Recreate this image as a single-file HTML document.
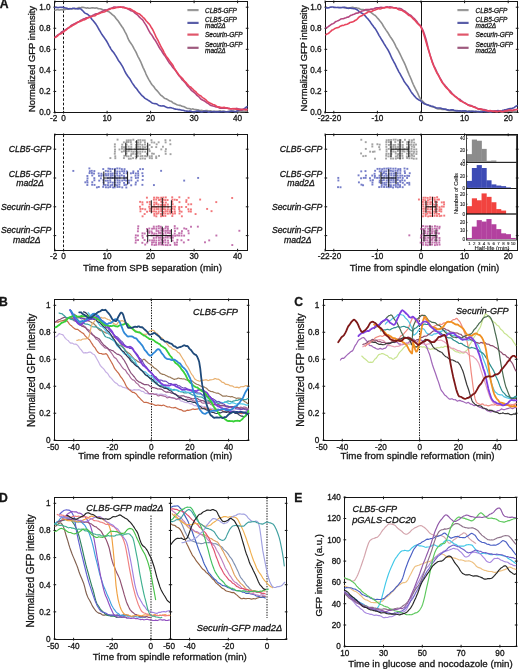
<!DOCTYPE html>
<html><head><meta charset="utf-8"><style>html,body{margin:0;padding:0;background:#fff;width:520px;height:669px;overflow:hidden}svg{display:block;filter:blur(0.3px)}text{font-family:"Liberation Sans",sans-serif}</style></head>
<body><svg width="520" height="669" viewBox="0 0 520 669" font-family="Liberation Sans, sans-serif"><text x="-0.3" y="8.4" font-size="12.2" text-anchor="start" font-weight="bold" fill="#151515" stroke="#151515" stroke-width="0.3">A</text>
<text x="-1" y="305.8" font-size="12.2" text-anchor="start" font-weight="bold" fill="#151515" stroke="#151515" stroke-width="0.3">B</text>
<text x="294.3" y="306.2" font-size="12.2" text-anchor="start" font-weight="bold" fill="#151515" stroke="#151515" stroke-width="0.3">C</text>
<text x="-1" y="501.9" font-size="12.2" text-anchor="start" font-weight="bold" fill="#151515" stroke="#151515" stroke-width="0.3">D</text>
<text x="294.3" y="502.1" font-size="12.2" text-anchor="start" font-weight="bold" fill="#151515" stroke="#151515" stroke-width="0.3">E</text>
<rect x="54.5" y="1.5" width="193" height="111" stroke="#151515" stroke-width="1" fill="none"/>
<line x1="54.9" y1="110.8" x2="54.9" y2="113.52" stroke="#151515" stroke-width="1"/>
<line x1="54.9" y1="0.48" x2="54.9" y2="3.2" stroke="#151515" stroke-width="1"/>
<line x1="63.6" y1="110.8" x2="63.6" y2="113.52" stroke="#151515" stroke-width="1"/>
<line x1="63.6" y1="0.48" x2="63.6" y2="3.2" stroke="#151515" stroke-width="1"/>
<line x1="107.1" y1="110.8" x2="107.1" y2="113.52" stroke="#151515" stroke-width="1"/>
<line x1="107.1" y1="0.48" x2="107.1" y2="3.2" stroke="#151515" stroke-width="1"/>
<line x1="150.6" y1="110.8" x2="150.6" y2="113.52" stroke="#151515" stroke-width="1"/>
<line x1="150.6" y1="0.48" x2="150.6" y2="3.2" stroke="#151515" stroke-width="1"/>
<line x1="194.1" y1="110.8" x2="194.1" y2="113.52" stroke="#151515" stroke-width="1"/>
<line x1="194.1" y1="0.48" x2="194.1" y2="3.2" stroke="#151515" stroke-width="1"/>
<line x1="237.6" y1="110.8" x2="237.6" y2="113.52" stroke="#151515" stroke-width="1"/>
<line x1="237.6" y1="0.48" x2="237.6" y2="3.2" stroke="#151515" stroke-width="1"/>
<line x1="53.48" y1="112.5" x2="56.2" y2="112.5" stroke="#151515" stroke-width="1"/>
<line x1="245.8" y1="112.5" x2="248.52" y2="112.5" stroke="#151515" stroke-width="1"/>
<line x1="53.48" y1="91.44" x2="56.2" y2="91.44" stroke="#151515" stroke-width="1"/>
<line x1="245.8" y1="91.44" x2="248.52" y2="91.44" stroke="#151515" stroke-width="1"/>
<line x1="53.48" y1="70.38" x2="56.2" y2="70.38" stroke="#151515" stroke-width="1"/>
<line x1="245.8" y1="70.38" x2="248.52" y2="70.38" stroke="#151515" stroke-width="1"/>
<line x1="53.48" y1="49.32" x2="56.2" y2="49.32" stroke="#151515" stroke-width="1"/>
<line x1="245.8" y1="49.32" x2="248.52" y2="49.32" stroke="#151515" stroke-width="1"/>
<line x1="53.48" y1="28.26" x2="56.2" y2="28.26" stroke="#151515" stroke-width="1"/>
<line x1="245.8" y1="28.26" x2="248.52" y2="28.26" stroke="#151515" stroke-width="1"/>
<line x1="53.48" y1="7.2" x2="56.2" y2="7.2" stroke="#151515" stroke-width="1"/>
<line x1="245.8" y1="7.2" x2="248.52" y2="7.2" stroke="#151515" stroke-width="1"/>
<line x1="63.5" y1="1.5" x2="63.5" y2="112.5" stroke="#151515" stroke-width="1" stroke-dasharray="2.6,1.8"/>
<text x="50.6" y="115.3" font-size="8.2" text-anchor="end" fill="#151515" stroke="#151515" stroke-width="0.3">0.0</text>
<text x="50.6" y="94.24" font-size="8.2" text-anchor="end" fill="#151515" stroke="#151515" stroke-width="0.3">0.2</text>
<text x="50.6" y="73.18" font-size="8.2" text-anchor="end" fill="#151515" stroke="#151515" stroke-width="0.3">0.4</text>
<text x="50.6" y="52.12" font-size="8.2" text-anchor="end" fill="#151515" stroke="#151515" stroke-width="0.3">0.6</text>
<text x="50.6" y="31.06" font-size="8.2" text-anchor="end" fill="#151515" stroke="#151515" stroke-width="0.3">0.8</text>
<text x="50.6" y="10" font-size="8.2" text-anchor="end" fill="#151515" stroke="#151515" stroke-width="0.3">1.0</text>
<text x="53.7" y="120.5" font-size="8.2" text-anchor="middle" fill="#151515" stroke="#151515" stroke-width="0.3">-2</text>
<text x="63.6" y="120.5" font-size="8.2" text-anchor="middle" fill="#151515" stroke="#151515" stroke-width="0.3">0</text>
<text x="107.1" y="120.5" font-size="8.2" text-anchor="middle" fill="#151515" stroke="#151515" stroke-width="0.3">10</text>
<text x="150.6" y="120.5" font-size="8.2" text-anchor="middle" fill="#151515" stroke="#151515" stroke-width="0.3">20</text>
<text x="194.1" y="120.5" font-size="8.2" text-anchor="middle" fill="#151515" stroke="#151515" stroke-width="0.3">30</text>
<text x="237.6" y="120.5" font-size="8.2" text-anchor="middle" fill="#151515" stroke="#151515" stroke-width="0.3">40</text>
<text x="35.4" y="59" font-size="9.4" text-anchor="middle" fill="#151515" transform="rotate(-90 35.4 59)" stroke="#151515" stroke-width="0.3">Normalized GFP intensity</text>
<polyline points="55,10.35 56,10.08 57,9.78 58,9.79 59,10.07 60,9.86 61,9.57 62,9.79 63,9.88 64,9.65 65,9.4 66,9.11 67,9.05 68,9.15 69,8.79 70,8.49 71,8.78 72,8.95 73,8.8 74,8.72 75,8.6 76,8.57 77,8.52 78,7.97 79,7.53 80,7.68 81,7.65 82,7.4 83,7.4 84,7.53 85,7.82 86,8.1 87,7.92 88,7.88 89,8.27 90,8.27 91,7.95 92,7.87 93,7.9 94,8.01 95,8.12 96,7.92 97,8.02 98,8.6 99,8.8 100,8.76 101,9.04 102,9.38 103,9.68 104,9.93 105,9.93 106,10.28 107,11.08 108,11.51 109,11.81 110,12.57 111,13.44 112,14.29 113,15.14 114,15.87 115,17.02 116,18.56 117,19.66 118,20.7 119,22.25 120,23.8 121,25.24 122,26.68 123,28.05 124,29.8 125,31.84 126,33.59 127,35.75 128,38.41 129,40.48 130,42.03 131,43.48 132,44.87 133,46.64 134,48.66 135,50.3 136,52.07 137,54.4 138,56.57 139,58.48 140,60.46 141,62.46 142,64.84 143,67.35 144,69.4 145,71.54 146,74.08 147,76.23 148,78.02 149,79.81 150,81.48 151,83.2 152,84.76 153,85.76 154,86.9 155,88.46 156,89.66 157,90.61 158,91.77 159,92.96 160,94.23 161,95.36 162,95.99 163,96.79 164,97.89 165,98.47 166,98.75 167,99.28 168,99.85 169,100.48 170,101.04 171,101.3 172,101.92 173,102.9 174,103.38 175,103.64 176,104.19 177,104.69 178,105.09 179,105.35 180,105.32 181,105.68 182,106.33 183,106.51 184,106.64 185,107.2 186,107.74 187,108.16 188,108.44 189,108.46 190,108.79 191,109.23 192,109.08 193,108.9 194,109.2 195,109.44 196,109.58 197,109.71 198,109.77 199,110.18 200,110.66 201,110.53 202,110.41 203,110.71 204,110.79 205,110.67 206,110.56 207,110.45 208,110.71 209,111.03 210,110.86 211,110.87 212,111.33 213,111.5 214,111.41 215,111.34 216,111.21 217,111.31 218,111.37 219,110.96 220,110.83 221,111.21 222,111.32 223,111.26 224,111.35 225,111.45 226,111.71 227,111.8 228,111.4 229,111.27 230,111.52 231,111.37 232,111.09 233,111.09 234,111.18 235,111.45 236,111.6 237,111.38 238,111.51 239,111.91 240,111.78 241,111.46 242,111.41 243,111.37 244,111.41 245,111.34 246,111.05 247,111.23" fill="none" stroke="#8e8e8e" stroke-width="1.6" stroke-linejoin="round" stroke-linecap="round"/>
<polyline points="55,7.44 56,7.39 57,7.42 58,7.6 59,7.52 60,7.27 61,7.28 62,7.35 63,7.33 64,7.54 65,7.88 66,8.03 67,8.25 68,8.68 69,8.88 70,8.8 71,8.77 72,8.61 73,8.29 74,8.29 75,8.59 76,8.71 77,8.77 78,8.85 79,8.71 80,8.62 81,9.13 82,10.04 83,11.04 84,12.18 85,13.13 86,13.56 87,13.92 88,14.64 89,15.51 90,16.58 91,18.03 92,19.44 93,20.53 94,21.7 95,23.04 96,24.33 97,25.83 98,27.72 99,29.49 100,31.11 101,32.89 102,34.58 103,35.94 104,37.33 105,38.81 106,40.2 107,41.76 108,43.68 109,45.54 110,47.26 111,49.06 112,50.61 113,51.75 114,53.03 115,54.58 116,56.14 117,57.85 118,59.73 119,61.3 120,62.57 121,64.05 122,65.69 123,67.4 124,69.49 125,71.71 126,73.5 127,74.97 128,76.43 129,77.74 130,79.07 131,80.8 132,82.6 133,84.1 134,85.56 135,86.98 136,88.11 137,89.31 138,90.78 139,92.12 140,93.26 141,94.5 142,95.62 143,96.45 144,97.37 145,98.32 146,98.92 147,99.43 148,100.13 149,100.74 150,101.34 151,102.19 152,102.94 153,103.23 154,103.43 155,103.66 156,103.78 157,104.11 158,104.84 159,105.44 160,105.7 161,105.9 162,105.93 163,105.78 164,105.98 165,106.56 166,107.03 167,107.41 168,107.78 169,107.8 170,107.62 171,107.75 172,108.07 173,108.3 174,108.67 175,109.09 176,109.17 177,109.19 178,109.44 179,109.61 180,109.67 181,109.94 182,110.22 183,110.29 184,110.54 185,110.95 186,111.08 187,111.09 188,111.18 189,111.09 190,110.95 191,111.18 192,111.55 193,111.69 194,111.77 195,111.74 196,111.35 197,111.02 198,111.13 199,111.37 200,111.59 201,111.92 202,112 203,111.63 204,111.34 205,111.33 206,111.36 207,111.55 208,111.97 209,112.1 210,111.88 211,111.77 212,111.69 213,111.52 214,111.6 215,111.87 216,111.89 217,111.82 218,111.92 219,111.89 220,111.72 221,111.75 222,111.77 223,111.55 224,111.5 225,111.69 226,111.75 227,111.77 228,111.88 229,111.7 230,111.28 231,111.12 232,111.18 233,111.22 234,111.45 235,111.71 236,111.49 237,111.01 238,110.68 239,110.37 240,110.12 241,110.19 242,110.16 243,109.64 244,108.93 245,108.2 246,107.29 247,106.59" fill="none" stroke="#4b50a8" stroke-width="1.6" stroke-linejoin="round" stroke-linecap="round"/>
<polyline points="55,36.9 56,36.34 57,35.64 58,34.83 59,34.32 60,33.74 61,32.63 62,31.65 63,31.15 64,30.64 65,30.07 66,29.46 67,28.67 68,28.07 69,27.66 70,26.76 71,25.62 72,24.94 73,24.45 74,23.92 75,23.45 76,22.87 77,22.35 78,22.19 79,21.79 80,20.85 81,20.12 82,19.72 83,19.25 84,18.84 85,18.42 86,17.92 87,17.81 88,17.79 89,17.19 90,16.44 91,16.03 92,15.62 93,15.15 94,14.72 95,14.16 96,13.84 97,13.91 98,13.6 99,12.86 100,12.36 101,11.99 102,11.49 103,11.04 104,10.47 105,9.95 106,9.94 107,9.94 108,9.4 109,8.9 110,8.65 111,8.31 112,7.94 113,7.55 114,7.03 115,6.96 116,7.3 117,7.27 118,7.04 119,7.14 120,7.26 121,7.27 122,7.28 123,7.09 124,7.09 125,7.69 126,8.24 127,8.44 128,8.9 129,9.57 130,10.13 131,10.69 132,11.06 133,11.32 134,12.11 135,13.17 136,13.84 137,14.51 138,15.54 139,16.57 140,17.58 141,18.53 142,19.25 143,20.34 144,22.05 145,23.66 146,25.13 147,26.99 148,29 149,30.91 150,32.7 151,34.06 152,35.3 153,37.01 154,38.74 155,40.06 156,41.56 157,43.37 158,45.19 159,47.04 160,48.67 161,49.94 162,51.49 163,53.3 164,54.69 165,55.93 166,57.49 167,59.14 168,60.83 169,62.45 170,63.64 171,64.82 172,66.39 173,67.74 174,68.69 175,69.87 176,71.29 177,72.76 178,74.36 179,75.66 180,76.69 181,78.09 182,79.55 183,80.49 184,81.38 185,82.54 186,83.78 187,85.18 188,86.51 189,87.43 190,88.53 191,89.94 192,90.91 193,91.52 194,92.32 195,93.2 196,94.21 197,95.35 198,96.16 199,96.91 200,98.11 201,99.17 202,99.68 203,100.17 204,100.76 205,101.39 206,102.21 207,102.89 208,103.28 209,104.05 210,105.05 211,105.54 212,105.74 213,106.02 214,106.26 215,106.62 216,106.99 217,106.99 218,107.13 219,107.78 220,108.19 221,108.17 222,108.17 223,108.14 224,108.13 225,108.27 226,108.13 227,107.87 228,108.17 229,108.66 230,108.74 231,108.73 232,108.75 233,108.72 234,108.83 235,108.81 236,108.43 237,108.4 238,108.86 239,109.09 240,109.1 241,109.21 242,109.26 243,109.38 244,109.53 245,109.25 246,108.95 247,109.24" fill="none" stroke="#b4467f" stroke-width="1.6" stroke-linejoin="round" stroke-linecap="round"/>
<polyline points="55,37.61 56,37.09 57,36.29 58,35.5 59,34.67 60,33.92 61,33.73 62,33.15 63,32.35 64,31.54 65,30.64 66,30.13 67,29.23 68,28.18 69,27.48 70,26.84 71,26.6 72,26.01 73,25.17 74,24.7 75,24.11 76,23.65 77,22.9 78,21.97 79,21.66 80,21.35 81,21.1 82,20.7 83,20.05 84,19.92 85,19.59 86,19.01 87,18.38 88,17.62 89,17.47 90,17.25 91,16.78 92,16.48 93,16.06 94,16.03 95,15.75 96,14.97 97,14.42 98,13.85 99,13.61 100,13.31 101,12.63 102,12.41 103,12.21 104,12.06 105,11.72 106,10.86 107,10.4 108,10.01 109,9.56 110,9.15 111,8.5 112,8.45 113,8.54 114,8.34 115,8.14 116,7.64 117,7.55 118,7.56 119,7.18 120,7.03 121,6.89 122,7.2 123,7.7 124,7.69 125,7.87 126,8.03 127,8.35 128,8.74 129,8.6 130,8.81 131,9.31 132,9.94 133,10.73 134,11.04 135,11.65 136,12.47 137,13.04 138,13.63 139,13.82 140,14.39 141,15.41 142,16.24 143,17.26 144,18.13 145,19.29 146,20.8 147,21.81 148,22.84 149,23.84 150,25.13 151,26.94 152,28.45 153,30.25 154,32.33 155,34.51 156,36.88 157,38.66 158,40.47 159,42.55 160,44.55 161,46.73 162,48.43 163,50.18 164,52.3 165,54.14 166,55.92 167,57.21 168,58.43 169,60.07 170,61.38 171,62.72 172,64 173,65.47 174,67.55 175,69.27 176,70.82 177,72.28 178,73.58 179,75.17 180,76.21 181,77.02 182,78.05 183,79.12 184,80.6 185,81.7 186,82.59 187,83.82 188,84.9 189,86.08 190,86.83 191,87.32 192,88.34 193,89.29 194,90.34 195,91.22 196,91.93 197,93.19 198,94.21 199,94.99 200,95.61 201,96.03 202,97.01 203,97.83 204,98.44 205,99.22 206,99.95 207,101.13 208,102.03 209,102.44 210,102.99 211,103.39 212,104.07 213,104.56 214,104.68 215,105.24 216,105.81 217,106.5 218,106.95 219,106.89 220,107.18 221,107.4 222,107.52 223,107.55 224,107.29 225,107.62 226,108.06 227,108.28 228,108.49 229,108.38 230,108.68 231,108.94 232,108.75 233,108.67 234,108.51 235,108.81 236,109.24 237,109.2 238,109.38 239,109.5 240,109.77 241,110 242,109.61 243,109.5 244,109.53 245,109.69 246,109.98 247,109.8" fill="none" stroke="#e8455e" stroke-width="1.6" stroke-linejoin="round" stroke-linecap="round"/>
<line x1="187.4" y1="10.1" x2="198.6" y2="10.1" stroke="#999999" stroke-width="2.2"/>
<text x="205" y="12.5" font-size="6.5" text-anchor="start" font-style="italic" fill="#222" stroke="#222" stroke-width="0.3">CLB5-GFP</text>
<line x1="187.4" y1="22.9" x2="198.6" y2="22.9" stroke="#5a5ea8" stroke-width="2.2"/>
<text x="205" y="22.1" font-size="6.5" text-anchor="start" font-style="italic" fill="#222" stroke="#222" stroke-width="0.3">CLB5-GFP</text>
<text x="205" y="28.1" font-size="6.5" text-anchor="start" font-style="italic" fill="#222" stroke="#222" stroke-width="0.3">mad2Δ</text>
<line x1="187.4" y1="34.6" x2="198.6" y2="34.6" stroke="#e0566a" stroke-width="2.2"/>
<text x="205" y="37" font-size="6.5" text-anchor="start" font-style="italic" fill="#222" stroke="#222" stroke-width="0.3">Securin-GFP</text>
<line x1="187.4" y1="47.8" x2="198.6" y2="47.8" stroke="#9e5a7e" stroke-width="2.2"/>
<text x="205" y="47" font-size="6.5" text-anchor="start" font-style="italic" fill="#222" stroke="#222" stroke-width="0.3">Securin-GFP</text>
<text x="205" y="53" font-size="6.5" text-anchor="start" font-style="italic" fill="#222" stroke="#222" stroke-width="0.3">mad2Δ</text>
<rect x="54.5" y="134.5" width="193" height="116" stroke="#151515" stroke-width="1" fill="none"/>
<line x1="54.9" y1="248.8" x2="54.9" y2="251.52" stroke="#151515" stroke-width="1"/>
<line x1="54.9" y1="133.48" x2="54.9" y2="136.2" stroke="#151515" stroke-width="1"/>
<line x1="63.6" y1="248.8" x2="63.6" y2="251.52" stroke="#151515" stroke-width="1"/>
<line x1="63.6" y1="133.48" x2="63.6" y2="136.2" stroke="#151515" stroke-width="1"/>
<line x1="107.1" y1="248.8" x2="107.1" y2="251.52" stroke="#151515" stroke-width="1"/>
<line x1="107.1" y1="133.48" x2="107.1" y2="136.2" stroke="#151515" stroke-width="1"/>
<line x1="150.6" y1="248.8" x2="150.6" y2="251.52" stroke="#151515" stroke-width="1"/>
<line x1="150.6" y1="133.48" x2="150.6" y2="136.2" stroke="#151515" stroke-width="1"/>
<line x1="194.1" y1="248.8" x2="194.1" y2="251.52" stroke="#151515" stroke-width="1"/>
<line x1="194.1" y1="133.48" x2="194.1" y2="136.2" stroke="#151515" stroke-width="1"/>
<line x1="237.6" y1="248.8" x2="237.6" y2="251.52" stroke="#151515" stroke-width="1"/>
<line x1="237.6" y1="133.48" x2="237.6" y2="136.2" stroke="#151515" stroke-width="1"/>
<line x1="53.48" y1="149.2" x2="56.2" y2="149.2" stroke="#151515" stroke-width="1"/>
<line x1="245.8" y1="149.2" x2="248.52" y2="149.2" stroke="#151515" stroke-width="1"/>
<line x1="53.48" y1="178" x2="56.2" y2="178" stroke="#151515" stroke-width="1"/>
<line x1="245.8" y1="178" x2="248.52" y2="178" stroke="#151515" stroke-width="1"/>
<line x1="53.48" y1="206.8" x2="56.2" y2="206.8" stroke="#151515" stroke-width="1"/>
<line x1="245.8" y1="206.8" x2="248.52" y2="206.8" stroke="#151515" stroke-width="1"/>
<line x1="53.48" y1="235.6" x2="56.2" y2="235.6" stroke="#151515" stroke-width="1"/>
<line x1="245.8" y1="235.6" x2="248.52" y2="235.6" stroke="#151515" stroke-width="1"/>
<line x1="63.5" y1="134.5" x2="63.5" y2="250.5" stroke="#151515" stroke-width="1" stroke-dasharray="2.6,1.8"/>
<text x="53.7" y="258.8" font-size="8.2" text-anchor="middle" fill="#151515" stroke="#151515" stroke-width="0.3">-2</text>
<text x="63.6" y="258.8" font-size="8.2" text-anchor="middle" fill="#151515" stroke="#151515" stroke-width="0.3">0</text>
<text x="107.1" y="258.8" font-size="8.2" text-anchor="middle" fill="#151515" stroke="#151515" stroke-width="0.3">10</text>
<text x="150.6" y="258.8" font-size="8.2" text-anchor="middle" fill="#151515" stroke="#151515" stroke-width="0.3">20</text>
<text x="194.1" y="258.8" font-size="8.2" text-anchor="middle" fill="#151515" stroke="#151515" stroke-width="0.3">30</text>
<text x="237.6" y="258.8" font-size="8.2" text-anchor="middle" fill="#151515" stroke="#151515" stroke-width="0.3">40</text>
<text x="152.5" y="270.8" font-size="9.75" text-anchor="middle" fill="#151515" stroke="#151515" stroke-width="0.3">Time from SPB separation (min)</text>
<text x="51.2" y="152.4" font-size="8.7" text-anchor="end" font-style="italic" fill="#151515" stroke="#151515" stroke-width="0.3">CLB5-GFP</text>
<text x="51.2" y="176.6" font-size="8.7" text-anchor="end" font-style="italic" fill="#151515" stroke="#151515" stroke-width="0.3">CLB5-GFP</text>
<text x="29.95" y="185.9" font-size="8.7" text-anchor="middle" font-style="italic" fill="#151515" stroke="#151515" stroke-width="0.3">mad2Δ</text>
<text x="51.2" y="210.2" font-size="8.7" text-anchor="end" font-style="italic" fill="#151515" stroke="#151515" stroke-width="0.3">Securin-GFP</text>
<text x="51.2" y="233.4" font-size="8.7" text-anchor="end" font-style="italic" fill="#151515" stroke="#151515" stroke-width="0.3">Securin-GFP</text>
<text x="26.75" y="242.7" font-size="8.7" text-anchor="middle" font-style="italic" fill="#151515" stroke="#151515" stroke-width="0.3">mad2Δ</text>
<rect x="113.92" y="143.36" width="1.9" height="1.9" fill="#7c7c7c" fill-opacity="0.7"/>
<rect x="114.05" y="148.52" width="1.9" height="1.9" fill="#7c7c7c" fill-opacity="0.7"/>
<rect x="114.29" y="155.32" width="1.9" height="1.9" fill="#7c7c7c" fill-opacity="0.7"/>
<rect x="114.37" y="157.27" width="1.9" height="1.9" fill="#7c7c7c" fill-opacity="0.7"/>
<rect x="113.82" y="152.81" width="1.9" height="1.9" fill="#7c7c7c" fill-opacity="0.7"/>
<rect x="113.89" y="145.72" width="1.9" height="1.9" fill="#7c7c7c" fill-opacity="0.7"/>
<rect x="113.99" y="150.65" width="1.9" height="1.9" fill="#7c7c7c" fill-opacity="0.7"/>
<rect x="118.52" y="148.52" width="1.9" height="1.9" fill="#7c7c7c" fill-opacity="0.7"/>
<rect x="109.42" y="157.11" width="1.9" height="1.9" fill="#7c7c7c" fill-opacity="0.7"/>
<rect x="116.61" y="138.68" width="1.9" height="1.9" fill="#7c7c7c" fill-opacity="0.7"/>
<rect x="125.78" y="150.34" width="1.9" height="1.9" fill="#7c7c7c" fill-opacity="0.7"/>
<rect x="125.3" y="147.89" width="1.9" height="1.9" fill="#7c7c7c" fill-opacity="0.7"/>
<rect x="125.64" y="143.61" width="1.9" height="1.9" fill="#7c7c7c" fill-opacity="0.7"/>
<rect x="125.64" y="155.27" width="1.9" height="1.9" fill="#7c7c7c" fill-opacity="0.7"/>
<rect x="125.77" y="139.42" width="1.9" height="1.9" fill="#7c7c7c" fill-opacity="0.7"/>
<rect x="125.68" y="141.11" width="1.9" height="1.9" fill="#7c7c7c" fill-opacity="0.7"/>
<rect x="125.53" y="152.59" width="1.9" height="1.9" fill="#7c7c7c" fill-opacity="0.7"/>
<rect x="125.21" y="145.93" width="1.9" height="1.9" fill="#7c7c7c" fill-opacity="0.7"/>
<rect x="134.68" y="153.08" width="1.9" height="1.9" fill="#7c7c7c" fill-opacity="0.7"/>
<rect x="135.03" y="141.02" width="1.9" height="1.9" fill="#7c7c7c" fill-opacity="0.7"/>
<rect x="135.05" y="146.13" width="1.9" height="1.9" fill="#7c7c7c" fill-opacity="0.7"/>
<rect x="134.49" y="148.21" width="1.9" height="1.9" fill="#7c7c7c" fill-opacity="0.7"/>
<rect x="134.84" y="155.48" width="1.9" height="1.9" fill="#7c7c7c" fill-opacity="0.7"/>
<rect x="134.66" y="150.61" width="1.9" height="1.9" fill="#7c7c7c" fill-opacity="0.7"/>
<rect x="135.02" y="143.89" width="1.9" height="1.9" fill="#7c7c7c" fill-opacity="0.7"/>
<rect x="135.06" y="157.42" width="1.9" height="1.9" fill="#7c7c7c" fill-opacity="0.7"/>
<rect x="130.48" y="150.58" width="1.9" height="1.9" fill="#7c7c7c" fill-opacity="0.7"/>
<rect x="130.35" y="143.51" width="1.9" height="1.9" fill="#7c7c7c" fill-opacity="0.7"/>
<rect x="130.44" y="153.13" width="1.9" height="1.9" fill="#7c7c7c" fill-opacity="0.7"/>
<rect x="130.04" y="154.82" width="1.9" height="1.9" fill="#7c7c7c" fill-opacity="0.7"/>
<rect x="130.11" y="148.29" width="1.9" height="1.9" fill="#7c7c7c" fill-opacity="0.7"/>
<rect x="130.34" y="145.94" width="1.9" height="1.9" fill="#7c7c7c" fill-opacity="0.7"/>
<rect x="129.82" y="139.3" width="1.9" height="1.9" fill="#7c7c7c" fill-opacity="0.7"/>
<rect x="129.84" y="157.69" width="1.9" height="1.9" fill="#7c7c7c" fill-opacity="0.7"/>
<rect x="129.92" y="141.22" width="1.9" height="1.9" fill="#7c7c7c" fill-opacity="0.7"/>
<rect x="152.9" y="152.86" width="1.9" height="1.9" fill="#7c7c7c" fill-opacity="0.7"/>
<rect x="153.31" y="141.62" width="1.9" height="1.9" fill="#7c7c7c" fill-opacity="0.7"/>
<rect x="141.5" y="150.73" width="1.9" height="1.9" fill="#7c7c7c" fill-opacity="0.7"/>
<rect x="141.75" y="157.47" width="1.9" height="1.9" fill="#7c7c7c" fill-opacity="0.7"/>
<rect x="141.89" y="146" width="1.9" height="1.9" fill="#7c7c7c" fill-opacity="0.7"/>
<rect x="141.52" y="155.05" width="1.9" height="1.9" fill="#7c7c7c" fill-opacity="0.7"/>
<rect x="141.89" y="139.37" width="1.9" height="1.9" fill="#7c7c7c" fill-opacity="0.7"/>
<rect x="141.45" y="143.93" width="1.9" height="1.9" fill="#7c7c7c" fill-opacity="0.7"/>
<rect x="141.98" y="148.27" width="1.9" height="1.9" fill="#7c7c7c" fill-opacity="0.7"/>
<rect x="121.02" y="147.87" width="1.9" height="1.9" fill="#7c7c7c" fill-opacity="0.7"/>
<rect x="121.28" y="143.66" width="1.9" height="1.9" fill="#7c7c7c" fill-opacity="0.7"/>
<rect x="120.88" y="150.79" width="1.9" height="1.9" fill="#7c7c7c" fill-opacity="0.7"/>
<rect x="120.99" y="145.94" width="1.9" height="1.9" fill="#7c7c7c" fill-opacity="0.7"/>
<rect x="127.83" y="150.25" width="1.9" height="1.9" fill="#7c7c7c" fill-opacity="0.7"/>
<rect x="127.8" y="139.3" width="1.9" height="1.9" fill="#7c7c7c" fill-opacity="0.7"/>
<rect x="128.13" y="148.23" width="1.9" height="1.9" fill="#7c7c7c" fill-opacity="0.7"/>
<rect x="127.72" y="145.7" width="1.9" height="1.9" fill="#7c7c7c" fill-opacity="0.7"/>
<rect x="127.93" y="157.79" width="1.9" height="1.9" fill="#7c7c7c" fill-opacity="0.7"/>
<rect x="127.59" y="155.37" width="1.9" height="1.9" fill="#7c7c7c" fill-opacity="0.7"/>
<rect x="127.52" y="141.11" width="1.9" height="1.9" fill="#7c7c7c" fill-opacity="0.7"/>
<rect x="139.18" y="143.41" width="1.9" height="1.9" fill="#7c7c7c" fill-opacity="0.7"/>
<rect x="139.37" y="152.8" width="1.9" height="1.9" fill="#7c7c7c" fill-opacity="0.7"/>
<rect x="139.26" y="145.88" width="1.9" height="1.9" fill="#7c7c7c" fill-opacity="0.7"/>
<rect x="139.37" y="147.98" width="1.9" height="1.9" fill="#7c7c7c" fill-opacity="0.7"/>
<rect x="139.14" y="150.66" width="1.9" height="1.9" fill="#7c7c7c" fill-opacity="0.7"/>
<rect x="139.45" y="139.07" width="1.9" height="1.9" fill="#7c7c7c" fill-opacity="0.7"/>
<rect x="139.6" y="155.24" width="1.9" height="1.9" fill="#7c7c7c" fill-opacity="0.7"/>
<rect x="139.6" y="141.14" width="1.9" height="1.9" fill="#7c7c7c" fill-opacity="0.7"/>
<rect x="139.52" y="157.7" width="1.9" height="1.9" fill="#7c7c7c" fill-opacity="0.7"/>
<rect x="155.25" y="155.55" width="1.9" height="1.9" fill="#7c7c7c" fill-opacity="0.7"/>
<rect x="155.72" y="143.36" width="1.9" height="1.9" fill="#7c7c7c" fill-opacity="0.7"/>
<rect x="155.27" y="146.13" width="1.9" height="1.9" fill="#7c7c7c" fill-opacity="0.7"/>
<rect x="155.28" y="157.13" width="1.9" height="1.9" fill="#7c7c7c" fill-opacity="0.7"/>
<rect x="145.99" y="152.77" width="1.9" height="1.9" fill="#7c7c7c" fill-opacity="0.7"/>
<rect x="146.38" y="145.56" width="1.9" height="1.9" fill="#7c7c7c" fill-opacity="0.7"/>
<rect x="146.04" y="155.3" width="1.9" height="1.9" fill="#7c7c7c" fill-opacity="0.7"/>
<rect x="123.38" y="154.9" width="1.9" height="1.9" fill="#7c7c7c" fill-opacity="0.7"/>
<rect x="122.95" y="157.13" width="1.9" height="1.9" fill="#7c7c7c" fill-opacity="0.7"/>
<rect x="122.93" y="141.39" width="1.9" height="1.9" fill="#7c7c7c" fill-opacity="0.7"/>
<rect x="123.26" y="148.3" width="1.9" height="1.9" fill="#7c7c7c" fill-opacity="0.7"/>
<rect x="123" y="150.3" width="1.9" height="1.9" fill="#7c7c7c" fill-opacity="0.7"/>
<rect x="123.04" y="146.22" width="1.9" height="1.9" fill="#7c7c7c" fill-opacity="0.7"/>
<rect x="151.04" y="157.31" width="1.9" height="1.9" fill="#7c7c7c" fill-opacity="0.7"/>
<rect x="150.83" y="155.16" width="1.9" height="1.9" fill="#7c7c7c" fill-opacity="0.7"/>
<rect x="150.8" y="141.43" width="1.9" height="1.9" fill="#7c7c7c" fill-opacity="0.7"/>
<rect x="150.51" y="139.21" width="1.9" height="1.9" fill="#7c7c7c" fill-opacity="0.7"/>
<rect x="151.09" y="152.6" width="1.9" height="1.9" fill="#7c7c7c" fill-opacity="0.7"/>
<rect x="150.82" y="146.14" width="1.9" height="1.9" fill="#7c7c7c" fill-opacity="0.7"/>
<rect x="144.09" y="146.24" width="1.9" height="1.9" fill="#7c7c7c" fill-opacity="0.7"/>
<rect x="144.04" y="143.57" width="1.9" height="1.9" fill="#7c7c7c" fill-opacity="0.7"/>
<rect x="144.02" y="141.35" width="1.9" height="1.9" fill="#7c7c7c" fill-opacity="0.7"/>
<rect x="144.29" y="150.79" width="1.9" height="1.9" fill="#7c7c7c" fill-opacity="0.7"/>
<rect x="143.78" y="139.38" width="1.9" height="1.9" fill="#7c7c7c" fill-opacity="0.7"/>
<rect x="144.12" y="157.67" width="1.9" height="1.9" fill="#7c7c7c" fill-opacity="0.7"/>
<rect x="144.17" y="155.07" width="1.9" height="1.9" fill="#7c7c7c" fill-opacity="0.7"/>
<rect x="136.94" y="155.13" width="1.9" height="1.9" fill="#7c7c7c" fill-opacity="0.7"/>
<rect x="136.71" y="152.73" width="1.9" height="1.9" fill="#7c7c7c" fill-opacity="0.7"/>
<rect x="137.15" y="148.35" width="1.9" height="1.9" fill="#7c7c7c" fill-opacity="0.7"/>
<rect x="136.86" y="150.91" width="1.9" height="1.9" fill="#7c7c7c" fill-opacity="0.7"/>
<rect x="137.17" y="145.82" width="1.9" height="1.9" fill="#7c7c7c" fill-opacity="0.7"/>
<rect x="137.16" y="141.41" width="1.9" height="1.9" fill="#7c7c7c" fill-opacity="0.7"/>
<rect x="137.07" y="143.56" width="1.9" height="1.9" fill="#7c7c7c" fill-opacity="0.7"/>
<rect x="137.4" y="139.16" width="1.9" height="1.9" fill="#7c7c7c" fill-opacity="0.7"/>
<rect x="132.53" y="150.74" width="1.9" height="1.9" fill="#7c7c7c" fill-opacity="0.7"/>
<rect x="132.28" y="152.77" width="1.9" height="1.9" fill="#7c7c7c" fill-opacity="0.7"/>
<rect x="132.14" y="157.21" width="1.9" height="1.9" fill="#7c7c7c" fill-opacity="0.7"/>
<rect x="132.36" y="138.73" width="1.9" height="1.9" fill="#7c7c7c" fill-opacity="0.7"/>
<rect x="148.6" y="144.05" width="1.9" height="1.9" fill="#7c7c7c" fill-opacity="0.7"/>
<rect x="148.65" y="155.4" width="1.9" height="1.9" fill="#7c7c7c" fill-opacity="0.7"/>
<rect x="148.25" y="148.33" width="1.9" height="1.9" fill="#7c7c7c" fill-opacity="0.7"/>
<rect x="148.73" y="150.19" width="1.9" height="1.9" fill="#7c7c7c" fill-opacity="0.7"/>
<rect x="148.85" y="157.18" width="1.9" height="1.9" fill="#7c7c7c" fill-opacity="0.7"/>
<rect x="164.96" y="148.19" width="1.9" height="1.9" fill="#7c7c7c" fill-opacity="0.7"/>
<rect x="164.67" y="141.43" width="1.9" height="1.9" fill="#7c7c7c" fill-opacity="0.7"/>
<rect x="164.56" y="150.38" width="1.9" height="1.9" fill="#7c7c7c" fill-opacity="0.7"/>
<rect x="164.76" y="152.9" width="1.9" height="1.9" fill="#7c7c7c" fill-opacity="0.7"/>
<rect x="164.5" y="139.22" width="1.9" height="1.9" fill="#7c7c7c" fill-opacity="0.7"/>
<rect x="162.01" y="145.75" width="1.9" height="1.9" fill="#7c7c7c" fill-opacity="0.7"/>
<rect x="169.17" y="139.37" width="1.9" height="1.9" fill="#7c7c7c" fill-opacity="0.7"/>
<rect x="169.42" y="143.29" width="1.9" height="1.9" fill="#7c7c7c" fill-opacity="0.7"/>
<rect x="169.59" y="153.21" width="1.9" height="1.9" fill="#7c7c7c" fill-opacity="0.7"/>
<rect x="157.7" y="141.33" width="1.9" height="1.9" fill="#7c7c7c" fill-opacity="0.7"/>
<rect x="158.08" y="154.94" width="1.9" height="1.9" fill="#7c7c7c" fill-opacity="0.7"/>
<rect x="160.36" y="148.43" width="1.9" height="1.9" fill="#7c7c7c" fill-opacity="0.7"/>
<line x1="125.8" y1="149.2" x2="147.7" y2="149.2" stroke="#151515" stroke-width="1.0"/>
<line x1="136.7" y1="140.2" x2="136.7" y2="158.2" stroke="#151515" stroke-width="1.0"/>
<line x1="125.8" y1="142.7" x2="125.8" y2="155.7" stroke="#151515" stroke-width="1.0"/>
<line x1="147.7" y1="142.7" x2="147.7" y2="155.7" stroke="#151515" stroke-width="1.0"/>
<rect x="91.28" y="174.52" width="1.9" height="1.9" fill="#3a46b0" fill-opacity="0.7"/>
<rect x="91.32" y="181.27" width="1.9" height="1.9" fill="#3a46b0" fill-opacity="0.7"/>
<rect x="90.92" y="172.06" width="1.9" height="1.9" fill="#3a46b0" fill-opacity="0.7"/>
<rect x="90.82" y="169.88" width="1.9" height="1.9" fill="#3a46b0" fill-opacity="0.7"/>
<rect x="91.2" y="183.79" width="1.9" height="1.9" fill="#3a46b0" fill-opacity="0.7"/>
<rect x="93.07" y="172.6" width="1.9" height="1.9" fill="#3a46b0" fill-opacity="0.7"/>
<rect x="93.38" y="170.11" width="1.9" height="1.9" fill="#3a46b0" fill-opacity="0.7"/>
<rect x="93.37" y="177.17" width="1.9" height="1.9" fill="#3a46b0" fill-opacity="0.7"/>
<rect x="93.56" y="183.95" width="1.9" height="1.9" fill="#3a46b0" fill-opacity="0.7"/>
<rect x="93.44" y="179.32" width="1.9" height="1.9" fill="#3a46b0" fill-opacity="0.7"/>
<rect x="86.29" y="179.69" width="1.9" height="1.9" fill="#3a46b0" fill-opacity="0.7"/>
<rect x="86.44" y="175.03" width="1.9" height="1.9" fill="#3a46b0" fill-opacity="0.7"/>
<rect x="86.58" y="177.42" width="1.9" height="1.9" fill="#3a46b0" fill-opacity="0.7"/>
<rect x="86.58" y="181.59" width="1.9" height="1.9" fill="#3a46b0" fill-opacity="0.7"/>
<rect x="86.38" y="184.04" width="1.9" height="1.9" fill="#3a46b0" fill-opacity="0.7"/>
<rect x="84.39" y="181.35" width="1.9" height="1.9" fill="#3a46b0" fill-opacity="0.7"/>
<rect x="88.44" y="167.46" width="1.9" height="1.9" fill="#3a46b0" fill-opacity="0.7"/>
<rect x="88.57" y="172.14" width="1.9" height="1.9" fill="#3a46b0" fill-opacity="0.7"/>
<rect x="88.88" y="170.24" width="1.9" height="1.9" fill="#3a46b0" fill-opacity="0.7"/>
<rect x="95.97" y="186.45" width="1.9" height="1.9" fill="#3a46b0" fill-opacity="0.7"/>
<rect x="109.32" y="186.04" width="1.9" height="1.9" fill="#3a46b0" fill-opacity="0.7"/>
<rect x="109.16" y="167.94" width="1.9" height="1.9" fill="#3a46b0" fill-opacity="0.7"/>
<rect x="109.77" y="172.84" width="1.9" height="1.9" fill="#3a46b0" fill-opacity="0.7"/>
<rect x="109.64" y="184.3" width="1.9" height="1.9" fill="#3a46b0" fill-opacity="0.7"/>
<rect x="109.35" y="176.89" width="1.9" height="1.9" fill="#3a46b0" fill-opacity="0.7"/>
<rect x="109.75" y="174.83" width="1.9" height="1.9" fill="#3a46b0" fill-opacity="0.7"/>
<rect x="109.57" y="181.26" width="1.9" height="1.9" fill="#3a46b0" fill-opacity="0.7"/>
<rect x="109.26" y="179.34" width="1.9" height="1.9" fill="#3a46b0" fill-opacity="0.7"/>
<rect x="109.61" y="170.41" width="1.9" height="1.9" fill="#3a46b0" fill-opacity="0.7"/>
<rect x="111.84" y="181.68" width="1.9" height="1.9" fill="#3a46b0" fill-opacity="0.7"/>
<rect x="111.65" y="174.53" width="1.9" height="1.9" fill="#3a46b0" fill-opacity="0.7"/>
<rect x="111.67" y="172.54" width="1.9" height="1.9" fill="#3a46b0" fill-opacity="0.7"/>
<rect x="111.49" y="183.98" width="1.9" height="1.9" fill="#3a46b0" fill-opacity="0.7"/>
<rect x="112.07" y="186.45" width="1.9" height="1.9" fill="#3a46b0" fill-opacity="0.7"/>
<rect x="111.58" y="176.98" width="1.9" height="1.9" fill="#3a46b0" fill-opacity="0.7"/>
<rect x="111.47" y="168.04" width="1.9" height="1.9" fill="#3a46b0" fill-opacity="0.7"/>
<rect x="113.93" y="179.35" width="1.9" height="1.9" fill="#3a46b0" fill-opacity="0.7"/>
<rect x="114.02" y="169.89" width="1.9" height="1.9" fill="#3a46b0" fill-opacity="0.7"/>
<rect x="113.98" y="176.81" width="1.9" height="1.9" fill="#3a46b0" fill-opacity="0.7"/>
<rect x="113.93" y="181.54" width="1.9" height="1.9" fill="#3a46b0" fill-opacity="0.7"/>
<rect x="113.94" y="175.1" width="1.9" height="1.9" fill="#3a46b0" fill-opacity="0.7"/>
<rect x="113.91" y="172.32" width="1.9" height="1.9" fill="#3a46b0" fill-opacity="0.7"/>
<rect x="114.16" y="183.87" width="1.9" height="1.9" fill="#3a46b0" fill-opacity="0.7"/>
<rect x="114.06" y="167.97" width="1.9" height="1.9" fill="#3a46b0" fill-opacity="0.7"/>
<rect x="113.75" y="186.39" width="1.9" height="1.9" fill="#3a46b0" fill-opacity="0.7"/>
<rect x="104.81" y="169.98" width="1.9" height="1.9" fill="#3a46b0" fill-opacity="0.7"/>
<rect x="105.09" y="174.54" width="1.9" height="1.9" fill="#3a46b0" fill-opacity="0.7"/>
<rect x="104.64" y="184.06" width="1.9" height="1.9" fill="#3a46b0" fill-opacity="0.7"/>
<rect x="104.95" y="186.32" width="1.9" height="1.9" fill="#3a46b0" fill-opacity="0.7"/>
<rect x="104.84" y="179.72" width="1.9" height="1.9" fill="#3a46b0" fill-opacity="0.7"/>
<rect x="104.82" y="172.8" width="1.9" height="1.9" fill="#3a46b0" fill-opacity="0.7"/>
<rect x="134.57" y="174.77" width="1.9" height="1.9" fill="#3a46b0" fill-opacity="0.7"/>
<rect x="134.91" y="177.05" width="1.9" height="1.9" fill="#3a46b0" fill-opacity="0.7"/>
<rect x="134.86" y="172.54" width="1.9" height="1.9" fill="#3a46b0" fill-opacity="0.7"/>
<rect x="134.9" y="181.53" width="1.9" height="1.9" fill="#3a46b0" fill-opacity="0.7"/>
<rect x="134.61" y="183.57" width="1.9" height="1.9" fill="#3a46b0" fill-opacity="0.7"/>
<rect x="102.79" y="183.89" width="1.9" height="1.9" fill="#3a46b0" fill-opacity="0.7"/>
<rect x="102.42" y="181.46" width="1.9" height="1.9" fill="#3a46b0" fill-opacity="0.7"/>
<rect x="102.49" y="174.39" width="1.9" height="1.9" fill="#3a46b0" fill-opacity="0.7"/>
<rect x="102.24" y="185.94" width="1.9" height="1.9" fill="#3a46b0" fill-opacity="0.7"/>
<rect x="102.42" y="179.08" width="1.9" height="1.9" fill="#3a46b0" fill-opacity="0.7"/>
<rect x="102.29" y="168.12" width="1.9" height="1.9" fill="#3a46b0" fill-opacity="0.7"/>
<rect x="116.37" y="174.64" width="1.9" height="1.9" fill="#3a46b0" fill-opacity="0.7"/>
<rect x="116.13" y="177.38" width="1.9" height="1.9" fill="#3a46b0" fill-opacity="0.7"/>
<rect x="116.54" y="181.69" width="1.9" height="1.9" fill="#3a46b0" fill-opacity="0.7"/>
<rect x="116.55" y="186.06" width="1.9" height="1.9" fill="#3a46b0" fill-opacity="0.7"/>
<rect x="116.37" y="170.48" width="1.9" height="1.9" fill="#3a46b0" fill-opacity="0.7"/>
<rect x="116.08" y="172.54" width="1.9" height="1.9" fill="#3a46b0" fill-opacity="0.7"/>
<rect x="116.13" y="184.22" width="1.9" height="1.9" fill="#3a46b0" fill-opacity="0.7"/>
<rect x="116.59" y="179.47" width="1.9" height="1.9" fill="#3a46b0" fill-opacity="0.7"/>
<rect x="116.31" y="167.47" width="1.9" height="1.9" fill="#3a46b0" fill-opacity="0.7"/>
<rect x="99.95" y="177.39" width="1.9" height="1.9" fill="#3a46b0" fill-opacity="0.7"/>
<rect x="100.27" y="174.8" width="1.9" height="1.9" fill="#3a46b0" fill-opacity="0.7"/>
<rect x="100.49" y="172.77" width="1.9" height="1.9" fill="#3a46b0" fill-opacity="0.7"/>
<rect x="130.43" y="176.67" width="1.9" height="1.9" fill="#3a46b0" fill-opacity="0.7"/>
<rect x="130.36" y="179.37" width="1.9" height="1.9" fill="#3a46b0" fill-opacity="0.7"/>
<rect x="130.24" y="184.34" width="1.9" height="1.9" fill="#3a46b0" fill-opacity="0.7"/>
<rect x="129.95" y="172.38" width="1.9" height="1.9" fill="#3a46b0" fill-opacity="0.7"/>
<rect x="127.87" y="181.87" width="1.9" height="1.9" fill="#3a46b0" fill-opacity="0.7"/>
<rect x="127.97" y="179.65" width="1.9" height="1.9" fill="#3a46b0" fill-opacity="0.7"/>
<rect x="106.89" y="179.72" width="1.9" height="1.9" fill="#3a46b0" fill-opacity="0.7"/>
<rect x="107.17" y="174.49" width="1.9" height="1.9" fill="#3a46b0" fill-opacity="0.7"/>
<rect x="107.38" y="172.74" width="1.9" height="1.9" fill="#3a46b0" fill-opacity="0.7"/>
<rect x="107.48" y="167.63" width="1.9" height="1.9" fill="#3a46b0" fill-opacity="0.7"/>
<rect x="107.08" y="170.28" width="1.9" height="1.9" fill="#3a46b0" fill-opacity="0.7"/>
<rect x="107" y="177.11" width="1.9" height="1.9" fill="#3a46b0" fill-opacity="0.7"/>
<rect x="107.29" y="186.45" width="1.9" height="1.9" fill="#3a46b0" fill-opacity="0.7"/>
<rect x="107.38" y="181.85" width="1.9" height="1.9" fill="#3a46b0" fill-opacity="0.7"/>
<rect x="107" y="184.15" width="1.9" height="1.9" fill="#3a46b0" fill-opacity="0.7"/>
<rect x="123.13" y="177.1" width="1.9" height="1.9" fill="#3a46b0" fill-opacity="0.7"/>
<rect x="123.28" y="170.17" width="1.9" height="1.9" fill="#3a46b0" fill-opacity="0.7"/>
<rect x="123.59" y="168.17" width="1.9" height="1.9" fill="#3a46b0" fill-opacity="0.7"/>
<rect x="123.11" y="181.95" width="1.9" height="1.9" fill="#3a46b0" fill-opacity="0.7"/>
<rect x="123.12" y="175.1" width="1.9" height="1.9" fill="#3a46b0" fill-opacity="0.7"/>
<rect x="122.94" y="172.3" width="1.9" height="1.9" fill="#3a46b0" fill-opacity="0.7"/>
<rect x="123.55" y="184.08" width="1.9" height="1.9" fill="#3a46b0" fill-opacity="0.7"/>
<rect x="123.39" y="179.11" width="1.9" height="1.9" fill="#3a46b0" fill-opacity="0.7"/>
<rect x="121.17" y="170.29" width="1.9" height="1.9" fill="#3a46b0" fill-opacity="0.7"/>
<rect x="121.3" y="186.47" width="1.9" height="1.9" fill="#3a46b0" fill-opacity="0.7"/>
<rect x="120.91" y="168.18" width="1.9" height="1.9" fill="#3a46b0" fill-opacity="0.7"/>
<rect x="120.82" y="174.39" width="1.9" height="1.9" fill="#3a46b0" fill-opacity="0.7"/>
<rect x="121.27" y="179.65" width="1.9" height="1.9" fill="#3a46b0" fill-opacity="0.7"/>
<rect x="118.66" y="179.49" width="1.9" height="1.9" fill="#3a46b0" fill-opacity="0.7"/>
<rect x="118.63" y="174.97" width="1.9" height="1.9" fill="#3a46b0" fill-opacity="0.7"/>
<rect x="118.79" y="170.54" width="1.9" height="1.9" fill="#3a46b0" fill-opacity="0.7"/>
<rect x="118.89" y="172.59" width="1.9" height="1.9" fill="#3a46b0" fill-opacity="0.7"/>
<rect x="118.71" y="167.58" width="1.9" height="1.9" fill="#3a46b0" fill-opacity="0.7"/>
<rect x="118.63" y="177.01" width="1.9" height="1.9" fill="#3a46b0" fill-opacity="0.7"/>
<rect x="118.41" y="183.71" width="1.9" height="1.9" fill="#3a46b0" fill-opacity="0.7"/>
<rect x="118.59" y="185.99" width="1.9" height="1.9" fill="#3a46b0" fill-opacity="0.7"/>
<rect x="118.74" y="181.51" width="1.9" height="1.9" fill="#3a46b0" fill-opacity="0.7"/>
<rect x="97.87" y="186.01" width="1.9" height="1.9" fill="#3a46b0" fill-opacity="0.7"/>
<rect x="98.27" y="179.68" width="1.9" height="1.9" fill="#3a46b0" fill-opacity="0.7"/>
<rect x="98.06" y="174.87" width="1.9" height="1.9" fill="#3a46b0" fill-opacity="0.7"/>
<rect x="97.7" y="172.48" width="1.9" height="1.9" fill="#3a46b0" fill-opacity="0.7"/>
<rect x="137.21" y="172.44" width="1.9" height="1.9" fill="#3a46b0" fill-opacity="0.7"/>
<rect x="137.32" y="174.48" width="1.9" height="1.9" fill="#3a46b0" fill-opacity="0.7"/>
<rect x="136.76" y="179.7" width="1.9" height="1.9" fill="#3a46b0" fill-opacity="0.7"/>
<rect x="137.13" y="170.3" width="1.9" height="1.9" fill="#3a46b0" fill-opacity="0.7"/>
<rect x="137.09" y="176.77" width="1.9" height="1.9" fill="#3a46b0" fill-opacity="0.7"/>
<rect x="125.37" y="186.54" width="1.9" height="1.9" fill="#3a46b0" fill-opacity="0.7"/>
<rect x="125.38" y="176.71" width="1.9" height="1.9" fill="#3a46b0" fill-opacity="0.7"/>
<rect x="125.31" y="183.77" width="1.9" height="1.9" fill="#3a46b0" fill-opacity="0.7"/>
<rect x="125.86" y="170.45" width="1.9" height="1.9" fill="#3a46b0" fill-opacity="0.7"/>
<rect x="125.67" y="172.39" width="1.9" height="1.9" fill="#3a46b0" fill-opacity="0.7"/>
<rect x="125.23" y="179.62" width="1.9" height="1.9" fill="#3a46b0" fill-opacity="0.7"/>
<rect x="132.4" y="170.44" width="1.9" height="1.9" fill="#3a46b0" fill-opacity="0.7"/>
<rect x="132.23" y="172.1" width="1.9" height="1.9" fill="#3a46b0" fill-opacity="0.7"/>
<rect x="141.45" y="183.9" width="1.9" height="1.9" fill="#3a46b0" fill-opacity="0.7"/>
<rect x="141.95" y="168.12" width="1.9" height="1.9" fill="#3a46b0" fill-opacity="0.7"/>
<rect x="141.68" y="179.02" width="1.9" height="1.9" fill="#3a46b0" fill-opacity="0.7"/>
<rect x="141.42" y="172.29" width="1.9" height="1.9" fill="#3a46b0" fill-opacity="0.7"/>
<rect x="141.86" y="175.08" width="1.9" height="1.9" fill="#3a46b0" fill-opacity="0.7"/>
<rect x="139.23" y="168.22" width="1.9" height="1.9" fill="#3a46b0" fill-opacity="0.7"/>
<rect x="72.36" y="169.96" width="1.9" height="1.9" fill="#3a46b0" fill-opacity="0.7"/>
<rect x="152.98" y="184.13" width="1.9" height="1.9" fill="#3a46b0" fill-opacity="0.7"/>
<rect x="160.16" y="169.89" width="1.9" height="1.9" fill="#3a46b0" fill-opacity="0.7"/>
<rect x="183.22" y="179.65" width="1.9" height="1.9" fill="#3a46b0" fill-opacity="0.7"/>
<rect x="197.19" y="176.98" width="1.9" height="1.9" fill="#3a46b0" fill-opacity="0.7"/>
<line x1="103.8" y1="178" x2="127.6" y2="178" stroke="#151515" stroke-width="1.0"/>
<line x1="114.8" y1="169" x2="114.8" y2="187" stroke="#151515" stroke-width="1.0"/>
<line x1="103.8" y1="171.5" x2="103.8" y2="184.5" stroke="#151515" stroke-width="1.0"/>
<line x1="127.6" y1="171.5" x2="127.6" y2="184.5" stroke="#151515" stroke-width="1.0"/>
<rect x="141.62" y="215.37" width="1.9" height="1.9" fill="#ec3c40" fill-opacity="0.7"/>
<rect x="141.68" y="207.91" width="1.9" height="1.9" fill="#ec3c40" fill-opacity="0.7"/>
<rect x="141.56" y="203.53" width="1.9" height="1.9" fill="#ec3c40" fill-opacity="0.7"/>
<rect x="141.43" y="201.31" width="1.9" height="1.9" fill="#ec3c40" fill-opacity="0.7"/>
<rect x="145.97" y="196.72" width="1.9" height="1.9" fill="#ec3c40" fill-opacity="0.7"/>
<rect x="146.12" y="210.76" width="1.9" height="1.9" fill="#ec3c40" fill-opacity="0.7"/>
<rect x="146.25" y="201.27" width="1.9" height="1.9" fill="#ec3c40" fill-opacity="0.7"/>
<rect x="148.87" y="210.07" width="1.9" height="1.9" fill="#ec3c40" fill-opacity="0.7"/>
<rect x="148.8" y="200.96" width="1.9" height="1.9" fill="#ec3c40" fill-opacity="0.7"/>
<rect x="148.79" y="207.87" width="1.9" height="1.9" fill="#ec3c40" fill-opacity="0.7"/>
<rect x="148.24" y="205.85" width="1.9" height="1.9" fill="#ec3c40" fill-opacity="0.7"/>
<rect x="148.85" y="203.36" width="1.9" height="1.9" fill="#ec3c40" fill-opacity="0.7"/>
<rect x="139.01" y="205.81" width="1.9" height="1.9" fill="#ec3c40" fill-opacity="0.7"/>
<rect x="139.53" y="208.02" width="1.9" height="1.9" fill="#ec3c40" fill-opacity="0.7"/>
<rect x="139.15" y="200.89" width="1.9" height="1.9" fill="#ec3c40" fill-opacity="0.7"/>
<rect x="139.49" y="210.39" width="1.9" height="1.9" fill="#ec3c40" fill-opacity="0.7"/>
<rect x="143.67" y="213.08" width="1.9" height="1.9" fill="#ec3c40" fill-opacity="0.7"/>
<rect x="144.25" y="208.4" width="1.9" height="1.9" fill="#ec3c40" fill-opacity="0.7"/>
<rect x="150.97" y="210.52" width="1.9" height="1.9" fill="#ec3c40" fill-opacity="0.7"/>
<rect x="150.68" y="207.86" width="1.9" height="1.9" fill="#ec3c40" fill-opacity="0.7"/>
<rect x="151.01" y="205.93" width="1.9" height="1.9" fill="#ec3c40" fill-opacity="0.7"/>
<rect x="162.4" y="196.58" width="1.9" height="1.9" fill="#ec3c40" fill-opacity="0.7"/>
<rect x="162.65" y="208.11" width="1.9" height="1.9" fill="#ec3c40" fill-opacity="0.7"/>
<rect x="162.67" y="205.72" width="1.9" height="1.9" fill="#ec3c40" fill-opacity="0.7"/>
<rect x="162.47" y="203.88" width="1.9" height="1.9" fill="#ec3c40" fill-opacity="0.7"/>
<rect x="162.48" y="212.65" width="1.9" height="1.9" fill="#ec3c40" fill-opacity="0.7"/>
<rect x="162.05" y="215.03" width="1.9" height="1.9" fill="#ec3c40" fill-opacity="0.7"/>
<rect x="162.29" y="201.5" width="1.9" height="1.9" fill="#ec3c40" fill-opacity="0.7"/>
<rect x="162.55" y="210.84" width="1.9" height="1.9" fill="#ec3c40" fill-opacity="0.7"/>
<rect x="162.31" y="198.88" width="1.9" height="1.9" fill="#ec3c40" fill-opacity="0.7"/>
<rect x="171.85" y="205.69" width="1.9" height="1.9" fill="#ec3c40" fill-opacity="0.7"/>
<rect x="171.34" y="210.83" width="1.9" height="1.9" fill="#ec3c40" fill-opacity="0.7"/>
<rect x="171.26" y="196.34" width="1.9" height="1.9" fill="#ec3c40" fill-opacity="0.7"/>
<rect x="171.29" y="200.9" width="1.9" height="1.9" fill="#ec3c40" fill-opacity="0.7"/>
<rect x="171.47" y="198.72" width="1.9" height="1.9" fill="#ec3c40" fill-opacity="0.7"/>
<rect x="171.31" y="207.76" width="1.9" height="1.9" fill="#ec3c40" fill-opacity="0.7"/>
<rect x="171.69" y="203.19" width="1.9" height="1.9" fill="#ec3c40" fill-opacity="0.7"/>
<rect x="171.36" y="215.1" width="1.9" height="1.9" fill="#ec3c40" fill-opacity="0.7"/>
<rect x="171.82" y="212.88" width="1.9" height="1.9" fill="#ec3c40" fill-opacity="0.7"/>
<rect x="173.54" y="208.25" width="1.9" height="1.9" fill="#ec3c40" fill-opacity="0.7"/>
<rect x="173.86" y="210.47" width="1.9" height="1.9" fill="#ec3c40" fill-opacity="0.7"/>
<rect x="174.05" y="212.49" width="1.9" height="1.9" fill="#ec3c40" fill-opacity="0.7"/>
<rect x="173.99" y="205.79" width="1.9" height="1.9" fill="#ec3c40" fill-opacity="0.7"/>
<rect x="173.8" y="198.75" width="1.9" height="1.9" fill="#ec3c40" fill-opacity="0.7"/>
<rect x="164.9" y="201.62" width="1.9" height="1.9" fill="#ec3c40" fill-opacity="0.7"/>
<rect x="164.48" y="208.4" width="1.9" height="1.9" fill="#ec3c40" fill-opacity="0.7"/>
<rect x="164.45" y="205.69" width="1.9" height="1.9" fill="#ec3c40" fill-opacity="0.7"/>
<rect x="164.37" y="215" width="1.9" height="1.9" fill="#ec3c40" fill-opacity="0.7"/>
<rect x="164.37" y="199.11" width="1.9" height="1.9" fill="#ec3c40" fill-opacity="0.7"/>
<rect x="164.7" y="210.39" width="1.9" height="1.9" fill="#ec3c40" fill-opacity="0.7"/>
<rect x="164.8" y="196.44" width="1.9" height="1.9" fill="#ec3c40" fill-opacity="0.7"/>
<rect x="164.53" y="212.64" width="1.9" height="1.9" fill="#ec3c40" fill-opacity="0.7"/>
<rect x="164.3" y="203.86" width="1.9" height="1.9" fill="#ec3c40" fill-opacity="0.7"/>
<rect x="159.87" y="198.67" width="1.9" height="1.9" fill="#ec3c40" fill-opacity="0.7"/>
<rect x="160.33" y="200.87" width="1.9" height="1.9" fill="#ec3c40" fill-opacity="0.7"/>
<rect x="159.95" y="212.95" width="1.9" height="1.9" fill="#ec3c40" fill-opacity="0.7"/>
<rect x="160.22" y="210.14" width="1.9" height="1.9" fill="#ec3c40" fill-opacity="0.7"/>
<rect x="160.22" y="205.9" width="1.9" height="1.9" fill="#ec3c40" fill-opacity="0.7"/>
<rect x="160.14" y="203.9" width="1.9" height="1.9" fill="#ec3c40" fill-opacity="0.7"/>
<rect x="160.26" y="196.73" width="1.9" height="1.9" fill="#ec3c40" fill-opacity="0.7"/>
<rect x="160.24" y="208.14" width="1.9" height="1.9" fill="#ec3c40" fill-opacity="0.7"/>
<rect x="160.09" y="215.3" width="1.9" height="1.9" fill="#ec3c40" fill-opacity="0.7"/>
<rect x="153.38" y="208.23" width="1.9" height="1.9" fill="#ec3c40" fill-opacity="0.7"/>
<rect x="153.19" y="203.78" width="1.9" height="1.9" fill="#ec3c40" fill-opacity="0.7"/>
<rect x="153.11" y="196.68" width="1.9" height="1.9" fill="#ec3c40" fill-opacity="0.7"/>
<rect x="153.33" y="212.93" width="1.9" height="1.9" fill="#ec3c40" fill-opacity="0.7"/>
<rect x="153.32" y="201.56" width="1.9" height="1.9" fill="#ec3c40" fill-opacity="0.7"/>
<rect x="153.19" y="205.89" width="1.9" height="1.9" fill="#ec3c40" fill-opacity="0.7"/>
<rect x="152.93" y="198.74" width="1.9" height="1.9" fill="#ec3c40" fill-opacity="0.7"/>
<rect x="153.1" y="210.45" width="1.9" height="1.9" fill="#ec3c40" fill-opacity="0.7"/>
<rect x="153.43" y="214.68" width="1.9" height="1.9" fill="#ec3c40" fill-opacity="0.7"/>
<rect x="166.9" y="203.6" width="1.9" height="1.9" fill="#ec3c40" fill-opacity="0.7"/>
<rect x="166.64" y="210.37" width="1.9" height="1.9" fill="#ec3c40" fill-opacity="0.7"/>
<rect x="167.16" y="206.04" width="1.9" height="1.9" fill="#ec3c40" fill-opacity="0.7"/>
<rect x="166.99" y="212.69" width="1.9" height="1.9" fill="#ec3c40" fill-opacity="0.7"/>
<rect x="166.63" y="199.11" width="1.9" height="1.9" fill="#ec3c40" fill-opacity="0.7"/>
<rect x="166.91" y="208.33" width="1.9" height="1.9" fill="#ec3c40" fill-opacity="0.7"/>
<rect x="155.76" y="208.16" width="1.9" height="1.9" fill="#ec3c40" fill-opacity="0.7"/>
<rect x="155.46" y="203.2" width="1.9" height="1.9" fill="#ec3c40" fill-opacity="0.7"/>
<rect x="155.66" y="212.86" width="1.9" height="1.9" fill="#ec3c40" fill-opacity="0.7"/>
<rect x="155.27" y="198.64" width="1.9" height="1.9" fill="#ec3c40" fill-opacity="0.7"/>
<rect x="155.39" y="215.4" width="1.9" height="1.9" fill="#ec3c40" fill-opacity="0.7"/>
<rect x="155.71" y="196.62" width="1.9" height="1.9" fill="#ec3c40" fill-opacity="0.7"/>
<rect x="155.13" y="210.71" width="1.9" height="1.9" fill="#ec3c40" fill-opacity="0.7"/>
<rect x="155.24" y="206.03" width="1.9" height="1.9" fill="#ec3c40" fill-opacity="0.7"/>
<rect x="155.45" y="201.62" width="1.9" height="1.9" fill="#ec3c40" fill-opacity="0.7"/>
<rect x="158.07" y="199.08" width="1.9" height="1.9" fill="#ec3c40" fill-opacity="0.7"/>
<rect x="157.75" y="210.53" width="1.9" height="1.9" fill="#ec3c40" fill-opacity="0.7"/>
<rect x="157.57" y="208.12" width="1.9" height="1.9" fill="#ec3c40" fill-opacity="0.7"/>
<rect x="157.48" y="196.83" width="1.9" height="1.9" fill="#ec3c40" fill-opacity="0.7"/>
<rect x="157.45" y="205.87" width="1.9" height="1.9" fill="#ec3c40" fill-opacity="0.7"/>
<rect x="157.53" y="203.6" width="1.9" height="1.9" fill="#ec3c40" fill-opacity="0.7"/>
<rect x="157.44" y="212.37" width="1.9" height="1.9" fill="#ec3c40" fill-opacity="0.7"/>
<rect x="169.37" y="208.55" width="1.9" height="1.9" fill="#ec3c40" fill-opacity="0.7"/>
<rect x="169" y="210.55" width="1.9" height="1.9" fill="#ec3c40" fill-opacity="0.7"/>
<rect x="169.35" y="212.49" width="1.9" height="1.9" fill="#ec3c40" fill-opacity="0.7"/>
<rect x="175.97" y="198.97" width="1.9" height="1.9" fill="#ec3c40" fill-opacity="0.7"/>
<rect x="187.81" y="210.46" width="1.9" height="1.9" fill="#ec3c40" fill-opacity="0.7"/>
<rect x="187.42" y="208.24" width="1.9" height="1.9" fill="#ec3c40" fill-opacity="0.7"/>
<rect x="187.47" y="203.4" width="1.9" height="1.9" fill="#ec3c40" fill-opacity="0.7"/>
<rect x="187.62" y="196.85" width="1.9" height="1.9" fill="#ec3c40" fill-opacity="0.7"/>
<rect x="185.47" y="199.2" width="1.9" height="1.9" fill="#ec3c40" fill-opacity="0.7"/>
<rect x="185.18" y="206.03" width="1.9" height="1.9" fill="#ec3c40" fill-opacity="0.7"/>
<rect x="185.32" y="201.02" width="1.9" height="1.9" fill="#ec3c40" fill-opacity="0.7"/>
<rect x="178.51" y="201.19" width="1.9" height="1.9" fill="#ec3c40" fill-opacity="0.7"/>
<rect x="178.27" y="208.1" width="1.9" height="1.9" fill="#ec3c40" fill-opacity="0.7"/>
<rect x="178.58" y="212.57" width="1.9" height="1.9" fill="#ec3c40" fill-opacity="0.7"/>
<rect x="178.2" y="206.15" width="1.9" height="1.9" fill="#ec3c40" fill-opacity="0.7"/>
<rect x="178.41" y="196.31" width="1.9" height="1.9" fill="#ec3c40" fill-opacity="0.7"/>
<rect x="178.72" y="210.14" width="1.9" height="1.9" fill="#ec3c40" fill-opacity="0.7"/>
<rect x="190.23" y="203.29" width="1.9" height="1.9" fill="#ec3c40" fill-opacity="0.7"/>
<rect x="190" y="208.45" width="1.9" height="1.9" fill="#ec3c40" fill-opacity="0.7"/>
<rect x="189.93" y="210.62" width="1.9" height="1.9" fill="#ec3c40" fill-opacity="0.7"/>
<rect x="180.64" y="206.04" width="1.9" height="1.9" fill="#ec3c40" fill-opacity="0.7"/>
<rect x="180.64" y="210.76" width="1.9" height="1.9" fill="#ec3c40" fill-opacity="0.7"/>
<rect x="180.93" y="215.34" width="1.9" height="1.9" fill="#ec3c40" fill-opacity="0.7"/>
<rect x="194.62" y="213.11" width="1.9" height="1.9" fill="#ec3c40" fill-opacity="0.7"/>
<rect x="199.2" y="198.61" width="1.9" height="1.9" fill="#ec3c40" fill-opacity="0.7"/>
<rect x="206.18" y="207.98" width="1.9" height="1.9" fill="#ec3c40" fill-opacity="0.7"/>
<rect x="210.59" y="210.21" width="1.9" height="1.9" fill="#ec3c40" fill-opacity="0.7"/>
<rect x="215.3" y="201.16" width="1.9" height="1.9" fill="#ec3c40" fill-opacity="0.7"/>
<rect x="231.21" y="197.03" width="1.9" height="1.9" fill="#ec3c40" fill-opacity="0.7"/>
<line x1="151.3" y1="206.8" x2="171.4" y2="206.8" stroke="#151515" stroke-width="1.0"/>
<line x1="162.3" y1="197.8" x2="162.3" y2="215.8" stroke="#151515" stroke-width="1.0"/>
<line x1="151.3" y1="200.3" x2="151.3" y2="213.3" stroke="#151515" stroke-width="1.0"/>
<line x1="171.4" y1="200.3" x2="171.4" y2="213.3" stroke="#151515" stroke-width="1.0"/>
<rect x="134.7" y="236.73" width="1.9" height="1.9" fill="#a8348a" fill-opacity="0.7"/>
<rect x="134.92" y="239.35" width="1.9" height="1.9" fill="#a8348a" fill-opacity="0.7"/>
<rect x="134.89" y="234.4" width="1.9" height="1.9" fill="#a8348a" fill-opacity="0.7"/>
<rect x="134.66" y="241.7" width="1.9" height="1.9" fill="#a8348a" fill-opacity="0.7"/>
<rect x="141.54" y="232.35" width="1.9" height="1.9" fill="#a8348a" fill-opacity="0.7"/>
<rect x="141.88" y="236.8" width="1.9" height="1.9" fill="#a8348a" fill-opacity="0.7"/>
<rect x="141.42" y="234.76" width="1.9" height="1.9" fill="#a8348a" fill-opacity="0.7"/>
<rect x="141.39" y="241.84" width="1.9" height="1.9" fill="#a8348a" fill-opacity="0.7"/>
<rect x="146.26" y="230.2" width="1.9" height="1.9" fill="#a8348a" fill-opacity="0.7"/>
<rect x="146.24" y="241.66" width="1.9" height="1.9" fill="#a8348a" fill-opacity="0.7"/>
<rect x="146.16" y="235.02" width="1.9" height="1.9" fill="#a8348a" fill-opacity="0.7"/>
<rect x="146.02" y="227.99" width="1.9" height="1.9" fill="#a8348a" fill-opacity="0.7"/>
<rect x="137.33" y="225.3" width="1.9" height="1.9" fill="#a8348a" fill-opacity="0.7"/>
<rect x="136.98" y="234.63" width="1.9" height="1.9" fill="#a8348a" fill-opacity="0.7"/>
<rect x="137.12" y="227.63" width="1.9" height="1.9" fill="#a8348a" fill-opacity="0.7"/>
<rect x="136.95" y="230.33" width="1.9" height="1.9" fill="#a8348a" fill-opacity="0.7"/>
<rect x="137.09" y="239.13" width="1.9" height="1.9" fill="#a8348a" fill-opacity="0.7"/>
<rect x="143.61" y="239.09" width="1.9" height="1.9" fill="#a8348a" fill-opacity="0.7"/>
<rect x="144.23" y="243.59" width="1.9" height="1.9" fill="#a8348a" fill-opacity="0.7"/>
<rect x="143.74" y="232.58" width="1.9" height="1.9" fill="#a8348a" fill-opacity="0.7"/>
<rect x="157.93" y="227.41" width="1.9" height="1.9" fill="#a8348a" fill-opacity="0.7"/>
<rect x="157.98" y="241.81" width="1.9" height="1.9" fill="#a8348a" fill-opacity="0.7"/>
<rect x="157.57" y="230.12" width="1.9" height="1.9" fill="#a8348a" fill-opacity="0.7"/>
<rect x="157.54" y="234.68" width="1.9" height="1.9" fill="#a8348a" fill-opacity="0.7"/>
<rect x="157.93" y="236.85" width="1.9" height="1.9" fill="#a8348a" fill-opacity="0.7"/>
<rect x="157.77" y="225.16" width="1.9" height="1.9" fill="#a8348a" fill-opacity="0.7"/>
<rect x="158" y="239.35" width="1.9" height="1.9" fill="#a8348a" fill-opacity="0.7"/>
<rect x="157.98" y="232.01" width="1.9" height="1.9" fill="#a8348a" fill-opacity="0.7"/>
<rect x="157.92" y="243.52" width="1.9" height="1.9" fill="#a8348a" fill-opacity="0.7"/>
<rect x="164.98" y="234.54" width="1.9" height="1.9" fill="#a8348a" fill-opacity="0.7"/>
<rect x="164.93" y="229.92" width="1.9" height="1.9" fill="#a8348a" fill-opacity="0.7"/>
<rect x="164.49" y="241.51" width="1.9" height="1.9" fill="#a8348a" fill-opacity="0.7"/>
<rect x="164.98" y="225.67" width="1.9" height="1.9" fill="#a8348a" fill-opacity="0.7"/>
<rect x="164.74" y="236.58" width="1.9" height="1.9" fill="#a8348a" fill-opacity="0.7"/>
<rect x="164.62" y="231.96" width="1.9" height="1.9" fill="#a8348a" fill-opacity="0.7"/>
<rect x="164.34" y="239.15" width="1.9" height="1.9" fill="#a8348a" fill-opacity="0.7"/>
<rect x="164.47" y="227.43" width="1.9" height="1.9" fill="#a8348a" fill-opacity="0.7"/>
<rect x="164.66" y="244.08" width="1.9" height="1.9" fill="#a8348a" fill-opacity="0.7"/>
<rect x="151.08" y="241.6" width="1.9" height="1.9" fill="#a8348a" fill-opacity="0.7"/>
<rect x="151.17" y="239.41" width="1.9" height="1.9" fill="#a8348a" fill-opacity="0.7"/>
<rect x="151.16" y="232.07" width="1.9" height="1.9" fill="#a8348a" fill-opacity="0.7"/>
<rect x="151.16" y="227.78" width="1.9" height="1.9" fill="#a8348a" fill-opacity="0.7"/>
<rect x="150.99" y="243.69" width="1.9" height="1.9" fill="#a8348a" fill-opacity="0.7"/>
<rect x="150.67" y="234.49" width="1.9" height="1.9" fill="#a8348a" fill-opacity="0.7"/>
<rect x="150.62" y="230.42" width="1.9" height="1.9" fill="#a8348a" fill-opacity="0.7"/>
<rect x="148.35" y="227.55" width="1.9" height="1.9" fill="#a8348a" fill-opacity="0.7"/>
<rect x="148.36" y="231.96" width="1.9" height="1.9" fill="#a8348a" fill-opacity="0.7"/>
<rect x="148.72" y="239.38" width="1.9" height="1.9" fill="#a8348a" fill-opacity="0.7"/>
<rect x="148.42" y="230.37" width="1.9" height="1.9" fill="#a8348a" fill-opacity="0.7"/>
<rect x="166.95" y="235.01" width="1.9" height="1.9" fill="#a8348a" fill-opacity="0.7"/>
<rect x="166.92" y="229.84" width="1.9" height="1.9" fill="#a8348a" fill-opacity="0.7"/>
<rect x="166.63" y="244.16" width="1.9" height="1.9" fill="#a8348a" fill-opacity="0.7"/>
<rect x="166.92" y="227.92" width="1.9" height="1.9" fill="#a8348a" fill-opacity="0.7"/>
<rect x="167.05" y="239.63" width="1.9" height="1.9" fill="#a8348a" fill-opacity="0.7"/>
<rect x="167.26" y="241.9" width="1.9" height="1.9" fill="#a8348a" fill-opacity="0.7"/>
<rect x="166.95" y="225.78" width="1.9" height="1.9" fill="#a8348a" fill-opacity="0.7"/>
<rect x="166.81" y="236.65" width="1.9" height="1.9" fill="#a8348a" fill-opacity="0.7"/>
<rect x="167.05" y="231.97" width="1.9" height="1.9" fill="#a8348a" fill-opacity="0.7"/>
<rect x="169.28" y="244.09" width="1.9" height="1.9" fill="#a8348a" fill-opacity="0.7"/>
<rect x="168.91" y="232.22" width="1.9" height="1.9" fill="#a8348a" fill-opacity="0.7"/>
<rect x="169.07" y="235.02" width="1.9" height="1.9" fill="#a8348a" fill-opacity="0.7"/>
<rect x="169.21" y="230.01" width="1.9" height="1.9" fill="#a8348a" fill-opacity="0.7"/>
<rect x="169.56" y="236.86" width="1.9" height="1.9" fill="#a8348a" fill-opacity="0.7"/>
<rect x="155.44" y="232.71" width="1.9" height="1.9" fill="#a8348a" fill-opacity="0.7"/>
<rect x="155.76" y="235" width="1.9" height="1.9" fill="#a8348a" fill-opacity="0.7"/>
<rect x="155.6" y="230.01" width="1.9" height="1.9" fill="#a8348a" fill-opacity="0.7"/>
<rect x="155.35" y="239.54" width="1.9" height="1.9" fill="#a8348a" fill-opacity="0.7"/>
<rect x="155.43" y="227.95" width="1.9" height="1.9" fill="#a8348a" fill-opacity="0.7"/>
<rect x="155.37" y="236.84" width="1.9" height="1.9" fill="#a8348a" fill-opacity="0.7"/>
<rect x="155.11" y="241.73" width="1.9" height="1.9" fill="#a8348a" fill-opacity="0.7"/>
<rect x="155.3" y="243.85" width="1.9" height="1.9" fill="#a8348a" fill-opacity="0.7"/>
<rect x="155.61" y="225.72" width="1.9" height="1.9" fill="#a8348a" fill-opacity="0.7"/>
<rect x="160.31" y="243.59" width="1.9" height="1.9" fill="#a8348a" fill-opacity="0.7"/>
<rect x="159.73" y="236.79" width="1.9" height="1.9" fill="#a8348a" fill-opacity="0.7"/>
<rect x="160.35" y="229.68" width="1.9" height="1.9" fill="#a8348a" fill-opacity="0.7"/>
<rect x="159.93" y="241.56" width="1.9" height="1.9" fill="#a8348a" fill-opacity="0.7"/>
<rect x="159.84" y="225.75" width="1.9" height="1.9" fill="#a8348a" fill-opacity="0.7"/>
<rect x="159.77" y="232.02" width="1.9" height="1.9" fill="#a8348a" fill-opacity="0.7"/>
<rect x="160.4" y="238.86" width="1.9" height="1.9" fill="#a8348a" fill-opacity="0.7"/>
<rect x="159.86" y="234.58" width="1.9" height="1.9" fill="#a8348a" fill-opacity="0.7"/>
<rect x="160.32" y="227.62" width="1.9" height="1.9" fill="#a8348a" fill-opacity="0.7"/>
<rect x="152.82" y="234.33" width="1.9" height="1.9" fill="#a8348a" fill-opacity="0.7"/>
<rect x="153.1" y="239.35" width="1.9" height="1.9" fill="#a8348a" fill-opacity="0.7"/>
<rect x="152.81" y="237.06" width="1.9" height="1.9" fill="#a8348a" fill-opacity="0.7"/>
<rect x="152.87" y="241.41" width="1.9" height="1.9" fill="#a8348a" fill-opacity="0.7"/>
<rect x="152.83" y="225.63" width="1.9" height="1.9" fill="#a8348a" fill-opacity="0.7"/>
<rect x="153.38" y="232.57" width="1.9" height="1.9" fill="#a8348a" fill-opacity="0.7"/>
<rect x="153.03" y="227.55" width="1.9" height="1.9" fill="#a8348a" fill-opacity="0.7"/>
<rect x="153.47" y="244.1" width="1.9" height="1.9" fill="#a8348a" fill-opacity="0.7"/>
<rect x="162.19" y="243.83" width="1.9" height="1.9" fill="#a8348a" fill-opacity="0.7"/>
<rect x="162.03" y="232.49" width="1.9" height="1.9" fill="#a8348a" fill-opacity="0.7"/>
<rect x="162.23" y="241.29" width="1.9" height="1.9" fill="#a8348a" fill-opacity="0.7"/>
<rect x="162.55" y="236.97" width="1.9" height="1.9" fill="#a8348a" fill-opacity="0.7"/>
<rect x="162.22" y="239.59" width="1.9" height="1.9" fill="#a8348a" fill-opacity="0.7"/>
<rect x="162.66" y="229.99" width="1.9" height="1.9" fill="#a8348a" fill-opacity="0.7"/>
<rect x="162.38" y="234.25" width="1.9" height="1.9" fill="#a8348a" fill-opacity="0.7"/>
<rect x="162.25" y="228.14" width="1.9" height="1.9" fill="#a8348a" fill-opacity="0.7"/>
<rect x="174.19" y="234.86" width="1.9" height="1.9" fill="#a8348a" fill-opacity="0.7"/>
<rect x="173.92" y="243.76" width="1.9" height="1.9" fill="#a8348a" fill-opacity="0.7"/>
<rect x="173.77" y="225.15" width="1.9" height="1.9" fill="#a8348a" fill-opacity="0.7"/>
<rect x="173.78" y="227.45" width="1.9" height="1.9" fill="#a8348a" fill-opacity="0.7"/>
<rect x="174.07" y="230.08" width="1.9" height="1.9" fill="#a8348a" fill-opacity="0.7"/>
<rect x="173.76" y="232.63" width="1.9" height="1.9" fill="#a8348a" fill-opacity="0.7"/>
<rect x="173.71" y="241.85" width="1.9" height="1.9" fill="#a8348a" fill-opacity="0.7"/>
<rect x="171.64" y="239.57" width="1.9" height="1.9" fill="#a8348a" fill-opacity="0.7"/>
<rect x="171.9" y="234.7" width="1.9" height="1.9" fill="#a8348a" fill-opacity="0.7"/>
<rect x="171.87" y="236.75" width="1.9" height="1.9" fill="#a8348a" fill-opacity="0.7"/>
<rect x="176.07" y="241.42" width="1.9" height="1.9" fill="#a8348a" fill-opacity="0.7"/>
<rect x="176.47" y="238.92" width="1.9" height="1.9" fill="#a8348a" fill-opacity="0.7"/>
<rect x="176.25" y="234.43" width="1.9" height="1.9" fill="#a8348a" fill-opacity="0.7"/>
<rect x="176.41" y="227.52" width="1.9" height="1.9" fill="#a8348a" fill-opacity="0.7"/>
<rect x="175.87" y="243.84" width="1.9" height="1.9" fill="#a8348a" fill-opacity="0.7"/>
<rect x="180.61" y="234.69" width="1.9" height="1.9" fill="#a8348a" fill-opacity="0.7"/>
<rect x="180.49" y="239.3" width="1.9" height="1.9" fill="#a8348a" fill-opacity="0.7"/>
<rect x="180.97" y="230.2" width="1.9" height="1.9" fill="#a8348a" fill-opacity="0.7"/>
<rect x="180.58" y="232.33" width="1.9" height="1.9" fill="#a8348a" fill-opacity="0.7"/>
<rect x="185.33" y="227.96" width="1.9" height="1.9" fill="#a8348a" fill-opacity="0.7"/>
<rect x="190.05" y="225.79" width="1.9" height="1.9" fill="#a8348a" fill-opacity="0.7"/>
<rect x="187.41" y="229.87" width="1.9" height="1.9" fill="#a8348a" fill-opacity="0.7"/>
<rect x="187.73" y="232.36" width="1.9" height="1.9" fill="#a8348a" fill-opacity="0.7"/>
<rect x="187.42" y="239.01" width="1.9" height="1.9" fill="#a8348a" fill-opacity="0.7"/>
<rect x="183.18" y="234.68" width="1.9" height="1.9" fill="#a8348a" fill-opacity="0.7"/>
<rect x="182.89" y="241.48" width="1.9" height="1.9" fill="#a8348a" fill-opacity="0.7"/>
<rect x="183.28" y="227.43" width="1.9" height="1.9" fill="#a8348a" fill-opacity="0.7"/>
<rect x="178.18" y="234.58" width="1.9" height="1.9" fill="#a8348a" fill-opacity="0.7"/>
<rect x="178.22" y="232.27" width="1.9" height="1.9" fill="#a8348a" fill-opacity="0.7"/>
<rect x="196.9" y="225.69" width="1.9" height="1.9" fill="#a8348a" fill-opacity="0.7"/>
<rect x="204.05" y="241.35" width="1.9" height="1.9" fill="#a8348a" fill-opacity="0.7"/>
<rect x="208.25" y="239.42" width="1.9" height="1.9" fill="#a8348a" fill-opacity="0.7"/>
<rect x="215.42" y="234.57" width="1.9" height="1.9" fill="#a8348a" fill-opacity="0.7"/>
<rect x="231.33" y="244.09" width="1.9" height="1.9" fill="#a8348a" fill-opacity="0.7"/>
<rect x="238.41" y="229.82" width="1.9" height="1.9" fill="#a8348a" fill-opacity="0.7"/>
<line x1="147.7" y1="235.6" x2="171.4" y2="235.6" stroke="#151515" stroke-width="1.0"/>
<line x1="162.3" y1="226.6" x2="162.3" y2="244.6" stroke="#151515" stroke-width="1.0"/>
<line x1="147.7" y1="229.1" x2="147.7" y2="242.1" stroke="#151515" stroke-width="1.0"/>
<line x1="171.4" y1="229.1" x2="171.4" y2="242.1" stroke="#151515" stroke-width="1.0"/>
<rect x="325.5" y="1.5" width="192" height="111" stroke="#151515" stroke-width="1" fill="none"/>
<line x1="325.08" y1="110.8" x2="325.08" y2="113.52" stroke="#151515" stroke-width="1"/>
<line x1="325.08" y1="0.48" x2="325.08" y2="3.2" stroke="#151515" stroke-width="1"/>
<line x1="333.8" y1="110.8" x2="333.8" y2="113.52" stroke="#151515" stroke-width="1"/>
<line x1="333.8" y1="0.48" x2="333.8" y2="3.2" stroke="#151515" stroke-width="1"/>
<line x1="377.4" y1="110.8" x2="377.4" y2="113.52" stroke="#151515" stroke-width="1"/>
<line x1="377.4" y1="0.48" x2="377.4" y2="3.2" stroke="#151515" stroke-width="1"/>
<line x1="421" y1="110.8" x2="421" y2="113.52" stroke="#151515" stroke-width="1"/>
<line x1="421" y1="0.48" x2="421" y2="3.2" stroke="#151515" stroke-width="1"/>
<line x1="464.6" y1="110.8" x2="464.6" y2="113.52" stroke="#151515" stroke-width="1"/>
<line x1="464.6" y1="0.48" x2="464.6" y2="3.2" stroke="#151515" stroke-width="1"/>
<line x1="508.2" y1="110.8" x2="508.2" y2="113.52" stroke="#151515" stroke-width="1"/>
<line x1="508.2" y1="0.48" x2="508.2" y2="3.2" stroke="#151515" stroke-width="1"/>
<line x1="324.48" y1="112.5" x2="327.2" y2="112.5" stroke="#151515" stroke-width="1"/>
<line x1="515.8" y1="112.5" x2="518.52" y2="112.5" stroke="#151515" stroke-width="1"/>
<line x1="324.48" y1="91.44" x2="327.2" y2="91.44" stroke="#151515" stroke-width="1"/>
<line x1="515.8" y1="91.44" x2="518.52" y2="91.44" stroke="#151515" stroke-width="1"/>
<line x1="324.48" y1="70.38" x2="327.2" y2="70.38" stroke="#151515" stroke-width="1"/>
<line x1="515.8" y1="70.38" x2="518.52" y2="70.38" stroke="#151515" stroke-width="1"/>
<line x1="324.48" y1="49.32" x2="327.2" y2="49.32" stroke="#151515" stroke-width="1"/>
<line x1="515.8" y1="49.32" x2="518.52" y2="49.32" stroke="#151515" stroke-width="1"/>
<line x1="324.48" y1="28.26" x2="327.2" y2="28.26" stroke="#151515" stroke-width="1"/>
<line x1="515.8" y1="28.26" x2="518.52" y2="28.26" stroke="#151515" stroke-width="1"/>
<line x1="324.48" y1="7.2" x2="327.2" y2="7.2" stroke="#151515" stroke-width="1"/>
<line x1="515.8" y1="7.2" x2="518.52" y2="7.2" stroke="#151515" stroke-width="1"/>
<line x1="421.5" y1="1.5" x2="421.5" y2="112.5" stroke="#151515" stroke-width="1"/>
<text x="321.6" y="115.3" font-size="8.2" text-anchor="end" fill="#151515" stroke="#151515" stroke-width="0.3">0.0</text>
<text x="321.6" y="94.24" font-size="8.2" text-anchor="end" fill="#151515" stroke="#151515" stroke-width="0.3">0.2</text>
<text x="321.6" y="73.18" font-size="8.2" text-anchor="end" fill="#151515" stroke="#151515" stroke-width="0.3">0.4</text>
<text x="321.6" y="52.12" font-size="8.2" text-anchor="end" fill="#151515" stroke="#151515" stroke-width="0.3">0.6</text>
<text x="321.6" y="31.06" font-size="8.2" text-anchor="end" fill="#151515" stroke="#151515" stroke-width="0.3">0.8</text>
<text x="321.6" y="10" font-size="8.2" text-anchor="end" fill="#151515" stroke="#151515" stroke-width="0.3">1.0</text>
<text x="323.58" y="120.5" font-size="8.2" text-anchor="middle" fill="#151515" stroke="#151515" stroke-width="0.3">-22</text>
<text x="335.3" y="120.5" font-size="8.2" text-anchor="middle" fill="#151515" stroke="#151515" stroke-width="0.3">-20</text>
<text x="377.4" y="120.5" font-size="8.2" text-anchor="middle" fill="#151515" stroke="#151515" stroke-width="0.3">-10</text>
<text x="421" y="120.5" font-size="8.2" text-anchor="middle" fill="#151515" stroke="#151515" stroke-width="0.3">0</text>
<text x="464.6" y="120.5" font-size="8.2" text-anchor="middle" fill="#151515" stroke="#151515" stroke-width="0.3">10</text>
<text x="508.2" y="120.5" font-size="8.2" text-anchor="middle" fill="#151515" stroke="#151515" stroke-width="0.3">20</text>
<text x="307.2" y="58.3" font-size="9.4" text-anchor="middle" fill="#151515" transform="rotate(-90 307.2 58.3)" stroke="#151515" stroke-width="0.3">Normalized GFP intensity</text>
<line x1="457.4" y1="10.1" x2="468.6" y2="10.1" stroke="#999999" stroke-width="2.2"/>
<text x="475.5" y="12.5" font-size="6.5" text-anchor="start" font-style="italic" fill="#222" stroke="#222" stroke-width="0.3">CLB5-GFP</text>
<line x1="457.4" y1="22.9" x2="468.6" y2="22.9" stroke="#5a5ea8" stroke-width="2.2"/>
<text x="475.5" y="22.1" font-size="6.5" text-anchor="start" font-style="italic" fill="#222" stroke="#222" stroke-width="0.3">CLB5-GFP</text>
<text x="475.5" y="28.1" font-size="6.5" text-anchor="start" font-style="italic" fill="#222" stroke="#222" stroke-width="0.3">mad2Δ</text>
<line x1="457.4" y1="34.6" x2="468.6" y2="34.6" stroke="#e0566a" stroke-width="2.2"/>
<text x="475.5" y="37" font-size="6.5" text-anchor="start" font-style="italic" fill="#222" stroke="#222" stroke-width="0.3">Securin-GFP</text>
<line x1="457.4" y1="47.8" x2="468.6" y2="47.8" stroke="#9e5a7e" stroke-width="2.2"/>
<text x="475.5" y="47" font-size="6.5" text-anchor="start" font-style="italic" fill="#222" stroke="#222" stroke-width="0.3">Securin-GFP</text>
<text x="475.5" y="53" font-size="6.5" text-anchor="start" font-style="italic" fill="#222" stroke="#222" stroke-width="0.3">mad2Δ</text>
<rect x="325.5" y="134.5" width="192" height="116" stroke="#151515" stroke-width="1" fill="none"/>
<line x1="325.08" y1="248.8" x2="325.08" y2="251.52" stroke="#151515" stroke-width="1"/>
<line x1="325.08" y1="133.48" x2="325.08" y2="136.2" stroke="#151515" stroke-width="1"/>
<line x1="333.8" y1="248.8" x2="333.8" y2="251.52" stroke="#151515" stroke-width="1"/>
<line x1="333.8" y1="133.48" x2="333.8" y2="136.2" stroke="#151515" stroke-width="1"/>
<line x1="377.4" y1="248.8" x2="377.4" y2="251.52" stroke="#151515" stroke-width="1"/>
<line x1="377.4" y1="133.48" x2="377.4" y2="136.2" stroke="#151515" stroke-width="1"/>
<line x1="421" y1="248.8" x2="421" y2="251.52" stroke="#151515" stroke-width="1"/>
<line x1="421" y1="133.48" x2="421" y2="136.2" stroke="#151515" stroke-width="1"/>
<line x1="464.6" y1="248.8" x2="464.6" y2="251.52" stroke="#151515" stroke-width="1"/>
<line x1="464.6" y1="133.48" x2="464.6" y2="136.2" stroke="#151515" stroke-width="1"/>
<line x1="508.2" y1="248.8" x2="508.2" y2="251.52" stroke="#151515" stroke-width="1"/>
<line x1="508.2" y1="133.48" x2="508.2" y2="136.2" stroke="#151515" stroke-width="1"/>
<line x1="324.48" y1="149.2" x2="327.2" y2="149.2" stroke="#151515" stroke-width="1"/>
<line x1="515.8" y1="149.2" x2="518.52" y2="149.2" stroke="#151515" stroke-width="1"/>
<line x1="324.48" y1="178" x2="327.2" y2="178" stroke="#151515" stroke-width="1"/>
<line x1="515.8" y1="178" x2="518.52" y2="178" stroke="#151515" stroke-width="1"/>
<line x1="324.48" y1="206.8" x2="327.2" y2="206.8" stroke="#151515" stroke-width="1"/>
<line x1="515.8" y1="206.8" x2="518.52" y2="206.8" stroke="#151515" stroke-width="1"/>
<line x1="324.48" y1="235.6" x2="327.2" y2="235.6" stroke="#151515" stroke-width="1"/>
<line x1="515.8" y1="235.6" x2="518.52" y2="235.6" stroke="#151515" stroke-width="1"/>
<line x1="421.5" y1="134.5" x2="421.5" y2="250.5" stroke="#151515" stroke-width="1"/>
<text x="323.58" y="258.8" font-size="8.2" text-anchor="middle" fill="#151515" stroke="#151515" stroke-width="0.3">-22</text>
<text x="335.3" y="258.8" font-size="8.2" text-anchor="middle" fill="#151515" stroke="#151515" stroke-width="0.3">-20</text>
<text x="377.4" y="258.8" font-size="8.2" text-anchor="middle" fill="#151515" stroke="#151515" stroke-width="0.3">-10</text>
<text x="421" y="258.8" font-size="8.2" text-anchor="middle" fill="#151515" stroke="#151515" stroke-width="0.3">0</text>
<text x="464.6" y="258.8" font-size="8.2" text-anchor="middle" fill="#151515" stroke="#151515" stroke-width="0.3">10</text>
<text x="508.2" y="258.8" font-size="8.2" text-anchor="middle" fill="#151515" stroke="#151515" stroke-width="0.3">20</text>
<text x="424.5" y="270.8" font-size="9.75" text-anchor="middle" fill="#151515" stroke="#151515" stroke-width="0.3">Time from spindle elongation (min)</text>
<text x="322.2" y="152.4" font-size="8.7" text-anchor="end" font-style="italic" fill="#151515" stroke="#151515" stroke-width="0.3">CLB5-GFP</text>
<text x="322.2" y="176.6" font-size="8.7" text-anchor="end" font-style="italic" fill="#151515" stroke="#151515" stroke-width="0.3">CLB5-GFP</text>
<text x="300.95" y="185.9" font-size="8.7" text-anchor="middle" font-style="italic" fill="#151515" stroke="#151515" stroke-width="0.3">mad2Δ</text>
<text x="322.2" y="210.2" font-size="8.7" text-anchor="end" font-style="italic" fill="#151515" stroke="#151515" stroke-width="0.3">Securin-GFP</text>
<text x="322.2" y="233.4" font-size="8.7" text-anchor="end" font-style="italic" fill="#151515" stroke="#151515" stroke-width="0.3">Securin-GFP</text>
<text x="297.75" y="242.7" font-size="8.7" text-anchor="middle" font-style="italic" fill="#151515" stroke="#151515" stroke-width="0.3">mad2Δ</text>
<rect x="362.32" y="155.18" width="1.9" height="1.9" fill="#7c7c7c" fill-opacity="0.7"/>
<rect x="376.44" y="143.26" width="1.9" height="1.9" fill="#7c7c7c" fill-opacity="0.7"/>
<rect x="373.62" y="150.62" width="1.9" height="1.9" fill="#7c7c7c" fill-opacity="0.7"/>
<rect x="374.05" y="157.73" width="1.9" height="1.9" fill="#7c7c7c" fill-opacity="0.7"/>
<rect x="371.97" y="150.87" width="1.9" height="1.9" fill="#7c7c7c" fill-opacity="0.7"/>
<rect x="371.39" y="143.33" width="1.9" height="1.9" fill="#7c7c7c" fill-opacity="0.7"/>
<rect x="371.37" y="145.57" width="1.9" height="1.9" fill="#7c7c7c" fill-opacity="0.7"/>
<rect x="364.86" y="147.95" width="1.9" height="1.9" fill="#7c7c7c" fill-opacity="0.7"/>
<rect x="364.78" y="141.21" width="1.9" height="1.9" fill="#7c7c7c" fill-opacity="0.7"/>
<rect x="364.75" y="154.93" width="1.9" height="1.9" fill="#7c7c7c" fill-opacity="0.7"/>
<rect x="378.7" y="143.69" width="1.9" height="1.9" fill="#7c7c7c" fill-opacity="0.7"/>
<rect x="378.23" y="146.12" width="1.9" height="1.9" fill="#7c7c7c" fill-opacity="0.7"/>
<rect x="378.81" y="148.47" width="1.9" height="1.9" fill="#7c7c7c" fill-opacity="0.7"/>
<rect x="360.12" y="152.5" width="1.9" height="1.9" fill="#7c7c7c" fill-opacity="0.7"/>
<rect x="360.33" y="138.79" width="1.9" height="1.9" fill="#7c7c7c" fill-opacity="0.7"/>
<rect x="369.18" y="150.71" width="1.9" height="1.9" fill="#7c7c7c" fill-opacity="0.7"/>
<rect x="392.35" y="145.99" width="1.9" height="1.9" fill="#7c7c7c" fill-opacity="0.7"/>
<rect x="392.66" y="138.73" width="1.9" height="1.9" fill="#7c7c7c" fill-opacity="0.7"/>
<rect x="392.42" y="148.26" width="1.9" height="1.9" fill="#7c7c7c" fill-opacity="0.7"/>
<rect x="392.51" y="144.02" width="1.9" height="1.9" fill="#7c7c7c" fill-opacity="0.7"/>
<rect x="392.22" y="157.61" width="1.9" height="1.9" fill="#7c7c7c" fill-opacity="0.7"/>
<rect x="392.37" y="150.6" width="1.9" height="1.9" fill="#7c7c7c" fill-opacity="0.7"/>
<rect x="385.67" y="139.26" width="1.9" height="1.9" fill="#7c7c7c" fill-opacity="0.7"/>
<rect x="385.41" y="152.95" width="1.9" height="1.9" fill="#7c7c7c" fill-opacity="0.7"/>
<rect x="385.11" y="157.57" width="1.9" height="1.9" fill="#7c7c7c" fill-opacity="0.7"/>
<rect x="385.41" y="145.96" width="1.9" height="1.9" fill="#7c7c7c" fill-opacity="0.7"/>
<rect x="385.37" y="143.57" width="1.9" height="1.9" fill="#7c7c7c" fill-opacity="0.7"/>
<rect x="385.26" y="154.79" width="1.9" height="1.9" fill="#7c7c7c" fill-opacity="0.7"/>
<rect x="385.4" y="141.15" width="1.9" height="1.9" fill="#7c7c7c" fill-opacity="0.7"/>
<rect x="385.59" y="148.5" width="1.9" height="1.9" fill="#7c7c7c" fill-opacity="0.7"/>
<rect x="385.61" y="150.51" width="1.9" height="1.9" fill="#7c7c7c" fill-opacity="0.7"/>
<rect x="415.06" y="143.63" width="1.9" height="1.9" fill="#7c7c7c" fill-opacity="0.7"/>
<rect x="415.34" y="148.42" width="1.9" height="1.9" fill="#7c7c7c" fill-opacity="0.7"/>
<rect x="415.62" y="150.77" width="1.9" height="1.9" fill="#7c7c7c" fill-opacity="0.7"/>
<rect x="415.44" y="153.06" width="1.9" height="1.9" fill="#7c7c7c" fill-opacity="0.7"/>
<rect x="415.47" y="157.74" width="1.9" height="1.9" fill="#7c7c7c" fill-opacity="0.7"/>
<rect x="406.49" y="150.16" width="1.9" height="1.9" fill="#7c7c7c" fill-opacity="0.7"/>
<rect x="406.02" y="152.7" width="1.9" height="1.9" fill="#7c7c7c" fill-opacity="0.7"/>
<rect x="406.07" y="143.37" width="1.9" height="1.9" fill="#7c7c7c" fill-opacity="0.7"/>
<rect x="406.19" y="157.11" width="1.9" height="1.9" fill="#7c7c7c" fill-opacity="0.7"/>
<rect x="406.01" y="146.3" width="1.9" height="1.9" fill="#7c7c7c" fill-opacity="0.7"/>
<rect x="406.32" y="148.22" width="1.9" height="1.9" fill="#7c7c7c" fill-opacity="0.7"/>
<rect x="405.88" y="155.51" width="1.9" height="1.9" fill="#7c7c7c" fill-opacity="0.7"/>
<rect x="406.29" y="141.11" width="1.9" height="1.9" fill="#7c7c7c" fill-opacity="0.7"/>
<rect x="410.88" y="145.71" width="1.9" height="1.9" fill="#7c7c7c" fill-opacity="0.7"/>
<rect x="410.82" y="150.37" width="1.9" height="1.9" fill="#7c7c7c" fill-opacity="0.7"/>
<rect x="410.67" y="153.2" width="1.9" height="1.9" fill="#7c7c7c" fill-opacity="0.7"/>
<rect x="410.73" y="141.3" width="1.9" height="1.9" fill="#7c7c7c" fill-opacity="0.7"/>
<rect x="410.83" y="157.27" width="1.9" height="1.9" fill="#7c7c7c" fill-opacity="0.7"/>
<rect x="410.52" y="143.56" width="1.9" height="1.9" fill="#7c7c7c" fill-opacity="0.7"/>
<rect x="410.59" y="148" width="1.9" height="1.9" fill="#7c7c7c" fill-opacity="0.7"/>
<rect x="411.07" y="154.78" width="1.9" height="1.9" fill="#7c7c7c" fill-opacity="0.7"/>
<rect x="410.97" y="139.4" width="1.9" height="1.9" fill="#7c7c7c" fill-opacity="0.7"/>
<rect x="403.53" y="150.64" width="1.9" height="1.9" fill="#7c7c7c" fill-opacity="0.7"/>
<rect x="403.99" y="138.84" width="1.9" height="1.9" fill="#7c7c7c" fill-opacity="0.7"/>
<rect x="403.51" y="148.29" width="1.9" height="1.9" fill="#7c7c7c" fill-opacity="0.7"/>
<rect x="394.33" y="141.1" width="1.9" height="1.9" fill="#7c7c7c" fill-opacity="0.7"/>
<rect x="394.58" y="145.99" width="1.9" height="1.9" fill="#7c7c7c" fill-opacity="0.7"/>
<rect x="394.46" y="150.79" width="1.9" height="1.9" fill="#7c7c7c" fill-opacity="0.7"/>
<rect x="394.89" y="155.49" width="1.9" height="1.9" fill="#7c7c7c" fill-opacity="0.7"/>
<rect x="394.92" y="147.86" width="1.9" height="1.9" fill="#7c7c7c" fill-opacity="0.7"/>
<rect x="394.71" y="138.71" width="1.9" height="1.9" fill="#7c7c7c" fill-opacity="0.7"/>
<rect x="394.93" y="157.65" width="1.9" height="1.9" fill="#7c7c7c" fill-opacity="0.7"/>
<rect x="394.83" y="152.6" width="1.9" height="1.9" fill="#7c7c7c" fill-opacity="0.7"/>
<rect x="394.34" y="143.9" width="1.9" height="1.9" fill="#7c7c7c" fill-opacity="0.7"/>
<rect x="399.52" y="150.21" width="1.9" height="1.9" fill="#7c7c7c" fill-opacity="0.7"/>
<rect x="398.95" y="148.26" width="1.9" height="1.9" fill="#7c7c7c" fill-opacity="0.7"/>
<rect x="399.37" y="145.7" width="1.9" height="1.9" fill="#7c7c7c" fill-opacity="0.7"/>
<rect x="399.09" y="154.8" width="1.9" height="1.9" fill="#7c7c7c" fill-opacity="0.7"/>
<rect x="398.93" y="141.35" width="1.9" height="1.9" fill="#7c7c7c" fill-opacity="0.7"/>
<rect x="399.38" y="143.77" width="1.9" height="1.9" fill="#7c7c7c" fill-opacity="0.7"/>
<rect x="399.01" y="152.53" width="1.9" height="1.9" fill="#7c7c7c" fill-opacity="0.7"/>
<rect x="399.55" y="139.08" width="1.9" height="1.9" fill="#7c7c7c" fill-opacity="0.7"/>
<rect x="399.19" y="157.6" width="1.9" height="1.9" fill="#7c7c7c" fill-opacity="0.7"/>
<rect x="387.65" y="152.88" width="1.9" height="1.9" fill="#7c7c7c" fill-opacity="0.7"/>
<rect x="387.84" y="147.99" width="1.9" height="1.9" fill="#7c7c7c" fill-opacity="0.7"/>
<rect x="387.9" y="139.05" width="1.9" height="1.9" fill="#7c7c7c" fill-opacity="0.7"/>
<rect x="387.51" y="155.43" width="1.9" height="1.9" fill="#7c7c7c" fill-opacity="0.7"/>
<rect x="387.96" y="143.98" width="1.9" height="1.9" fill="#7c7c7c" fill-opacity="0.7"/>
<rect x="387.88" y="141.12" width="1.9" height="1.9" fill="#7c7c7c" fill-opacity="0.7"/>
<rect x="412.71" y="152.73" width="1.9" height="1.9" fill="#7c7c7c" fill-opacity="0.7"/>
<rect x="413.13" y="155.24" width="1.9" height="1.9" fill="#7c7c7c" fill-opacity="0.7"/>
<rect x="413.23" y="146.07" width="1.9" height="1.9" fill="#7c7c7c" fill-opacity="0.7"/>
<rect x="412.81" y="157.79" width="1.9" height="1.9" fill="#7c7c7c" fill-opacity="0.7"/>
<rect x="413.08" y="150.86" width="1.9" height="1.9" fill="#7c7c7c" fill-opacity="0.7"/>
<rect x="412.84" y="144.05" width="1.9" height="1.9" fill="#7c7c7c" fill-opacity="0.7"/>
<rect x="413.09" y="148.47" width="1.9" height="1.9" fill="#7c7c7c" fill-opacity="0.7"/>
<rect x="413.22" y="141.66" width="1.9" height="1.9" fill="#7c7c7c" fill-opacity="0.7"/>
<rect x="412.95" y="138.72" width="1.9" height="1.9" fill="#7c7c7c" fill-opacity="0.7"/>
<rect x="408.12" y="146.08" width="1.9" height="1.9" fill="#7c7c7c" fill-opacity="0.7"/>
<rect x="408.25" y="141.04" width="1.9" height="1.9" fill="#7c7c7c" fill-opacity="0.7"/>
<rect x="408.75" y="150.57" width="1.9" height="1.9" fill="#7c7c7c" fill-opacity="0.7"/>
<rect x="408.73" y="155.16" width="1.9" height="1.9" fill="#7c7c7c" fill-opacity="0.7"/>
<rect x="408.19" y="148.04" width="1.9" height="1.9" fill="#7c7c7c" fill-opacity="0.7"/>
<rect x="408.4" y="139.16" width="1.9" height="1.9" fill="#7c7c7c" fill-opacity="0.7"/>
<rect x="408.64" y="143.85" width="1.9" height="1.9" fill="#7c7c7c" fill-opacity="0.7"/>
<rect x="408.56" y="152.65" width="1.9" height="1.9" fill="#7c7c7c" fill-opacity="0.7"/>
<rect x="408.4" y="157.35" width="1.9" height="1.9" fill="#7c7c7c" fill-opacity="0.7"/>
<rect x="397.12" y="148.43" width="1.9" height="1.9" fill="#7c7c7c" fill-opacity="0.7"/>
<rect x="397.3" y="143.55" width="1.9" height="1.9" fill="#7c7c7c" fill-opacity="0.7"/>
<rect x="396.88" y="150.15" width="1.9" height="1.9" fill="#7c7c7c" fill-opacity="0.7"/>
<rect x="397.07" y="146.02" width="1.9" height="1.9" fill="#7c7c7c" fill-opacity="0.7"/>
<rect x="397" y="139.45" width="1.9" height="1.9" fill="#7c7c7c" fill-opacity="0.7"/>
<rect x="396.74" y="154.93" width="1.9" height="1.9" fill="#7c7c7c" fill-opacity="0.7"/>
<rect x="397.11" y="153.1" width="1.9" height="1.9" fill="#7c7c7c" fill-opacity="0.7"/>
<rect x="396.94" y="157.09" width="1.9" height="1.9" fill="#7c7c7c" fill-opacity="0.7"/>
<rect x="401.81" y="146.15" width="1.9" height="1.9" fill="#7c7c7c" fill-opacity="0.7"/>
<rect x="401.46" y="154.95" width="1.9" height="1.9" fill="#7c7c7c" fill-opacity="0.7"/>
<rect x="401.75" y="148.48" width="1.9" height="1.9" fill="#7c7c7c" fill-opacity="0.7"/>
<rect x="401.85" y="150.31" width="1.9" height="1.9" fill="#7c7c7c" fill-opacity="0.7"/>
<rect x="401.79" y="143.96" width="1.9" height="1.9" fill="#7c7c7c" fill-opacity="0.7"/>
<rect x="401.25" y="152.7" width="1.9" height="1.9" fill="#7c7c7c" fill-opacity="0.7"/>
<rect x="401.64" y="141.07" width="1.9" height="1.9" fill="#7c7c7c" fill-opacity="0.7"/>
<rect x="401.78" y="157.26" width="1.9" height="1.9" fill="#7c7c7c" fill-opacity="0.7"/>
<rect x="390.15" y="150.44" width="1.9" height="1.9" fill="#7c7c7c" fill-opacity="0.7"/>
<rect x="389.84" y="143.36" width="1.9" height="1.9" fill="#7c7c7c" fill-opacity="0.7"/>
<rect x="389.74" y="146.11" width="1.9" height="1.9" fill="#7c7c7c" fill-opacity="0.7"/>
<rect x="389.99" y="141.05" width="1.9" height="1.9" fill="#7c7c7c" fill-opacity="0.7"/>
<rect x="390.32" y="152.97" width="1.9" height="1.9" fill="#7c7c7c" fill-opacity="0.7"/>
<rect x="389.71" y="155.33" width="1.9" height="1.9" fill="#7c7c7c" fill-opacity="0.7"/>
<rect x="390.12" y="139.01" width="1.9" height="1.9" fill="#7c7c7c" fill-opacity="0.7"/>
<rect x="390.05" y="148.62" width="1.9" height="1.9" fill="#7c7c7c" fill-opacity="0.7"/>
<rect x="389.96" y="157.56" width="1.9" height="1.9" fill="#7c7c7c" fill-opacity="0.7"/>
<line x1="391" y1="149.2" x2="408.75" y2="149.2" stroke="#151515" stroke-width="1.0"/>
<line x1="400" y1="139.2" x2="400" y2="159.2" stroke="#151515" stroke-width="1.0"/>
<line x1="391" y1="141.2" x2="391" y2="157.2" stroke="#151515" stroke-width="1.0"/>
<line x1="408.75" y1="141.2" x2="408.75" y2="157.2" stroke="#151515" stroke-width="1.0"/>
<rect x="378.8" y="179.6" width="1.9" height="1.9" fill="#3a46b0" fill-opacity="0.7"/>
<rect x="378.21" y="186.15" width="1.9" height="1.9" fill="#3a46b0" fill-opacity="0.7"/>
<rect x="378.65" y="181.39" width="1.9" height="1.9" fill="#3a46b0" fill-opacity="0.7"/>
<rect x="378.76" y="170.46" width="1.9" height="1.9" fill="#3a46b0" fill-opacity="0.7"/>
<rect x="378.59" y="174.64" width="1.9" height="1.9" fill="#3a46b0" fill-opacity="0.7"/>
<rect x="378.79" y="167.86" width="1.9" height="1.9" fill="#3a46b0" fill-opacity="0.7"/>
<rect x="378.33" y="176.87" width="1.9" height="1.9" fill="#3a46b0" fill-opacity="0.7"/>
<rect x="360.29" y="170.4" width="1.9" height="1.9" fill="#3a46b0" fill-opacity="0.7"/>
<rect x="360.48" y="183.7" width="1.9" height="1.9" fill="#3a46b0" fill-opacity="0.7"/>
<rect x="360.08" y="177.35" width="1.9" height="1.9" fill="#3a46b0" fill-opacity="0.7"/>
<rect x="357.96" y="181.41" width="1.9" height="1.9" fill="#3a46b0" fill-opacity="0.7"/>
<rect x="357.61" y="174.39" width="1.9" height="1.9" fill="#3a46b0" fill-opacity="0.7"/>
<rect x="381.04" y="174.37" width="1.9" height="1.9" fill="#3a46b0" fill-opacity="0.7"/>
<rect x="381.16" y="172.6" width="1.9" height="1.9" fill="#3a46b0" fill-opacity="0.7"/>
<rect x="381.06" y="179.61" width="1.9" height="1.9" fill="#3a46b0" fill-opacity="0.7"/>
<rect x="380.57" y="185.9" width="1.9" height="1.9" fill="#3a46b0" fill-opacity="0.7"/>
<rect x="380.62" y="170.15" width="1.9" height="1.9" fill="#3a46b0" fill-opacity="0.7"/>
<rect x="381.16" y="181.98" width="1.9" height="1.9" fill="#3a46b0" fill-opacity="0.7"/>
<rect x="380.79" y="184.05" width="1.9" height="1.9" fill="#3a46b0" fill-opacity="0.7"/>
<rect x="381.02" y="176.92" width="1.9" height="1.9" fill="#3a46b0" fill-opacity="0.7"/>
<rect x="381.18" y="168.2" width="1.9" height="1.9" fill="#3a46b0" fill-opacity="0.7"/>
<rect x="371.52" y="181.48" width="1.9" height="1.9" fill="#3a46b0" fill-opacity="0.7"/>
<rect x="371.47" y="183.6" width="1.9" height="1.9" fill="#3a46b0" fill-opacity="0.7"/>
<rect x="371.95" y="179.19" width="1.9" height="1.9" fill="#3a46b0" fill-opacity="0.7"/>
<rect x="371.32" y="174.6" width="1.9" height="1.9" fill="#3a46b0" fill-opacity="0.7"/>
<rect x="364.52" y="170.13" width="1.9" height="1.9" fill="#3a46b0" fill-opacity="0.7"/>
<rect x="364.69" y="176.93" width="1.9" height="1.9" fill="#3a46b0" fill-opacity="0.7"/>
<rect x="364.97" y="174.6" width="1.9" height="1.9" fill="#3a46b0" fill-opacity="0.7"/>
<rect x="362.77" y="176.95" width="1.9" height="1.9" fill="#3a46b0" fill-opacity="0.7"/>
<rect x="362.13" y="184.31" width="1.9" height="1.9" fill="#3a46b0" fill-opacity="0.7"/>
<rect x="373.82" y="176.76" width="1.9" height="1.9" fill="#3a46b0" fill-opacity="0.7"/>
<rect x="373.63" y="172.85" width="1.9" height="1.9" fill="#3a46b0" fill-opacity="0.7"/>
<rect x="374.17" y="169.84" width="1.9" height="1.9" fill="#3a46b0" fill-opacity="0.7"/>
<rect x="373.94" y="174.99" width="1.9" height="1.9" fill="#3a46b0" fill-opacity="0.7"/>
<rect x="376.14" y="176.95" width="1.9" height="1.9" fill="#3a46b0" fill-opacity="0.7"/>
<rect x="376.54" y="167.92" width="1.9" height="1.9" fill="#3a46b0" fill-opacity="0.7"/>
<rect x="369.03" y="177.2" width="1.9" height="1.9" fill="#3a46b0" fill-opacity="0.7"/>
<rect x="369.57" y="179.49" width="1.9" height="1.9" fill="#3a46b0" fill-opacity="0.7"/>
<rect x="385.55" y="174.85" width="1.9" height="1.9" fill="#3a46b0" fill-opacity="0.7"/>
<rect x="385.11" y="172.79" width="1.9" height="1.9" fill="#3a46b0" fill-opacity="0.7"/>
<rect x="385.51" y="167.69" width="1.9" height="1.9" fill="#3a46b0" fill-opacity="0.7"/>
<rect x="385.27" y="170.3" width="1.9" height="1.9" fill="#3a46b0" fill-opacity="0.7"/>
<rect x="385.75" y="176.92" width="1.9" height="1.9" fill="#3a46b0" fill-opacity="0.7"/>
<rect x="385.38" y="181.7" width="1.9" height="1.9" fill="#3a46b0" fill-opacity="0.7"/>
<rect x="385.22" y="183.87" width="1.9" height="1.9" fill="#3a46b0" fill-opacity="0.7"/>
<rect x="385.74" y="179.4" width="1.9" height="1.9" fill="#3a46b0" fill-opacity="0.7"/>
<rect x="385.68" y="186.06" width="1.9" height="1.9" fill="#3a46b0" fill-opacity="0.7"/>
<rect x="399.15" y="184.19" width="1.9" height="1.9" fill="#3a46b0" fill-opacity="0.7"/>
<rect x="399.16" y="179.73" width="1.9" height="1.9" fill="#3a46b0" fill-opacity="0.7"/>
<rect x="399.31" y="172.23" width="1.9" height="1.9" fill="#3a46b0" fill-opacity="0.7"/>
<rect x="399.19" y="176.75" width="1.9" height="1.9" fill="#3a46b0" fill-opacity="0.7"/>
<rect x="399.42" y="181.29" width="1.9" height="1.9" fill="#3a46b0" fill-opacity="0.7"/>
<rect x="399.32" y="174.6" width="1.9" height="1.9" fill="#3a46b0" fill-opacity="0.7"/>
<rect x="399.44" y="169.85" width="1.9" height="1.9" fill="#3a46b0" fill-opacity="0.7"/>
<rect x="399.38" y="168.02" width="1.9" height="1.9" fill="#3a46b0" fill-opacity="0.7"/>
<rect x="399.06" y="185.95" width="1.9" height="1.9" fill="#3a46b0" fill-opacity="0.7"/>
<rect x="394.41" y="174.43" width="1.9" height="1.9" fill="#3a46b0" fill-opacity="0.7"/>
<rect x="394.56" y="179.33" width="1.9" height="1.9" fill="#3a46b0" fill-opacity="0.7"/>
<rect x="394.42" y="172.12" width="1.9" height="1.9" fill="#3a46b0" fill-opacity="0.7"/>
<rect x="394.65" y="167.65" width="1.9" height="1.9" fill="#3a46b0" fill-opacity="0.7"/>
<rect x="394.61" y="177.01" width="1.9" height="1.9" fill="#3a46b0" fill-opacity="0.7"/>
<rect x="394.79" y="184.01" width="1.9" height="1.9" fill="#3a46b0" fill-opacity="0.7"/>
<rect x="394.46" y="169.89" width="1.9" height="1.9" fill="#3a46b0" fill-opacity="0.7"/>
<rect x="394.9" y="185.89" width="1.9" height="1.9" fill="#3a46b0" fill-opacity="0.7"/>
<rect x="394.39" y="181.31" width="1.9" height="1.9" fill="#3a46b0" fill-opacity="0.7"/>
<rect x="392.29" y="181.28" width="1.9" height="1.9" fill="#3a46b0" fill-opacity="0.7"/>
<rect x="392.24" y="177.1" width="1.9" height="1.9" fill="#3a46b0" fill-opacity="0.7"/>
<rect x="392.1" y="186.57" width="1.9" height="1.9" fill="#3a46b0" fill-opacity="0.7"/>
<rect x="392.65" y="174.76" width="1.9" height="1.9" fill="#3a46b0" fill-opacity="0.7"/>
<rect x="392.63" y="172.6" width="1.9" height="1.9" fill="#3a46b0" fill-opacity="0.7"/>
<rect x="392.38" y="179.08" width="1.9" height="1.9" fill="#3a46b0" fill-opacity="0.7"/>
<rect x="392.67" y="184.29" width="1.9" height="1.9" fill="#3a46b0" fill-opacity="0.7"/>
<rect x="392.32" y="167.76" width="1.9" height="1.9" fill="#3a46b0" fill-opacity="0.7"/>
<rect x="392.05" y="170.25" width="1.9" height="1.9" fill="#3a46b0" fill-opacity="0.7"/>
<rect x="383.37" y="183.8" width="1.9" height="1.9" fill="#3a46b0" fill-opacity="0.7"/>
<rect x="383.38" y="174.71" width="1.9" height="1.9" fill="#3a46b0" fill-opacity="0.7"/>
<rect x="382.92" y="172.07" width="1.9" height="1.9" fill="#3a46b0" fill-opacity="0.7"/>
<rect x="382.88" y="179.16" width="1.9" height="1.9" fill="#3a46b0" fill-opacity="0.7"/>
<rect x="383.33" y="181.89" width="1.9" height="1.9" fill="#3a46b0" fill-opacity="0.7"/>
<rect x="383.24" y="167.7" width="1.9" height="1.9" fill="#3a46b0" fill-opacity="0.7"/>
<rect x="383.26" y="170.34" width="1.9" height="1.9" fill="#3a46b0" fill-opacity="0.7"/>
<rect x="383.06" y="176.72" width="1.9" height="1.9" fill="#3a46b0" fill-opacity="0.7"/>
<rect x="383.13" y="186.03" width="1.9" height="1.9" fill="#3a46b0" fill-opacity="0.7"/>
<rect x="390.27" y="172.47" width="1.9" height="1.9" fill="#3a46b0" fill-opacity="0.7"/>
<rect x="390.32" y="177.03" width="1.9" height="1.9" fill="#3a46b0" fill-opacity="0.7"/>
<rect x="389.72" y="167.57" width="1.9" height="1.9" fill="#3a46b0" fill-opacity="0.7"/>
<rect x="389.92" y="184.24" width="1.9" height="1.9" fill="#3a46b0" fill-opacity="0.7"/>
<rect x="390.28" y="174.44" width="1.9" height="1.9" fill="#3a46b0" fill-opacity="0.7"/>
<rect x="389.94" y="185.94" width="1.9" height="1.9" fill="#3a46b0" fill-opacity="0.7"/>
<rect x="389.86" y="181.53" width="1.9" height="1.9" fill="#3a46b0" fill-opacity="0.7"/>
<rect x="389.99" y="169.87" width="1.9" height="1.9" fill="#3a46b0" fill-opacity="0.7"/>
<rect x="390.16" y="179.14" width="1.9" height="1.9" fill="#3a46b0" fill-opacity="0.7"/>
<rect x="397.11" y="183.83" width="1.9" height="1.9" fill="#3a46b0" fill-opacity="0.7"/>
<rect x="397.09" y="176.87" width="1.9" height="1.9" fill="#3a46b0" fill-opacity="0.7"/>
<rect x="396.65" y="174.59" width="1.9" height="1.9" fill="#3a46b0" fill-opacity="0.7"/>
<rect x="396.87" y="181.98" width="1.9" height="1.9" fill="#3a46b0" fill-opacity="0.7"/>
<rect x="396.74" y="172.22" width="1.9" height="1.9" fill="#3a46b0" fill-opacity="0.7"/>
<rect x="396.71" y="169.95" width="1.9" height="1.9" fill="#3a46b0" fill-opacity="0.7"/>
<rect x="397.27" y="168.2" width="1.9" height="1.9" fill="#3a46b0" fill-opacity="0.7"/>
<rect x="396.76" y="178.99" width="1.9" height="1.9" fill="#3a46b0" fill-opacity="0.7"/>
<rect x="396.94" y="186.32" width="1.9" height="1.9" fill="#3a46b0" fill-opacity="0.7"/>
<rect x="387.76" y="169.86" width="1.9" height="1.9" fill="#3a46b0" fill-opacity="0.7"/>
<rect x="387.76" y="176.84" width="1.9" height="1.9" fill="#3a46b0" fill-opacity="0.7"/>
<rect x="387.62" y="181.29" width="1.9" height="1.9" fill="#3a46b0" fill-opacity="0.7"/>
<rect x="387.51" y="167.49" width="1.9" height="1.9" fill="#3a46b0" fill-opacity="0.7"/>
<rect x="387.78" y="179.14" width="1.9" height="1.9" fill="#3a46b0" fill-opacity="0.7"/>
<rect x="387.79" y="183.95" width="1.9" height="1.9" fill="#3a46b0" fill-opacity="0.7"/>
<rect x="387.56" y="174.45" width="1.9" height="1.9" fill="#3a46b0" fill-opacity="0.7"/>
<rect x="387.82" y="172.59" width="1.9" height="1.9" fill="#3a46b0" fill-opacity="0.7"/>
<rect x="387.88" y="186.26" width="1.9" height="1.9" fill="#3a46b0" fill-opacity="0.7"/>
<rect x="403.79" y="179.62" width="1.9" height="1.9" fill="#3a46b0" fill-opacity="0.7"/>
<rect x="403.57" y="167.54" width="1.9" height="1.9" fill="#3a46b0" fill-opacity="0.7"/>
<rect x="403.85" y="175.05" width="1.9" height="1.9" fill="#3a46b0" fill-opacity="0.7"/>
<rect x="403.77" y="183.75" width="1.9" height="1.9" fill="#3a46b0" fill-opacity="0.7"/>
<rect x="404.04" y="172.13" width="1.9" height="1.9" fill="#3a46b0" fill-opacity="0.7"/>
<rect x="403.71" y="170.23" width="1.9" height="1.9" fill="#3a46b0" fill-opacity="0.7"/>
<rect x="408.35" y="183.65" width="1.9" height="1.9" fill="#3a46b0" fill-opacity="0.7"/>
<rect x="408.29" y="181.86" width="1.9" height="1.9" fill="#3a46b0" fill-opacity="0.7"/>
<rect x="408.79" y="172.27" width="1.9" height="1.9" fill="#3a46b0" fill-opacity="0.7"/>
<rect x="408.15" y="174.94" width="1.9" height="1.9" fill="#3a46b0" fill-opacity="0.7"/>
<rect x="401.72" y="186.24" width="1.9" height="1.9" fill="#3a46b0" fill-opacity="0.7"/>
<rect x="401.9" y="181.87" width="1.9" height="1.9" fill="#3a46b0" fill-opacity="0.7"/>
<rect x="401.36" y="174.69" width="1.9" height="1.9" fill="#3a46b0" fill-opacity="0.7"/>
<rect x="401.26" y="179.25" width="1.9" height="1.9" fill="#3a46b0" fill-opacity="0.7"/>
<rect x="401.77" y="177.04" width="1.9" height="1.9" fill="#3a46b0" fill-opacity="0.7"/>
<rect x="406.14" y="177.05" width="1.9" height="1.9" fill="#3a46b0" fill-opacity="0.7"/>
<rect x="406.28" y="182" width="1.9" height="1.9" fill="#3a46b0" fill-opacity="0.7"/>
<rect x="406.36" y="167.89" width="1.9" height="1.9" fill="#3a46b0" fill-opacity="0.7"/>
<rect x="406.28" y="174.78" width="1.9" height="1.9" fill="#3a46b0" fill-opacity="0.7"/>
<rect x="337.08" y="186.19" width="1.9" height="1.9" fill="#3a46b0" fill-opacity="0.7"/>
<rect x="337.33" y="176.95" width="1.9" height="1.9" fill="#3a46b0" fill-opacity="0.7"/>
<rect x="337.43" y="179.53" width="1.9" height="1.9" fill="#3a46b0" fill-opacity="0.7"/>
<rect x="339.59" y="186.31" width="1.9" height="1.9" fill="#3a46b0" fill-opacity="0.7"/>
<line x1="381" y1="178" x2="396" y2="178" stroke="#151515" stroke-width="1.0"/>
<line x1="388.75" y1="169" x2="388.75" y2="187" stroke="#151515" stroke-width="1.0"/>
<line x1="381" y1="172" x2="381" y2="184" stroke="#151515" stroke-width="1.0"/>
<line x1="396" y1="172" x2="396" y2="184" stroke="#151515" stroke-width="1.0"/>
<rect x="436.08" y="203.81" width="1.9" height="1.9" fill="#ec3c40" fill-opacity="0.7"/>
<rect x="435.78" y="210.55" width="1.9" height="1.9" fill="#ec3c40" fill-opacity="0.7"/>
<rect x="435.93" y="212.8" width="1.9" height="1.9" fill="#ec3c40" fill-opacity="0.7"/>
<rect x="436.28" y="205.65" width="1.9" height="1.9" fill="#ec3c40" fill-opacity="0.7"/>
<rect x="436.37" y="198.61" width="1.9" height="1.9" fill="#ec3c40" fill-opacity="0.7"/>
<rect x="436.09" y="201.28" width="1.9" height="1.9" fill="#ec3c40" fill-opacity="0.7"/>
<rect x="435.86" y="208.2" width="1.9" height="1.9" fill="#ec3c40" fill-opacity="0.7"/>
<rect x="436.03" y="215.01" width="1.9" height="1.9" fill="#ec3c40" fill-opacity="0.7"/>
<rect x="436.2" y="196.25" width="1.9" height="1.9" fill="#ec3c40" fill-opacity="0.7"/>
<rect x="433.46" y="203.71" width="1.9" height="1.9" fill="#ec3c40" fill-opacity="0.7"/>
<rect x="433.74" y="210.6" width="1.9" height="1.9" fill="#ec3c40" fill-opacity="0.7"/>
<rect x="433.78" y="198.99" width="1.9" height="1.9" fill="#ec3c40" fill-opacity="0.7"/>
<rect x="433.77" y="212.59" width="1.9" height="1.9" fill="#ec3c40" fill-opacity="0.7"/>
<rect x="434.03" y="200.92" width="1.9" height="1.9" fill="#ec3c40" fill-opacity="0.7"/>
<rect x="434.01" y="208.44" width="1.9" height="1.9" fill="#ec3c40" fill-opacity="0.7"/>
<rect x="433.75" y="196.87" width="1.9" height="1.9" fill="#ec3c40" fill-opacity="0.7"/>
<rect x="433.87" y="205.93" width="1.9" height="1.9" fill="#ec3c40" fill-opacity="0.7"/>
<rect x="433.6" y="214.91" width="1.9" height="1.9" fill="#ec3c40" fill-opacity="0.7"/>
<rect x="422.08" y="203.37" width="1.9" height="1.9" fill="#ec3c40" fill-opacity="0.7"/>
<rect x="421.96" y="201.02" width="1.9" height="1.9" fill="#ec3c40" fill-opacity="0.7"/>
<rect x="422.08" y="215.33" width="1.9" height="1.9" fill="#ec3c40" fill-opacity="0.7"/>
<rect x="422.25" y="205.54" width="1.9" height="1.9" fill="#ec3c40" fill-opacity="0.7"/>
<rect x="422.22" y="207.85" width="1.9" height="1.9" fill="#ec3c40" fill-opacity="0.7"/>
<rect x="422.3" y="198.9" width="1.9" height="1.9" fill="#ec3c40" fill-opacity="0.7"/>
<rect x="422.5" y="212.56" width="1.9" height="1.9" fill="#ec3c40" fill-opacity="0.7"/>
<rect x="422.5" y="210.25" width="1.9" height="1.9" fill="#ec3c40" fill-opacity="0.7"/>
<rect x="422.59" y="196.76" width="1.9" height="1.9" fill="#ec3c40" fill-opacity="0.7"/>
<rect x="429.28" y="196.48" width="1.9" height="1.9" fill="#ec3c40" fill-opacity="0.7"/>
<rect x="428.85" y="210.78" width="1.9" height="1.9" fill="#ec3c40" fill-opacity="0.7"/>
<rect x="429.26" y="203.29" width="1.9" height="1.9" fill="#ec3c40" fill-opacity="0.7"/>
<rect x="429.48" y="206.18" width="1.9" height="1.9" fill="#ec3c40" fill-opacity="0.7"/>
<rect x="428.93" y="198.57" width="1.9" height="1.9" fill="#ec3c40" fill-opacity="0.7"/>
<rect x="429.23" y="212.46" width="1.9" height="1.9" fill="#ec3c40" fill-opacity="0.7"/>
<rect x="429.31" y="201.23" width="1.9" height="1.9" fill="#ec3c40" fill-opacity="0.7"/>
<rect x="429.3" y="215.11" width="1.9" height="1.9" fill="#ec3c40" fill-opacity="0.7"/>
<rect x="429.34" y="208.41" width="1.9" height="1.9" fill="#ec3c40" fill-opacity="0.7"/>
<rect x="426.93" y="208.18" width="1.9" height="1.9" fill="#ec3c40" fill-opacity="0.7"/>
<rect x="427.1" y="205.8" width="1.9" height="1.9" fill="#ec3c40" fill-opacity="0.7"/>
<rect x="426.75" y="201.37" width="1.9" height="1.9" fill="#ec3c40" fill-opacity="0.7"/>
<rect x="427.02" y="199.29" width="1.9" height="1.9" fill="#ec3c40" fill-opacity="0.7"/>
<rect x="426.72" y="196.96" width="1.9" height="1.9" fill="#ec3c40" fill-opacity="0.7"/>
<rect x="427.19" y="215.44" width="1.9" height="1.9" fill="#ec3c40" fill-opacity="0.7"/>
<rect x="426.59" y="203.45" width="1.9" height="1.9" fill="#ec3c40" fill-opacity="0.7"/>
<rect x="427.04" y="210.71" width="1.9" height="1.9" fill="#ec3c40" fill-opacity="0.7"/>
<rect x="426.53" y="212.67" width="1.9" height="1.9" fill="#ec3c40" fill-opacity="0.7"/>
<rect x="424.61" y="210.38" width="1.9" height="1.9" fill="#ec3c40" fill-opacity="0.7"/>
<rect x="424.37" y="208" width="1.9" height="1.9" fill="#ec3c40" fill-opacity="0.7"/>
<rect x="424.67" y="203.51" width="1.9" height="1.9" fill="#ec3c40" fill-opacity="0.7"/>
<rect x="424.32" y="199.21" width="1.9" height="1.9" fill="#ec3c40" fill-opacity="0.7"/>
<rect x="424.6" y="206.22" width="1.9" height="1.9" fill="#ec3c40" fill-opacity="0.7"/>
<rect x="424.58" y="196.75" width="1.9" height="1.9" fill="#ec3c40" fill-opacity="0.7"/>
<rect x="424.5" y="201.34" width="1.9" height="1.9" fill="#ec3c40" fill-opacity="0.7"/>
<rect x="424.84" y="213.14" width="1.9" height="1.9" fill="#ec3c40" fill-opacity="0.7"/>
<rect x="424.66" y="214.99" width="1.9" height="1.9" fill="#ec3c40" fill-opacity="0.7"/>
<rect x="431.6" y="196.78" width="1.9" height="1.9" fill="#ec3c40" fill-opacity="0.7"/>
<rect x="431.29" y="212.48" width="1.9" height="1.9" fill="#ec3c40" fill-opacity="0.7"/>
<rect x="431.52" y="203.2" width="1.9" height="1.9" fill="#ec3c40" fill-opacity="0.7"/>
<rect x="431.51" y="205.86" width="1.9" height="1.9" fill="#ec3c40" fill-opacity="0.7"/>
<rect x="431.48" y="198.65" width="1.9" height="1.9" fill="#ec3c40" fill-opacity="0.7"/>
<rect x="431.15" y="201.23" width="1.9" height="1.9" fill="#ec3c40" fill-opacity="0.7"/>
<rect x="431.2" y="208.26" width="1.9" height="1.9" fill="#ec3c40" fill-opacity="0.7"/>
<rect x="431.32" y="215.15" width="1.9" height="1.9" fill="#ec3c40" fill-opacity="0.7"/>
<rect x="431.63" y="210.54" width="1.9" height="1.9" fill="#ec3c40" fill-opacity="0.7"/>
<rect x="442.79" y="205.68" width="1.9" height="1.9" fill="#ec3c40" fill-opacity="0.7"/>
<rect x="442.95" y="201.29" width="1.9" height="1.9" fill="#ec3c40" fill-opacity="0.7"/>
<rect x="443.15" y="203.39" width="1.9" height="1.9" fill="#ec3c40" fill-opacity="0.7"/>
<rect x="443.27" y="214.67" width="1.9" height="1.9" fill="#ec3c40" fill-opacity="0.7"/>
<rect x="438.47" y="210.14" width="1.9" height="1.9" fill="#ec3c40" fill-opacity="0.7"/>
<rect x="438.64" y="206.23" width="1.9" height="1.9" fill="#ec3c40" fill-opacity="0.7"/>
<rect x="438.08" y="213.01" width="1.9" height="1.9" fill="#ec3c40" fill-opacity="0.7"/>
<rect x="438.06" y="198.62" width="1.9" height="1.9" fill="#ec3c40" fill-opacity="0.7"/>
<rect x="438.56" y="208.33" width="1.9" height="1.9" fill="#ec3c40" fill-opacity="0.7"/>
<rect x="438.67" y="215.16" width="1.9" height="1.9" fill="#ec3c40" fill-opacity="0.7"/>
<rect x="440.91" y="205.61" width="1.9" height="1.9" fill="#ec3c40" fill-opacity="0.7"/>
<rect x="440.81" y="201.44" width="1.9" height="1.9" fill="#ec3c40" fill-opacity="0.7"/>
<rect x="440.35" y="208.41" width="1.9" height="1.9" fill="#ec3c40" fill-opacity="0.7"/>
<rect x="440.42" y="214.82" width="1.9" height="1.9" fill="#ec3c40" fill-opacity="0.7"/>
<rect x="440.34" y="210.58" width="1.9" height="1.9" fill="#ec3c40" fill-opacity="0.7"/>
<rect x="417.98" y="198.55" width="1.9" height="1.9" fill="#ec3c40" fill-opacity="0.7"/>
<line x1="426" y1="206.8" x2="436" y2="206.8" stroke="#151515" stroke-width="1.0"/>
<line x1="432.5" y1="196.8" x2="432.5" y2="216.8" stroke="#151515" stroke-width="1.0"/>
<line x1="426" y1="200.8" x2="426" y2="212.8" stroke="#151515" stroke-width="1.0"/>
<line x1="436" y1="200.8" x2="436" y2="212.8" stroke="#151515" stroke-width="1.0"/>
<rect x="429.36" y="229.73" width="1.9" height="1.9" fill="#a8348a" fill-opacity="0.7"/>
<rect x="428.93" y="225.16" width="1.9" height="1.9" fill="#a8348a" fill-opacity="0.7"/>
<rect x="429.15" y="241.21" width="1.9" height="1.9" fill="#a8348a" fill-opacity="0.7"/>
<rect x="429.36" y="227.75" width="1.9" height="1.9" fill="#a8348a" fill-opacity="0.7"/>
<rect x="429.29" y="243.65" width="1.9" height="1.9" fill="#a8348a" fill-opacity="0.7"/>
<rect x="429.26" y="236.91" width="1.9" height="1.9" fill="#a8348a" fill-opacity="0.7"/>
<rect x="429.25" y="234.58" width="1.9" height="1.9" fill="#a8348a" fill-opacity="0.7"/>
<rect x="429.49" y="232.63" width="1.9" height="1.9" fill="#a8348a" fill-opacity="0.7"/>
<rect x="429.38" y="239.12" width="1.9" height="1.9" fill="#a8348a" fill-opacity="0.7"/>
<rect x="431.32" y="230.25" width="1.9" height="1.9" fill="#a8348a" fill-opacity="0.7"/>
<rect x="431.53" y="228.11" width="1.9" height="1.9" fill="#a8348a" fill-opacity="0.7"/>
<rect x="431.27" y="232.17" width="1.9" height="1.9" fill="#a8348a" fill-opacity="0.7"/>
<rect x="431.14" y="243.62" width="1.9" height="1.9" fill="#a8348a" fill-opacity="0.7"/>
<rect x="431.79" y="234.7" width="1.9" height="1.9" fill="#a8348a" fill-opacity="0.7"/>
<rect x="431.43" y="241.42" width="1.9" height="1.9" fill="#a8348a" fill-opacity="0.7"/>
<rect x="431.63" y="237.1" width="1.9" height="1.9" fill="#a8348a" fill-opacity="0.7"/>
<rect x="431.21" y="238.89" width="1.9" height="1.9" fill="#a8348a" fill-opacity="0.7"/>
<rect x="431.22" y="225.7" width="1.9" height="1.9" fill="#a8348a" fill-opacity="0.7"/>
<rect x="422.56" y="239.29" width="1.9" height="1.9" fill="#a8348a" fill-opacity="0.7"/>
<rect x="422.56" y="229.84" width="1.9" height="1.9" fill="#a8348a" fill-opacity="0.7"/>
<rect x="422.34" y="232.41" width="1.9" height="1.9" fill="#a8348a" fill-opacity="0.7"/>
<rect x="422.55" y="234.54" width="1.9" height="1.9" fill="#a8348a" fill-opacity="0.7"/>
<rect x="422.06" y="241.8" width="1.9" height="1.9" fill="#a8348a" fill-opacity="0.7"/>
<rect x="422.57" y="236.96" width="1.9" height="1.9" fill="#a8348a" fill-opacity="0.7"/>
<rect x="422.13" y="225.12" width="1.9" height="1.9" fill="#a8348a" fill-opacity="0.7"/>
<rect x="422.21" y="228.09" width="1.9" height="1.9" fill="#a8348a" fill-opacity="0.7"/>
<rect x="422.15" y="243.81" width="1.9" height="1.9" fill="#a8348a" fill-opacity="0.7"/>
<rect x="433.81" y="234.54" width="1.9" height="1.9" fill="#a8348a" fill-opacity="0.7"/>
<rect x="433.54" y="230.21" width="1.9" height="1.9" fill="#a8348a" fill-opacity="0.7"/>
<rect x="433.88" y="227.52" width="1.9" height="1.9" fill="#a8348a" fill-opacity="0.7"/>
<rect x="433.5" y="236.64" width="1.9" height="1.9" fill="#a8348a" fill-opacity="0.7"/>
<rect x="433.98" y="244.16" width="1.9" height="1.9" fill="#a8348a" fill-opacity="0.7"/>
<rect x="433.76" y="241.64" width="1.9" height="1.9" fill="#a8348a" fill-opacity="0.7"/>
<rect x="433.9" y="232.08" width="1.9" height="1.9" fill="#a8348a" fill-opacity="0.7"/>
<rect x="433.76" y="239.21" width="1.9" height="1.9" fill="#a8348a" fill-opacity="0.7"/>
<rect x="434.01" y="225.18" width="1.9" height="1.9" fill="#a8348a" fill-opacity="0.7"/>
<rect x="427.17" y="241.54" width="1.9" height="1.9" fill="#a8348a" fill-opacity="0.7"/>
<rect x="427.14" y="227.93" width="1.9" height="1.9" fill="#a8348a" fill-opacity="0.7"/>
<rect x="427.09" y="236.83" width="1.9" height="1.9" fill="#a8348a" fill-opacity="0.7"/>
<rect x="426.57" y="239.36" width="1.9" height="1.9" fill="#a8348a" fill-opacity="0.7"/>
<rect x="426.58" y="225.55" width="1.9" height="1.9" fill="#a8348a" fill-opacity="0.7"/>
<rect x="426.63" y="232.43" width="1.9" height="1.9" fill="#a8348a" fill-opacity="0.7"/>
<rect x="427.04" y="230.42" width="1.9" height="1.9" fill="#a8348a" fill-opacity="0.7"/>
<rect x="426.64" y="234.39" width="1.9" height="1.9" fill="#a8348a" fill-opacity="0.7"/>
<rect x="426.79" y="244.23" width="1.9" height="1.9" fill="#a8348a" fill-opacity="0.7"/>
<rect x="424.37" y="230.17" width="1.9" height="1.9" fill="#a8348a" fill-opacity="0.7"/>
<rect x="424.58" y="234.86" width="1.9" height="1.9" fill="#a8348a" fill-opacity="0.7"/>
<rect x="424.2" y="232.17" width="1.9" height="1.9" fill="#a8348a" fill-opacity="0.7"/>
<rect x="424.67" y="225.5" width="1.9" height="1.9" fill="#a8348a" fill-opacity="0.7"/>
<rect x="424.55" y="239.27" width="1.9" height="1.9" fill="#a8348a" fill-opacity="0.7"/>
<rect x="424.63" y="237.14" width="1.9" height="1.9" fill="#a8348a" fill-opacity="0.7"/>
<rect x="424.78" y="241.77" width="1.9" height="1.9" fill="#a8348a" fill-opacity="0.7"/>
<rect x="424.83" y="243.91" width="1.9" height="1.9" fill="#a8348a" fill-opacity="0.7"/>
<rect x="424.32" y="227.65" width="1.9" height="1.9" fill="#a8348a" fill-opacity="0.7"/>
<rect x="419.71" y="241.67" width="1.9" height="1.9" fill="#a8348a" fill-opacity="0.7"/>
<rect x="419.9" y="236.7" width="1.9" height="1.9" fill="#a8348a" fill-opacity="0.7"/>
<rect x="420.28" y="234.44" width="1.9" height="1.9" fill="#a8348a" fill-opacity="0.7"/>
<rect x="420.25" y="227.85" width="1.9" height="1.9" fill="#a8348a" fill-opacity="0.7"/>
<rect x="436.2" y="243.87" width="1.9" height="1.9" fill="#a8348a" fill-opacity="0.7"/>
<rect x="435.89" y="239.43" width="1.9" height="1.9" fill="#a8348a" fill-opacity="0.7"/>
<rect x="435.79" y="227.93" width="1.9" height="1.9" fill="#a8348a" fill-opacity="0.7"/>
<rect x="436.26" y="229.76" width="1.9" height="1.9" fill="#a8348a" fill-opacity="0.7"/>
<rect x="435.7" y="241.88" width="1.9" height="1.9" fill="#a8348a" fill-opacity="0.7"/>
<rect x="435.83" y="234.68" width="1.9" height="1.9" fill="#a8348a" fill-opacity="0.7"/>
<rect x="435.9" y="232.06" width="1.9" height="1.9" fill="#a8348a" fill-opacity="0.7"/>
<rect x="435.88" y="236.61" width="1.9" height="1.9" fill="#a8348a" fill-opacity="0.7"/>
<rect x="436.29" y="225.67" width="1.9" height="1.9" fill="#a8348a" fill-opacity="0.7"/>
<rect x="438.59" y="239.34" width="1.9" height="1.9" fill="#a8348a" fill-opacity="0.7"/>
<rect x="438.35" y="227.44" width="1.9" height="1.9" fill="#a8348a" fill-opacity="0.7"/>
<rect x="438.02" y="232.45" width="1.9" height="1.9" fill="#a8348a" fill-opacity="0.7"/>
<rect x="438.67" y="225.83" width="1.9" height="1.9" fill="#a8348a" fill-opacity="0.7"/>
<rect x="438.29" y="241.57" width="1.9" height="1.9" fill="#a8348a" fill-opacity="0.7"/>
<rect x="438.62" y="243.68" width="1.9" height="1.9" fill="#a8348a" fill-opacity="0.7"/>
<rect x="438.51" y="237.03" width="1.9" height="1.9" fill="#a8348a" fill-opacity="0.7"/>
<rect x="408.37" y="234.38" width="1.9" height="1.9" fill="#a8348a" fill-opacity="0.7"/>
<line x1="424" y1="235.6" x2="436" y2="235.6" stroke="#151515" stroke-width="1.0"/>
<line x1="430" y1="225.6" x2="430" y2="245.6" stroke="#151515" stroke-width="1.0"/>
<line x1="424" y1="229.6" x2="424" y2="241.6" stroke="#151515" stroke-width="1.0"/>
<line x1="436" y1="229.6" x2="436" y2="241.6" stroke="#151515" stroke-width="1.0"/>
<rect x="54.5" y="299.5" width="194" height="141" stroke="#151515" stroke-width="1" fill="none"/>
<line x1="73.8" y1="438.8" x2="73.8" y2="441.52" stroke="#151515" stroke-width="1"/>
<line x1="73.8" y1="298.48" x2="73.8" y2="301.2" stroke="#151515" stroke-width="1"/>
<line x1="112.5" y1="438.8" x2="112.5" y2="441.52" stroke="#151515" stroke-width="1"/>
<line x1="112.5" y1="298.48" x2="112.5" y2="301.2" stroke="#151515" stroke-width="1"/>
<line x1="151.2" y1="438.8" x2="151.2" y2="441.52" stroke="#151515" stroke-width="1"/>
<line x1="151.2" y1="298.48" x2="151.2" y2="301.2" stroke="#151515" stroke-width="1"/>
<line x1="189.9" y1="438.8" x2="189.9" y2="441.52" stroke="#151515" stroke-width="1"/>
<line x1="189.9" y1="298.48" x2="189.9" y2="301.2" stroke="#151515" stroke-width="1"/>
<line x1="228.6" y1="438.8" x2="228.6" y2="441.52" stroke="#151515" stroke-width="1"/>
<line x1="228.6" y1="298.48" x2="228.6" y2="301.2" stroke="#151515" stroke-width="1"/>
<line x1="53.48" y1="440.2" x2="56.2" y2="440.2" stroke="#151515" stroke-width="1"/>
<line x1="246.8" y1="440.2" x2="249.52" y2="440.2" stroke="#151515" stroke-width="1"/>
<line x1="53.48" y1="413.22" x2="56.2" y2="413.22" stroke="#151515" stroke-width="1"/>
<line x1="246.8" y1="413.22" x2="249.52" y2="413.22" stroke="#151515" stroke-width="1"/>
<line x1="53.48" y1="386.24" x2="56.2" y2="386.24" stroke="#151515" stroke-width="1"/>
<line x1="246.8" y1="386.24" x2="249.52" y2="386.24" stroke="#151515" stroke-width="1"/>
<line x1="53.48" y1="359.26" x2="56.2" y2="359.26" stroke="#151515" stroke-width="1"/>
<line x1="246.8" y1="359.26" x2="249.52" y2="359.26" stroke="#151515" stroke-width="1"/>
<line x1="53.48" y1="332.28" x2="56.2" y2="332.28" stroke="#151515" stroke-width="1"/>
<line x1="246.8" y1="332.28" x2="249.52" y2="332.28" stroke="#151515" stroke-width="1"/>
<line x1="53.48" y1="305.3" x2="56.2" y2="305.3" stroke="#151515" stroke-width="1"/>
<line x1="246.8" y1="305.3" x2="249.52" y2="305.3" stroke="#151515" stroke-width="1"/>
<line x1="151.5" y1="299.5" x2="151.5" y2="440.5" stroke="#151515" stroke-width="1" stroke-dasharray="1.4,1.2"/>
<text x="50.6" y="443" font-size="8.2" text-anchor="end" fill="#151515" stroke="#151515" stroke-width="0.3">0</text>
<text x="50.6" y="416.02" font-size="8.2" text-anchor="end" fill="#151515" stroke="#151515" stroke-width="0.3">0.2</text>
<text x="50.6" y="389.04" font-size="8.2" text-anchor="end" fill="#151515" stroke="#151515" stroke-width="0.3">0.4</text>
<text x="50.6" y="362.06" font-size="8.2" text-anchor="end" fill="#151515" stroke="#151515" stroke-width="0.3">0.6</text>
<text x="50.6" y="335.08" font-size="8.2" text-anchor="end" fill="#151515" stroke="#151515" stroke-width="0.3">0.8</text>
<text x="50.6" y="308.1" font-size="8.2" text-anchor="end" fill="#151515" stroke="#151515" stroke-width="0.3">1</text>
<text x="53.25" y="449.6" font-size="8.2" text-anchor="middle" fill="#151515" stroke="#151515" stroke-width="0.3">-50</text>
<text x="73.8" y="449.6" font-size="8.2" text-anchor="middle" fill="#151515" stroke="#151515" stroke-width="0.3">-40</text>
<text x="112.5" y="449.6" font-size="8.2" text-anchor="middle" fill="#151515" stroke="#151515" stroke-width="0.3">-20</text>
<text x="151.2" y="449.6" font-size="8.2" text-anchor="middle" fill="#151515" stroke="#151515" stroke-width="0.3">0</text>
<text x="189.9" y="449.6" font-size="8.2" text-anchor="middle" fill="#151515" stroke="#151515" stroke-width="0.3">20</text>
<text x="228.6" y="449.6" font-size="8.2" text-anchor="middle" fill="#151515" stroke="#151515" stroke-width="0.3">40</text>
<text x="155.25" y="459.1" font-size="9.75" text-anchor="middle" fill="#151515" stroke="#151515" stroke-width="0.3">Time from spindle reformation (min)</text>
<text x="35" y="370.3" font-size="10" text-anchor="middle" fill="#151515" transform="rotate(-90 35 370.3)" stroke="#151515" stroke-width="0.3">Normalized GFP intensity</text>
<text x="238" y="314.6" font-size="9.2" text-anchor="end" font-style="italic" fill="#151515" stroke="#151515" stroke-width="0.3">CLB5-GFP</text>
<rect x="323.5" y="299.5" width="193" height="141" stroke="#151515" stroke-width="1" fill="none"/>
<line x1="342.3" y1="438.8" x2="342.3" y2="441.52" stroke="#151515" stroke-width="1"/>
<line x1="342.3" y1="298.48" x2="342.3" y2="301.2" stroke="#151515" stroke-width="1"/>
<line x1="381" y1="438.8" x2="381" y2="441.52" stroke="#151515" stroke-width="1"/>
<line x1="381" y1="298.48" x2="381" y2="301.2" stroke="#151515" stroke-width="1"/>
<line x1="419.7" y1="438.8" x2="419.7" y2="441.52" stroke="#151515" stroke-width="1"/>
<line x1="419.7" y1="298.48" x2="419.7" y2="301.2" stroke="#151515" stroke-width="1"/>
<line x1="458.4" y1="438.8" x2="458.4" y2="441.52" stroke="#151515" stroke-width="1"/>
<line x1="458.4" y1="298.48" x2="458.4" y2="301.2" stroke="#151515" stroke-width="1"/>
<line x1="497.1" y1="438.8" x2="497.1" y2="441.52" stroke="#151515" stroke-width="1"/>
<line x1="497.1" y1="298.48" x2="497.1" y2="301.2" stroke="#151515" stroke-width="1"/>
<line x1="322.48" y1="440.2" x2="325.2" y2="440.2" stroke="#151515" stroke-width="1"/>
<line x1="514.8" y1="440.2" x2="517.52" y2="440.2" stroke="#151515" stroke-width="1"/>
<line x1="322.48" y1="413.22" x2="325.2" y2="413.22" stroke="#151515" stroke-width="1"/>
<line x1="514.8" y1="413.22" x2="517.52" y2="413.22" stroke="#151515" stroke-width="1"/>
<line x1="322.48" y1="386.24" x2="325.2" y2="386.24" stroke="#151515" stroke-width="1"/>
<line x1="514.8" y1="386.24" x2="517.52" y2="386.24" stroke="#151515" stroke-width="1"/>
<line x1="322.48" y1="359.26" x2="325.2" y2="359.26" stroke="#151515" stroke-width="1"/>
<line x1="514.8" y1="359.26" x2="517.52" y2="359.26" stroke="#151515" stroke-width="1"/>
<line x1="322.48" y1="332.28" x2="325.2" y2="332.28" stroke="#151515" stroke-width="1"/>
<line x1="514.8" y1="332.28" x2="517.52" y2="332.28" stroke="#151515" stroke-width="1"/>
<line x1="322.48" y1="305.3" x2="325.2" y2="305.3" stroke="#151515" stroke-width="1"/>
<line x1="514.8" y1="305.3" x2="517.52" y2="305.3" stroke="#151515" stroke-width="1"/>
<line x1="419.5" y1="299.5" x2="419.5" y2="440.5" stroke="#151515" stroke-width="1" stroke-dasharray="1.4,1.2"/>
<text x="319.3" y="443" font-size="8.2" text-anchor="end" fill="#151515" stroke="#151515" stroke-width="0.3">0</text>
<text x="319.3" y="416.02" font-size="8.2" text-anchor="end" fill="#151515" stroke="#151515" stroke-width="0.3">0.2</text>
<text x="319.3" y="389.04" font-size="8.2" text-anchor="end" fill="#151515" stroke="#151515" stroke-width="0.3">0.4</text>
<text x="319.3" y="362.06" font-size="8.2" text-anchor="end" fill="#151515" stroke="#151515" stroke-width="0.3">0.6</text>
<text x="319.3" y="335.08" font-size="8.2" text-anchor="end" fill="#151515" stroke="#151515" stroke-width="0.3">0.8</text>
<text x="319.3" y="308.1" font-size="8.2" text-anchor="end" fill="#151515" stroke="#151515" stroke-width="0.3">1</text>
<text x="321.75" y="449.6" font-size="8.2" text-anchor="middle" fill="#151515" stroke="#151515" stroke-width="0.3">-50</text>
<text x="342.3" y="449.6" font-size="8.2" text-anchor="middle" fill="#151515" stroke="#151515" stroke-width="0.3">-40</text>
<text x="381" y="449.6" font-size="8.2" text-anchor="middle" fill="#151515" stroke="#151515" stroke-width="0.3">-20</text>
<text x="419.7" y="449.6" font-size="8.2" text-anchor="middle" fill="#151515" stroke="#151515" stroke-width="0.3">0</text>
<text x="458.4" y="449.6" font-size="8.2" text-anchor="middle" fill="#151515" stroke="#151515" stroke-width="0.3">20</text>
<text x="497.1" y="449.6" font-size="8.2" text-anchor="middle" fill="#151515" stroke="#151515" stroke-width="0.3">40</text>
<text x="417.6" y="459.1" font-size="9.75" text-anchor="middle" fill="#151515" stroke="#151515" stroke-width="0.3">Time from spindle reformation (min)</text>
<text x="304.4" y="370.1" font-size="10" text-anchor="middle" fill="#151515" transform="rotate(-90 304.4 370.1)" stroke="#151515" stroke-width="0.3">Normalized GFP intensity</text>
<text x="508.6" y="314.4" font-size="9.1" text-anchor="end" font-style="italic" fill="#151515" stroke="#151515" stroke-width="0.3">Securin-GFP</text>
<rect x="54.5" y="497.5" width="232" height="142" stroke="#151515" stroke-width="1" fill="none"/>
<line x1="170.5" y1="497.5" x2="170.5" y2="639.5" stroke="#151515" stroke-width="1"/>
<line x1="73.6" y1="637.8" x2="73.6" y2="640.52" stroke="#151515" stroke-width="1"/>
<line x1="73.6" y1="496.48" x2="73.6" y2="499.2" stroke="#151515" stroke-width="1"/>
<line x1="112.2" y1="637.8" x2="112.2" y2="640.52" stroke="#151515" stroke-width="1"/>
<line x1="112.2" y1="496.48" x2="112.2" y2="499.2" stroke="#151515" stroke-width="1"/>
<line x1="150.8" y1="637.8" x2="150.8" y2="640.52" stroke="#151515" stroke-width="1"/>
<line x1="150.8" y1="496.48" x2="150.8" y2="499.2" stroke="#151515" stroke-width="1"/>
<line x1="189.6" y1="637.8" x2="189.6" y2="640.52" stroke="#151515" stroke-width="1"/>
<line x1="189.6" y1="496.48" x2="189.6" y2="499.2" stroke="#151515" stroke-width="1"/>
<line x1="228.3" y1="637.8" x2="228.3" y2="640.52" stroke="#151515" stroke-width="1"/>
<line x1="228.3" y1="496.48" x2="228.3" y2="499.2" stroke="#151515" stroke-width="1"/>
<line x1="267" y1="637.8" x2="267" y2="640.52" stroke="#151515" stroke-width="1"/>
<line x1="267" y1="496.48" x2="267" y2="499.2" stroke="#151515" stroke-width="1"/>
<line x1="53.5" y1="639" x2="56.2" y2="639" stroke="#151515" stroke-width="1"/>
<line x1="168.8" y1="639" x2="172.2" y2="639" stroke="#151515" stroke-width="1"/>
<line x1="284.8" y1="639" x2="287.5" y2="639" stroke="#151515" stroke-width="1"/>
<line x1="53.5" y1="611.86" x2="56.2" y2="611.86" stroke="#151515" stroke-width="1"/>
<line x1="168.8" y1="611.86" x2="172.2" y2="611.86" stroke="#151515" stroke-width="1"/>
<line x1="284.8" y1="611.86" x2="287.5" y2="611.86" stroke="#151515" stroke-width="1"/>
<line x1="53.5" y1="584.72" x2="56.2" y2="584.72" stroke="#151515" stroke-width="1"/>
<line x1="168.8" y1="584.72" x2="172.2" y2="584.72" stroke="#151515" stroke-width="1"/>
<line x1="284.8" y1="584.72" x2="287.5" y2="584.72" stroke="#151515" stroke-width="1"/>
<line x1="53.5" y1="557.58" x2="56.2" y2="557.58" stroke="#151515" stroke-width="1"/>
<line x1="168.8" y1="557.58" x2="172.2" y2="557.58" stroke="#151515" stroke-width="1"/>
<line x1="284.8" y1="557.58" x2="287.5" y2="557.58" stroke="#151515" stroke-width="1"/>
<line x1="53.5" y1="530.44" x2="56.2" y2="530.44" stroke="#151515" stroke-width="1"/>
<line x1="168.8" y1="530.44" x2="172.2" y2="530.44" stroke="#151515" stroke-width="1"/>
<line x1="284.8" y1="530.44" x2="287.5" y2="530.44" stroke="#151515" stroke-width="1"/>
<line x1="53.5" y1="503.3" x2="56.2" y2="503.3" stroke="#151515" stroke-width="1"/>
<line x1="168.8" y1="503.3" x2="172.2" y2="503.3" stroke="#151515" stroke-width="1"/>
<line x1="284.8" y1="503.3" x2="287.5" y2="503.3" stroke="#151515" stroke-width="1"/>
<line x1="151" y1="515.5" x2="151" y2="639.5" stroke="#151515" stroke-width="1" stroke-dasharray="1.4,1.2"/>
<line x1="267" y1="497.5" x2="267" y2="618" stroke="#151515" stroke-width="1" stroke-dasharray="1.4,1.2"/>
<text x="50.6" y="641.8" font-size="8.2" text-anchor="end" fill="#151515" stroke="#151515" stroke-width="0.3">0</text>
<text x="50.6" y="614.66" font-size="8.2" text-anchor="end" fill="#151515" stroke="#151515" stroke-width="0.3">0.2</text>
<text x="50.6" y="587.52" font-size="8.2" text-anchor="end" fill="#151515" stroke="#151515" stroke-width="0.3">0.4</text>
<text x="50.6" y="560.38" font-size="8.2" text-anchor="end" fill="#151515" stroke="#151515" stroke-width="0.3">0.6</text>
<text x="50.6" y="533.24" font-size="8.2" text-anchor="end" fill="#151515" stroke="#151515" stroke-width="0.3">0.8</text>
<text x="50.6" y="506.1" font-size="8.2" text-anchor="end" fill="#151515" stroke="#151515" stroke-width="0.3">1</text>
<text x="53.1" y="648.8" font-size="8.2" text-anchor="middle" fill="#151515" stroke="#151515" stroke-width="0.3">-50</text>
<text x="73.6" y="648.8" font-size="8.2" text-anchor="middle" fill="#151515" stroke="#151515" stroke-width="0.3">-40</text>
<text x="112.2" y="648.8" font-size="8.2" text-anchor="middle" fill="#151515" stroke="#151515" stroke-width="0.3">-20</text>
<text x="150.8" y="648.8" font-size="8.2" text-anchor="middle" fill="#151515" stroke="#151515" stroke-width="0.3">0</text>
<text x="169.05" y="648.8" font-size="8.2" text-anchor="middle" fill="#151515" stroke="#151515" stroke-width="0.3">-50</text>
<text x="189.6" y="648.8" font-size="8.2" text-anchor="middle" fill="#151515" stroke="#151515" stroke-width="0.3">-40</text>
<text x="228.3" y="648.8" font-size="8.2" text-anchor="middle" fill="#151515" stroke="#151515" stroke-width="0.3">-20</text>
<text x="267" y="648.8" font-size="8.2" text-anchor="middle" fill="#151515" stroke="#151515" stroke-width="0.3">0</text>
<text x="169.8" y="659.9" font-size="9.75" text-anchor="middle" fill="#151515" stroke="#151515" stroke-width="0.3">Time from spindle reformation (min)</text>
<text x="34.4" y="571" font-size="10" text-anchor="middle" fill="#151515" transform="rotate(-90 34.4 571)" stroke="#151515" stroke-width="0.3">Normalized GFP intensity</text>
<text x="86.3" y="510.6" font-size="9.3" text-anchor="start" font-style="italic" fill="#151515" stroke="#151515" stroke-width="0.3">CLB5-GFP mad2Δ</text>
<text x="282.2" y="630.5" font-size="9.3" text-anchor="end" font-style="italic" fill="#151515" stroke="#151515" stroke-width="0.3">Securin-GFP mad2Δ</text>
<rect x="344.5" y="497.5" width="172" height="149" stroke="#151515" stroke-width="1" fill="none"/>
<line x1="344.7" y1="644.8" x2="344.7" y2="647.52" stroke="#151515" stroke-width="1"/>
<line x1="344.7" y1="496.48" x2="344.7" y2="499.2" stroke="#151515" stroke-width="1"/>
<line x1="383.5" y1="644.8" x2="383.5" y2="647.52" stroke="#151515" stroke-width="1"/>
<line x1="383.5" y1="496.48" x2="383.5" y2="499.2" stroke="#151515" stroke-width="1"/>
<line x1="422.3" y1="644.8" x2="422.3" y2="647.52" stroke="#151515" stroke-width="1"/>
<line x1="422.3" y1="496.48" x2="422.3" y2="499.2" stroke="#151515" stroke-width="1"/>
<line x1="461.1" y1="644.8" x2="461.1" y2="647.52" stroke="#151515" stroke-width="1"/>
<line x1="461.1" y1="496.48" x2="461.1" y2="499.2" stroke="#151515" stroke-width="1"/>
<line x1="499.9" y1="644.8" x2="499.9" y2="647.52" stroke="#151515" stroke-width="1"/>
<line x1="499.9" y1="496.48" x2="499.9" y2="499.2" stroke="#151515" stroke-width="1"/>
<line x1="343.48" y1="646.3" x2="346.2" y2="646.3" stroke="#151515" stroke-width="1"/>
<line x1="514.8" y1="646.3" x2="517.52" y2="646.3" stroke="#151515" stroke-width="1"/>
<line x1="343.48" y1="625" x2="346.2" y2="625" stroke="#151515" stroke-width="1"/>
<line x1="514.8" y1="625" x2="517.52" y2="625" stroke="#151515" stroke-width="1"/>
<line x1="343.48" y1="603.7" x2="346.2" y2="603.7" stroke="#151515" stroke-width="1"/>
<line x1="514.8" y1="603.7" x2="517.52" y2="603.7" stroke="#151515" stroke-width="1"/>
<line x1="343.48" y1="582.4" x2="346.2" y2="582.4" stroke="#151515" stroke-width="1"/>
<line x1="514.8" y1="582.4" x2="517.52" y2="582.4" stroke="#151515" stroke-width="1"/>
<line x1="343.48" y1="561.1" x2="346.2" y2="561.1" stroke="#151515" stroke-width="1"/>
<line x1="514.8" y1="561.1" x2="517.52" y2="561.1" stroke="#151515" stroke-width="1"/>
<line x1="343.48" y1="539.8" x2="346.2" y2="539.8" stroke="#151515" stroke-width="1"/>
<line x1="514.8" y1="539.8" x2="517.52" y2="539.8" stroke="#151515" stroke-width="1"/>
<line x1="343.48" y1="518.5" x2="346.2" y2="518.5" stroke="#151515" stroke-width="1"/>
<line x1="514.8" y1="518.5" x2="517.52" y2="518.5" stroke="#151515" stroke-width="1"/>
<line x1="343.48" y1="497.2" x2="346.2" y2="497.2" stroke="#151515" stroke-width="1"/>
<line x1="514.8" y1="497.2" x2="517.52" y2="497.2" stroke="#151515" stroke-width="1"/>
<text x="340.8" y="649.1" font-size="8.2" text-anchor="end" fill="#151515" stroke="#151515" stroke-width="0.3">0</text>
<text x="340.8" y="627.8" font-size="8.2" text-anchor="end" fill="#151515" stroke="#151515" stroke-width="0.3">20</text>
<text x="340.8" y="606.5" font-size="8.2" text-anchor="end" fill="#151515" stroke="#151515" stroke-width="0.3">40</text>
<text x="340.8" y="585.2" font-size="8.2" text-anchor="end" fill="#151515" stroke="#151515" stroke-width="0.3">60</text>
<text x="340.8" y="563.9" font-size="8.2" text-anchor="end" fill="#151515" stroke="#151515" stroke-width="0.3">80</text>
<text x="340.8" y="542.6" font-size="8.2" text-anchor="end" fill="#151515" stroke="#151515" stroke-width="0.3">100</text>
<text x="340.8" y="521.3" font-size="8.2" text-anchor="end" fill="#151515" stroke="#151515" stroke-width="0.3">120</text>
<text x="340.8" y="500" font-size="8.2" text-anchor="end" fill="#151515" stroke="#151515" stroke-width="0.3">140</text>
<text x="344.7" y="655.6" font-size="8.2" text-anchor="middle" fill="#151515" stroke="#151515" stroke-width="0.3">10</text>
<text x="383.5" y="655.6" font-size="8.2" text-anchor="middle" fill="#151515" stroke="#151515" stroke-width="0.3">30</text>
<text x="422.3" y="655.6" font-size="8.2" text-anchor="middle" fill="#151515" stroke="#151515" stroke-width="0.3">50</text>
<text x="461.1" y="655.6" font-size="8.2" text-anchor="middle" fill="#151515" stroke="#151515" stroke-width="0.3">70</text>
<text x="499.9" y="655.6" font-size="8.2" text-anchor="middle" fill="#151515" stroke="#151515" stroke-width="0.3">90</text>
<text x="430.5" y="666.5" font-size="9.75" text-anchor="middle" fill="#151515" stroke="#151515" stroke-width="0.3">Time in glucose and nocodazole (min)</text>
<text x="322.3" y="575.3" font-size="9.6" text-anchor="middle" fill="#151515" transform="rotate(-90 322.3 575.3)" stroke="#151515" stroke-width="0.3">GFP intensity (a.u.)</text>
<text x="352.6" y="511.8" font-size="9.1" text-anchor="start" font-style="italic" fill="#151515" stroke="#151515" stroke-width="0.3">CLB5-GFP</text>
<text x="352.2" y="523.4" font-size="9.3" text-anchor="start" font-style="italic" fill="#151515" stroke="#151515" stroke-width="0.3">pGALS-CDC20</text>
<polyline points="344.2,7.73 345.2,7.59 346.2,7.46 347.2,7.73 348.2,7.95 349.2,7.9 350.2,7.84 351.2,7.65 352.2,7.33 353.2,7.4 354.2,7.71 355.2,7.77 356.2,7.8 357.2,8.01 358.2,8.18 359.2,8.52 360.2,9.14 361.2,9.47 362.2,9.45 363.2,9.57 364.2,9.77 365.2,9.93 366.2,10.34 367.2,10.75 368.2,10.84 369.2,11.1 370.2,11.79 371.2,12.51 372.2,13.31 373.2,14.24 374.2,14.91 375.2,15.53 376.2,16.57 377.2,17.76 378.2,18.83 379.2,20.04 380.2,21.29 381.2,22.43 382.2,23.92 383.2,25.75 384.2,27.36 385.2,28.82 386.2,30.36 387.2,31.77 388.2,33.23 389.2,35.03 390.2,36.69 391.2,38.02 392.2,39.51 393.2,41.2 394.2,42.93 395.2,44.95 396.2,47.05 397.2,48.77 398.2,50.44 399.2,52.44 400.2,54.45 401.2,56.48 402.2,58.69 403.2,60.7 404.2,62.56 405.2,64.83 406.2,67.38 407.2,69.83 408.2,72.35 409.2,74.82 410.2,76.98 411.2,79.27 412.2,81.87 413.2,84.25 414.2,86.34 415.2,88.43 416.2,90.35 417.2,92.19 418.2,94.4 419.2,96.73 420.2,98.44 421.2,99.69 422.2,100.81 423.2,101.76 424.2,102.79 425.2,103.86 426.2,104.43 427.2,104.69 428.2,105.12 429.2,105.55 430.2,105.92 431.2,106.46 432.2,106.85 433.2,106.92 434.2,107.24 435.2,107.84 436.2,108.27 437.2,108.67 438.2,108.99 439.2,108.94 440.2,108.86 441.2,109.17 442.2,109.4 443.2,109.42 444.2,109.52 445.2,109.57 446.2,109.56 447.2,109.95 448.2,110.49 449.2,110.65 450.2,110.68 451.2,110.77 452.2,110.69 453.2,110.71 454.2,110.97 455.2,110.94 456.2,110.64 457.2,110.58 458.2,110.68 459.2,110.79 460.2,111.15 461.2,111.42 462.2,111.27 463.2,111.18 464.2,111.34 465.2,111.39 466.2,111.38 467.2,111.4 468.2,111.12 469.2,110.8 470.2,110.93 471.2,111.19 472.2,111.28 473.2,111.42 474.2,111.48 475.2,111.32 476.2,111.42 477.2,111.73 478.2,111.69 479.2,111.46 480.2,111.31 481.2,111.07 482.2,110.97 483.2,111.27 484.2,111.45 485.2,111.32 486.2,111.33 487.2,111.46 488.2,111.5 489.2,111.72 490.2,111.91 491.2,111.63 492.2,111.28 493.2,111.25 494.2,111.23 495.2,111.24 496.2,111.42 497.2,111.38 498.2,111.17 499.2,111.33 500.2,111.66 501.2,111.76 502.2,111.83 503.2,111.78 504.2,111.42 505.2,111.24 506.2,111.42 507.2,111.44 508.2,111.3 509.2,111.29 510.2,111.22 511.2,111.21 512.2,111.58 513.2,111.9 514.2,111.8 515.2,111.67 516.2,111.61" fill="none" stroke="#8e8e8e" stroke-width="1.6" stroke-linejoin="round" stroke-linecap="round"/>
<polyline points="326,7.77 327,7.95 328,7.86 329,7.81 330,7.31 331,7.1 332,7.02 333,7.02 334,7.37 335,7.34 336,7.43 337,7.43 338,7.36 339,7.65 340,7.6 341,7.66 342,7.51 343,7.22 344,7.36 345,7.42 346,7.86 347,8.19 348,8.21 349,8.34 350,8.11 351,8.2 352,8.35 353,8.43 354,8.77 355,8.79 356,9.17 357,9.73 358,10.43 359,11.5 360,12.13 361,12.79 362,13.31 363,13.78 364,14.75 365,15.64 366,16.86 367,18.02 368,19.02 369,20.35 370,21.53 371,23.07 372,24.55 373,25.82 374,27.24 375,28.35 376,29.88 377,31.58 378,33.32 379,35.34 380,36.93 381,38.61 382,40.22 383,41.78 384,43.67 385,45.21 386,46.88 387,48.44 388,49.95 389,51.97 390,53.92 391,56.22 392,58.39 393,60.25 394,62.26 395,63.97 396,66.03 397,68.12 398,70.03 399,72.07 400,73.68 401,75.53 402,77.41 403,79.2 404,81.17 405,82.59 406,84 407,85.27 408,86.51 409,88.25 410,89.83 411,91.59 412,93.11 413,94.29 414,95.64 415,96.65 416,97.8 417,98.72 418,99.3 419,100.01 420,100.41 421,101.17 422,102.04 423,102.8 424,103.66 425,103.97 426,104.34 427,104.62 428,104.85 429,105.41 430,105.62 431,105.95 432,106.17 433,106.33 434,106.92 435,107.29 436,107.82 437,108.07 438,107.96 439,108.04 440,107.92 441,108.21 442,108.57 443,108.76 444,109.14 445,109.14 446,109.39 447,109.68 448,109.85 449,110.18 450,110.01 451,109.92 452,109.84 453,109.81 454,110.28 455,110.51 456,110.85 457,110.96 458,110.8 459,110.95 460,110.86 461,111.03 462,111.09 463,110.88 464,110.93 465,110.79 466,111.07 467,111.44 468,111.61 469,111.85 470,111.56 471,111.42 472,111.31 473,111.21 474,111.49 475,111.43 476,111.51 477,111.52 478,111.47 479,111.82 480,111.88 481,112.03 482,111.91 483,111.5 484,111.41 485,111.2 486,111.41 487,111.65 488,111.67 489,111.82 490,111.57 491,111.59 492,111.61 493,111.48 494,111.52 495,111.09 496,110.85 497,110.69 498,110.59 499,110.93 500,110.91 501,110.92 502,110.67 503,110.19 504,110.05 505,109.72 506,109.64 507,109.46 508,109.04 509,108.91 510,108.58 511,108.56 512,108.5 513,108.11 514,107.74 515,106.86 516,106.2 517,105.71" fill="none" stroke="#4b50a8" stroke-width="1.6" stroke-linejoin="round" stroke-linecap="round"/>
<polyline points="326,27.96 327,27.39 328,26.84 329,26.02 330,25.29 331,24.57 332,23.94 333,23.65 334,23.1 335,22.17 336,21.55 337,21.13 338,20.64 339,20.24 340,19.64 341,18.96 342,18.82 343,18.79 344,18.39 345,18.01 346,17.66 347,17.28 348,17.13 349,16.74 350,15.87 351,15.27 352,14.97 353,14.56 354,14.21 355,13.78 356,13.21 357,13.09 358,13.07 359,12.55 360,11.96 361,11.51 362,11.03 363,10.78 364,10.49 365,9.84 366,9.52 367,9.66 368,9.64 369,9.56 370,9.42 371,9.08 372,9.03 373,9.1 374,8.66 375,8.13 376,7.91 377,7.74 378,7.74 379,7.78 380,7.46 381,7.33 382,7.63 383,7.67 384,7.47 385,7.27 386,6.95 387,6.88 388,7.1 389,6.94 390,6.72 391,6.95 392,7.27 393,7.59 394,7.9 395,7.81 396,7.78 397,8.2 398,8.43 399,8.4 400,8.58 401,8.83 402,9.36 403,10.26 404,10.84 405,11.24 406,12.07 407,12.96 408,13.68 409,14.42 410,14.91 411,15.48 412,16.6 413,17.66 414,18.41 415,19.41 416,20.54 417,21.76 418,23.19 419,24.33 420,25.2 421,26.58 422,28.31 423,30.25 424,32.93 425,36.08 426,39.24 427,43.28 428,47.46 429,51.13 430,54.65 431,57.88 432,60.82 433,63.66 434,66.04 435,67.88 436,69.99 437,72.28 438,74.23 439,76.11 440,77.91 441,79.56 442,81.47 443,83.22 444,84.32 445,85.4 446,86.65 447,87.79 448,88.98 449,90.06 450,90.84 451,91.98 452,93.42 453,94.44 454,95.27 455,96.1 456,96.79 457,97.69 458,98.59 459,98.97 460,99.41 461,100.27 462,101.08 463,101.85 464,102.55 465,102.94 466,103.51 467,104.37 468,104.78 469,104.91 470,105.2 471,105.48 472,105.96 473,106.58 474,106.79 475,107.01 476,107.68 477,108.26 478,108.6 479,108.88 480,108.86 481,108.98 482,109.46 483,109.61 484,109.5 485,109.68 486,109.98 487,110.35 488,110.83 489,110.87 490,110.76 491,111.06 492,111.28 493,111.17 494,111.07 495,110.88 496,110.84 497,111.23 498,111.38 499,111.18 500,111.25 501,111.41 502,111.44 503,111.48 504,111.15 505,110.63 506,110.59 507,110.63 508,110.37 509,110.2 510,110.11 511,110.07 512,110.37 513,110.43 514,110.01 515,109.79 516,109.76 517,109.57" fill="none" stroke="#b4467f" stroke-width="1.6" stroke-linejoin="round" stroke-linecap="round"/>
<polyline points="326,34.7 327,33.92 328,33.65 329,33 330,31.99 331,31.06 332,30.09 333,29.67 334,29.14 335,28.4 336,28.1 337,27.77 338,27.62 339,27.16 340,26.27 341,25.88 342,25.58 343,25.41 344,25.17 345,24.6 346,24.5 347,24.32 348,23.82 349,23.26 350,22.46 351,22.24 352,22.14 353,21.66 354,21.23 355,20.53 356,19.99 357,19.36 358,18.15 359,17.2 360,16.42 361,15.95 362,15.63 363,14.8 364,14.23 365,13.78 366,13.25 367,12.8 368,11.97 369,11.59 370,11.64 371,11.47 372,11.31 373,10.71 374,10.27 375,10.13 376,9.59 377,9.17 378,8.78 379,8.68 380,8.98 381,8.71 382,8.36 383,8.04 384,7.76 385,7.83 386,7.48 387,7.27 388,7.5 389,7.68 390,7.99 391,7.77 392,7.49 393,7.71 394,7.81 395,8.1 396,8.25 397,8.48 398,9.27 399,9.72 400,9.97 401,10.12 402,10.28 403,11.07 404,11.69 405,12.23 406,13.01 407,13.75 408,14.82 409,15.5 410,15.84 411,16.6 412,17.44 413,18.65 414,19.7 415,20.48 416,21.73 417,22.87 418,23.94 419,24.9 420,25.7 421,27.32 422,29.3 423,31.73 424,34.98 425,38.36 426,41.82 427,45.35 428,48.54 429,51.88 430,55.04 431,58.38 432,61.64 433,64.2 434,66.76 435,69.01 436,71.16 437,73.18 438,74.64 439,76.5 440,78.54 441,80.48 442,82.32 443,83.5 444,84.84 445,86.29 446,87.35 447,88.47 448,89.36 449,90.62 450,92.15 451,93.13 452,94.01 453,94.64 454,95.42 455,96.5 456,97.09 457,97.83 458,98.76 459,99.73 460,100.82 461,101.21 462,101.52 463,102.09 464,102.61 465,103.35 466,103.71 467,104.18 468,105.08 469,105.63 470,106.06 471,106.11 472,106.17 473,106.81 474,107.2 475,107.6 476,107.97 477,108.31 478,109.01 479,109.2 480,109.09 481,109.17 482,109.3 483,109.9 484,110.21 485,110.26 486,110.63 487,110.82 488,111.07 489,110.96 490,110.59 491,110.82 492,111.1 493,111.41 494,111.57 495,111.4 496,111.66 497,111.72 498,111.49 499,111.29 500,111.01 501,111.33 502,111.61 503,111.46 504,111.37 505,111.08 506,111.06 507,110.95 508,110.42 509,110.31 510,110.34 511,110.56 512,110.69 513,110.2 514,109.98 515,109.82 516,109.58 517,109.42" fill="none" stroke="#e8455e" stroke-width="1.6" stroke-linejoin="round" stroke-linecap="round"/>
<rect x="467" y="154.13" width="5.15" height="7.57" fill="#8c8c8c"/>
<rect x="471.85" y="139.56" width="5.15" height="22.14" fill="#8c8c8c"/>
<rect x="476.7" y="140.73" width="5.15" height="20.97" fill="#8c8c8c"/>
<rect x="481.55" y="148.88" width="5.15" height="12.82" fill="#8c8c8c"/>
<rect x="486.4" y="160.83" width="5.15" height="0.87" fill="#8c8c8c"/>
<rect x="491.25" y="160.53" width="5.15" height="1.17" fill="#8c8c8c"/>
<rect x="466.5" y="135.2" width="50" height="27.1" stroke="#151515" stroke-width="0.8" fill="none"/>
<line x1="466.5" y1="161.7" x2="467.7" y2="161.7" stroke="#151515" stroke-width="0.6"/>
<text x="465" y="163.3" font-size="4.6" text-anchor="end" fill="#151515" stroke="#151515" stroke-width="0.1">0</text>
<line x1="466.5" y1="150.05" x2="467.7" y2="150.05" stroke="#151515" stroke-width="0.6"/>
<text x="465" y="151.65" font-size="4.6" text-anchor="end" fill="#151515" stroke="#151515" stroke-width="0.1">20</text>
<line x1="466.5" y1="138.4" x2="467.7" y2="138.4" stroke="#151515" stroke-width="0.6"/>
<text x="465" y="140" font-size="4.6" text-anchor="end" fill="#151515" stroke="#151515" stroke-width="0.1">40</text>
<rect x="467" y="180.88" width="5.15" height="7.02" fill="#3d4bb5"/>
<rect x="471.85" y="168.01" width="5.15" height="19.89" fill="#3d4bb5"/>
<rect x="476.7" y="165.09" width="5.15" height="22.81" fill="#3d4bb5"/>
<rect x="481.55" y="168.01" width="5.15" height="19.89" fill="#3d4bb5"/>
<rect x="486.4" y="180.3" width="5.15" height="7.6" fill="#3d4bb5"/>
<rect x="491.25" y="184.39" width="5.15" height="3.51" fill="#3d4bb5"/>
<rect x="496.1" y="185.56" width="5.15" height="2.34" fill="#3d4bb5"/>
<rect x="500.95" y="186.15" width="5.15" height="1.75" fill="#3d4bb5"/>
<rect x="505.8" y="187.31" width="5.15" height="0.58" fill="#3d4bb5"/>
<rect x="466.5" y="162.3" width="50" height="26.1" stroke="#151515" stroke-width="0.8" fill="none"/>
<line x1="466.5" y1="187.9" x2="467.7" y2="187.9" stroke="#151515" stroke-width="0.6"/>
<text x="465" y="189.5" font-size="4.6" text-anchor="end" fill="#151515" stroke="#151515" stroke-width="0.1">0</text>
<line x1="466.5" y1="176.2" x2="467.7" y2="176.2" stroke="#151515" stroke-width="0.6"/>
<text x="465" y="177.8" font-size="4.6" text-anchor="end" fill="#151515" stroke="#151515" stroke-width="0.1">20</text>
<line x1="466.5" y1="164.5" x2="467.7" y2="164.5" stroke="#151515" stroke-width="0.6"/>
<text x="465" y="166.1" font-size="4.6" text-anchor="end" fill="#151515" stroke="#151515" stroke-width="0.1">40</text>
<rect x="467" y="206.16" width="5.15" height="7.84" fill="#f2433f"/>
<rect x="471.85" y="198.32" width="5.15" height="15.68" fill="#f2433f"/>
<rect x="476.7" y="200.28" width="5.15" height="13.72" fill="#f2433f"/>
<rect x="481.55" y="193.42" width="5.15" height="20.58" fill="#f2433f"/>
<rect x="486.4" y="196.85" width="5.15" height="17.15" fill="#f2433f"/>
<rect x="491.25" y="202.24" width="5.15" height="11.76" fill="#f2433f"/>
<rect x="496.1" y="209.1" width="5.15" height="4.9" fill="#f2433f"/>
<rect x="500.95" y="210.57" width="5.15" height="3.43" fill="#f2433f"/>
<rect x="466.5" y="188.4" width="50" height="25.6" stroke="#151515" stroke-width="0.8" fill="none"/>
<line x1="466.5" y1="214" x2="467.7" y2="214" stroke="#151515" stroke-width="0.6"/>
<text x="465" y="215.6" font-size="4.6" text-anchor="end" fill="#151515" stroke="#151515" stroke-width="0.1">0</text>
<line x1="466.5" y1="204.2" x2="467.7" y2="204.2" stroke="#151515" stroke-width="0.6"/>
<text x="465" y="205.8" font-size="4.6" text-anchor="end" fill="#151515" stroke="#151515" stroke-width="0.1">10</text>
<line x1="466.5" y1="194.4" x2="467.7" y2="194.4" stroke="#151515" stroke-width="0.6"/>
<text x="465" y="196" font-size="4.6" text-anchor="end" fill="#151515" stroke="#151515" stroke-width="0.1">20</text>
<rect x="467" y="237.94" width="5.15" height="1.26" fill="#b3419f"/>
<rect x="471.85" y="226.6" width="5.15" height="12.6" fill="#b3419f"/>
<rect x="476.7" y="220.13" width="5.15" height="19.07" fill="#b3419f"/>
<rect x="481.55" y="221.56" width="5.15" height="17.64" fill="#b3419f"/>
<rect x="486.4" y="219.04" width="5.15" height="20.16" fill="#b3419f"/>
<rect x="491.25" y="224.25" width="5.15" height="14.95" fill="#b3419f"/>
<rect x="496.1" y="229.12" width="5.15" height="10.08" fill="#b3419f"/>
<rect x="500.95" y="233.32" width="5.15" height="5.88" fill="#b3419f"/>
<rect x="505.8" y="234.16" width="5.15" height="5.04" fill="#b3419f"/>
<rect x="510.65" y="237.94" width="5.15" height="1.26" fill="#b3419f"/>
<rect x="466.5" y="214" width="50" height="26.1" stroke="#151515" stroke-width="0.8" fill="none"/>
<line x1="466.5" y1="239.2" x2="467.7" y2="239.2" stroke="#151515" stroke-width="0.6"/>
<text x="465" y="240.8" font-size="4.6" text-anchor="end" fill="#151515" stroke="#151515" stroke-width="0.1">0</text>
<line x1="466.5" y1="230.8" x2="467.7" y2="230.8" stroke="#151515" stroke-width="0.6"/>
<text x="465" y="232.4" font-size="4.6" text-anchor="end" fill="#151515" stroke="#151515" stroke-width="0.1">10</text>
<line x1="466.5" y1="222.4" x2="467.7" y2="222.4" stroke="#151515" stroke-width="0.6"/>
<text x="465" y="224" font-size="4.6" text-anchor="end" fill="#151515" stroke="#151515" stroke-width="0.1">20</text>
<text x="469.43" y="244.6" font-size="4.4" text-anchor="middle" fill="#151515" stroke="#151515" stroke-width="0.1">1</text>
<text x="474.27" y="244.6" font-size="4.4" text-anchor="middle" fill="#151515" stroke="#151515" stroke-width="0.1">2</text>
<text x="479.12" y="244.6" font-size="4.4" text-anchor="middle" fill="#151515" stroke="#151515" stroke-width="0.1">3</text>
<text x="483.98" y="244.6" font-size="4.4" text-anchor="middle" fill="#151515" stroke="#151515" stroke-width="0.1">4</text>
<text x="488.82" y="244.6" font-size="4.4" text-anchor="middle" fill="#151515" stroke="#151515" stroke-width="0.1">5</text>
<text x="493.68" y="244.6" font-size="4.4" text-anchor="middle" fill="#151515" stroke="#151515" stroke-width="0.1">6</text>
<text x="498.52" y="244.6" font-size="4.4" text-anchor="middle" fill="#151515" stroke="#151515" stroke-width="0.1">7</text>
<text x="503.38" y="244.6" font-size="4.4" text-anchor="middle" fill="#151515" stroke="#151515" stroke-width="0.1">8</text>
<text x="508.23" y="244.6" font-size="4.4" text-anchor="middle" fill="#151515" stroke="#151515" stroke-width="0.1">9</text>
<text x="513.08" y="244.6" font-size="4.4" text-anchor="middle" fill="#151515" stroke="#151515" stroke-width="0.1">10</text>
<text x="492" y="249.5" font-size="5.9" text-anchor="middle" fill="#151515" stroke="#151515" stroke-width="0.1">Half-life (min)</text>
<text x="458" y="193.5" font-size="5.7" text-anchor="middle" fill="#151515" transform="rotate(-90 458 193.5)" stroke="#151515" stroke-width="0.1">Number of Cells</text>
<polyline points="55.45,336.84 56.45,336.37 57.45,335.68 58.45,334.34 59.45,333.57 60.45,333.96 61.45,334.32 62.45,334.49 63.45,335.51 64.45,337.04 65.45,338.34 66.45,339.37 67.45,340.13 68.45,340.85 69.45,342.07 70.45,343.03 71.45,343 72.45,343.1 73.45,343.88 74.45,344.23 75.45,344.07 76.45,344.38 77.45,345.19 78.45,346.36 79.45,347.86 80.45,349.05 81.45,350.08 82.45,351.68 83.45,352.94 84.45,352.88 85.45,352.57 86.45,352.83 87.45,352.82 88.45,352.38 89.45,352.13 90.45,352.14 91.45,352.71 92.45,353.71 93.45,354.29 94.45,354.79 95.45,356.33 96.45,358.31 97.45,359.94 98.45,361.71 99.45,363.86 100.45,365.58 101.45,366.76 102.45,367.76 103.45,368.6 104.45,369.82 105.45,371.5 106.45,372.58 107.45,373.22 108.45,374.7 109.45,376.51 110.45,377.54 111.45,378.35 112.45,379.56 113.45,380.79 114.45,381.96 115.45,382.87 116.45,383.3 117.45,384.04 118.45,385.33 119.45,385.91 120.45,385.79 121.45,386.29 122.45,387.16 123.45,387.47 124.45,387.57 125.45,387.84 126.45,388.23 127.45,388.96 128.45,389.54 129.45,389.42 130.45,389.52 131.45,390.28 132.45,390.43 133.45,389.8 134.45,389.61 135.45,389.85 136.45,389.87 137.45,389.8 138.45,389.72 139.45,389.78 140.45,390.5 141.45,391.28 142.45,391.28 143.45,391.52 144.45,392.64 145.45,393.42 146.45,393.45 147.45,393.63 148.45,394 149.45,394.2 150.45,394.28 151.45,393.97 152.45,393.54 153.45,393.86 154.45,394.34 155.45,393.95 156.45,393.62 157.45,394.13 158.45,394.51 159.45,394.31 160.45,394.17 161.45,394.17 162.45,394.36 163.45,394.81 164.45,394.85 165.45,394.68 166.45,395.39 167.45,396.44 168.45,396.62 169.45,396.66 170.45,397.34 171.45,397.94 172.45,398.12 173.45,398.15 174.45,398.06 175.45,398.27 176.45,398.95 177.45,399.15 178.45,398.94 179.45,399.59 180.45,400.71 181.45,401.07 182.45,401.16 183.45,401.67 184.45,402.18 185.45,402.53 186.45,402.7 187.45,402.48 188.45,402.61 189.45,403.44 190.45,403.82 191.45,403.62 192.45,404.14 193.45,405.18 194.45,405.62 195.45,405.71 196.45,405.93 197.45,406.14 198.45,406.45 199.45,406.58 200.45,406.1 201.45,405.91 202.45,406.6 203.45,406.97 204.45,406.67 205.45,406.91 206.45,407.68 207.45,408.1 208.45,408.23 209.45,408.24 210.45,408.16 211.45,408.47 212.45,408.74 213.45,408.24 214.45,407.92 215.45,408.58 216.45,409.07 217.45,408.88 218.45,409.01 219.45,409.53 220.45,409.89 221.45,410.08 222.45,409.89 223.45,409.47 224.45,409.6 225.45,409.87 226.45,409.29 227.45,408.73 228.45,409.15 229.45,409.57 230.45,409.44 231.45,409.41 232.45,409.58 233.45,409.79 234.45,410.03 235.45,409.74 236.45,409.04 237.45,409.02 238.45,409.34 239.45,408.85 240.45,408.25 241.45,408.51 242.45,408.91 243.45,408.95 244.45,408.95 245.45,408.89 246.45,408.96 247.45,409.31 248.45,409.09" fill="none" stroke="#c6b0e4" stroke-width="1.2" stroke-linejoin="round" stroke-linecap="round"/>
<polyline points="55.45,321.99 56.45,321.88 57.45,322.15 58.45,322.03 59.45,321.28 60.45,321.05 61.45,320.96 62.45,320.7 63.45,320.79 64.45,320.54 65.45,320.05 66.45,320.51 67.45,321.47 68.45,322.59 69.45,324.11 70.45,325.15 71.45,325.74 72.45,326.82 73.45,327.8 74.45,328.45 75.45,329.19 76.45,329.34 77.45,329.32 78.45,330.08 79.45,330.88 80.45,331.52 81.45,332.42 82.45,332.89 83.45,333.44 84.45,334.83 85.45,336.12 86.45,337.16 87.45,338.28 88.45,338.9 89.45,339.65 90.45,341.25 91.45,342.87 92.45,344.4 93.45,346.09 94.45,347.21 95.45,348.44 96.45,350.35 97.45,351.77 98.45,352.72 99.45,353.47 100.45,353.48 101.45,353.59 102.45,354.16 103.45,354.2 104.45,354.05 105.45,353.72 106.45,353.82 107.45,355.04 108.45,357.12 109.45,358.82 110.45,360.47 111.45,362.32 112.45,363.9 113.45,365.9 114.45,368.15 115.45,369.56 116.45,370.75 117.45,372.04 118.45,373.08 119.45,374.65 120.45,376.49 121.45,377.68 122.45,378.98 123.45,380.65 124.45,382.25 125.45,384.38 126.45,386.52 127.45,387.75 128.45,388.83 129.45,389.89 130.45,390.56 131.45,391.53 132.45,392.33 133.45,392.36 134.45,392.67 135.45,393.39 136.45,394.22 137.45,395.7 138.45,397.1 139.45,397.83 140.45,398.85 141.45,400.02 142.45,400.9 143.45,401.96 144.45,402.51 145.45,402.27 146.45,402.38 147.45,402.7 148.45,402.91 149.45,403.53 150.45,403.81 151.45,403.6 152.45,403.95 153.45,404.5 154.45,404.86 155.45,405.43 156.45,405.45 157.45,404.98 158.45,405.09 159.45,405.31 160.45,405.34 161.45,405.61 162.45,405.43 163.45,405.05 164.45,405.48 165.45,406.03 166.45,406.41 167.45,406.97 168.45,406.98 169.45,406.79 170.45,407.29 171.45,407.66 172.45,407.75 173.45,407.94 174.45,407.67 175.45,407.45 176.45,408.08 177.45,408.64 178.45,409.01 179.45,409.53 180.45,409.61 181.45,409.79 182.45,410.64 183.45,411.08 184.45,411.11 185.45,411.12 186.45,410.54 187.45,410.16 188.45,410.39 189.45,410.21 190.45,409.81 191.45,409.57 192.45,409.04 193.45,408.94 194.45,409.46 195.45,409.44 196.45,409.2 197.45,409.05 198.45,408.58 199.45,408.52 200.45,408.89 201.45,408.66 202.45,408.3 203.45,408.17 204.45,407.91 205.45,408.25 206.45,409.01 207.45,409.12 208.45,409.17 209.45,409.41 210.45,409.41 211.45,409.85 212.45,410.38 213.45,410.1 214.45,409.77 215.45,409.68 216.45,409.48 217.45,409.85 218.45,410.35 219.45,410.16 220.45,410.18 221.45,410.51 222.45,410.75 223.45,411.43 224.45,411.96 225.45,411.65 226.45,411.51 227.45,411.57 228.45,411.49 229.45,411.83 230.45,411.98 231.45,411.48 232.45,411.45 233.45,411.76 234.45,412.04 235.45,412.74 236.45,413.09 237.45,412.8 238.45,412.93 239.45,413.22 240.45,413.3 241.45,413.63 242.45,413.49 243.45,412.85 244.45,412.85 245.45,413.11 246.45,413.29 247.45,413.8 248.45,413.9" fill="none" stroke="#c86a48" stroke-width="1.2" stroke-linejoin="round" stroke-linecap="round"/>
<polyline points="69.93,319.02 70.93,319.07 71.93,319 72.93,319.67 73.93,320.8 74.93,321.15 75.93,321.38 76.93,322.36 77.93,323.05 78.93,323.1 79.93,323.17 80.93,323.41 81.93,324.09 82.93,325.32 83.93,326.02 84.93,326.49 85.93,327.83 86.93,329.11 87.93,329.51 88.93,330 89.93,330.98 90.93,332.18 91.93,333.69 92.93,334.89 93.93,335.73 94.93,337.25 95.93,338.88 96.93,339.46 97.93,339.96 98.93,341.2 99.93,342.53 100.93,343.8 101.93,344.97 102.93,345.77 103.93,346.8 104.93,347.95 105.93,348.06 106.93,347.9 107.93,348.78 108.93,350.01 109.93,351.05 110.93,352.35 111.93,353.75 112.93,355.28 113.93,357 114.93,357.92 115.93,358.35 116.93,359.69 117.93,361.42 118.93,362.54 119.93,363.76 120.93,365.34 121.93,366.83 122.93,368.25 123.93,369.18 124.93,369.64 125.93,370.91 126.93,372.75 127.93,373.89 128.93,374.94 129.93,376.6 130.93,378.09 131.93,379.15 132.93,379.9 133.93,380.27 134.93,381.14 135.93,382.63 136.93,383.51 137.93,384.08 138.93,385.43 139.93,386.74 140.93,387.29 141.93,387.63 142.93,387.92 143.93,388.46 144.93,389.6 145.93,390.47 146.93,391.01 147.93,392.26 148.93,393.53 149.93,393.7 150.93,393.51 151.93,393.55 152.93,393.69 153.93,394.13 154.93,394.46 155.93,394.39 156.93,394.94 157.93,395.9 158.93,395.85 159.93,395.33 160.93,395.41 161.93,395.65 162.93,395.87 163.93,396.19 164.93,396.32 165.93,396.82 166.93,397.77 167.93,397.83 168.93,397.21 169.93,397.29 170.93,397.68 171.93,397.71 172.93,397.86 173.93,398.13 174.93,398.53 175.93,399.25 176.93,399.3 177.93,398.53 178.93,398.41 179.93,398.83 180.93,398.69 181.93,398.54 182.93,398.88 183.93,399.3 184.93,399.79 185.93,399.87 186.93,399.22 187.93,399.03 188.93,399.58 189.93,399.57 190.93,399.36 191.93,399.9 192.93,400.61 193.93,401.04 194.93,401.2 195.93,400.85 196.93,400.71 197.93,401.3 198.93,401.47 199.93,401.2 200.93,401.78 201.93,402.72 202.93,403.06 203.93,403.09 204.93,402.93 205.93,402.8 206.93,403.22 207.93,403.44 208.93,403.12 209.93,403.56 210.93,404.6 211.93,404.86 212.93,404.64 213.93,404.58 214.93,404.51 215.93,404.69 216.93,404.88 217.93,404.63 218.93,404.93 219.93,405.99 220.93,406.29 221.93,405.86 222.93,405.81 223.93,405.91 224.93,405.88 225.93,405.94 226.93,405.83 227.93,406.04 228.93,407 229.93,407.36 230.93,406.79 231.93,406.66 232.93,406.9 233.93,406.75 234.93,406.59 235.93,406.61 236.93,406.83 237.93,407.59 238.93,408 239.93,407.42 240.93,407.17 241.93,407.53 242.93,407.36 243.93,406.98 244.93,407.1 245.93,407.45 246.93,408.03 247.93,408.42" fill="none" stroke="#a86a9a" stroke-width="1.2" stroke-linejoin="round" stroke-linecap="round"/>
<polyline points="55.45,321.99 56.45,321.12 57.45,320.63 58.45,319.8 59.45,319.46 60.45,319.21 61.45,318.47 62.45,318.12 63.45,317.65 64.45,317.25 65.45,317.66 66.45,317.77 67.45,318.05 68.45,318.36 69.45,318 70.45,318.07 71.45,318.21 72.45,318.43 73.45,319.38 74.45,320.08 75.45,320.7 76.45,321.61 77.45,322.04 78.45,322.94 79.45,324.1 80.45,324.85 81.45,325.9 82.45,326.41 83.45,326.56 84.45,327.2 85.45,327.67 86.45,328.66 87.45,330.14 88.45,331.13 89.45,332.34 90.45,333.24 91.45,333.72 92.45,334.74 93.45,335.5 94.45,336.24 95.45,337.21 96.45,337.45 97.45,337.88 98.45,338.54 99.45,339.11 100.45,340.57 101.45,342.04 102.45,343.28 103.45,344.75 104.45,345.5 105.45,346.28 106.45,347.34 107.45,347.96 108.45,348.95 109.45,349.66 110.45,349.79 111.45,350.31 112.45,350.56 113.45,351.06 114.45,352.18 115.45,352.85 116.45,353.66 117.45,354.31 118.45,354.38 119.45,354.97 120.45,355.61 121.45,356.43 122.45,358.03 123.45,359.26 124.45,360.73 125.45,362.62 126.45,364.23 127.45,366.43 128.45,368.6 129.45,370.31 130.45,372.29 131.45,373.57 132.45,374.61 133.45,376 134.45,377.03 135.45,378.48 136.45,379.95 137.45,380.72 138.45,381.63 139.45,382.1 140.45,382.34 141.45,383.15 142.45,383.6 143.45,384.14 144.45,384.7 145.45,384.49 146.45,384.57 147.45,384.74 148.45,384.9 149.45,385.84 150.45,386.5 151.45,386.98 152.45,387.59 153.45,387.53 154.45,387.77 155.45,388.22 156.45,388.33 157.45,388.87 158.45,389.02 159.45,388.83 160.45,389.12 161.45,389.18 162.45,389.7 163.45,390.69 164.45,391.17 165.45,391.8 166.45,392.07 167.45,391.84 168.45,392.14 169.45,392.26 170.45,392.51 171.45,393.15 172.45,393.18 173.45,393.4 174.45,393.74 175.45,393.86 176.45,394.68 177.45,395.38 178.45,395.75 179.45,396.27 180.45,396.03 181.45,395.78 182.45,395.93 183.45,395.83 184.45,396.34 185.45,396.84 186.45,396.88 187.45,397.3 188.45,397.36 189.45,397.52 190.45,398.22 191.45,398.45 192.45,398.78 193.45,398.94 194.45,398.42 195.45,398.39 196.45,398.4 197.45,398.53 198.45,399.38 199.45,399.78 200.45,400.15 201.45,400.61 202.45,400.52 203.45,400.91 204.45,401.38 205.45,401.54 206.45,402.05 207.45,402 208.45,401.78 209.45,402.06 210.45,402.13 211.45,402.79 212.45,403.71 213.45,404.08 214.45,404.65 215.45,404.75 216.45,404.55 217.45,404.89 218.45,404.94 219.45,405.16 220.45,405.54 221.45,405.28 222.45,405.33 223.45,405.47 224.45,405.53 225.45,406.32 226.45,406.81 227.45,407.03 228.45,407.32 229.45,406.86 230.45,406.62 231.45,406.69 232.45,406.55 233.45,407 234.45,407.22 235.45,407.11 236.45,407.44 237.45,407.44 238.45,407.75 239.45,408.52 240.45,408.74 241.45,409.11 242.45,409.13 243.45,408.64 244.45,408.74 245.45,408.78 246.45,409.06 247.45,409.89 248.45,410.16" fill="none" stroke="#8a4f7a" stroke-width="1.2" stroke-linejoin="round" stroke-linecap="round"/>
<polyline points="63.54,320.38 64.54,319.97 65.54,319.29 66.54,318.83 67.54,318.03 68.54,317.77 69.54,318.03 70.54,317.96 71.54,318.16 72.54,318.19 73.54,317.67 74.54,317.65 75.54,317.65 76.54,317.52 77.54,317.89 78.54,317.8 79.54,317.47 80.54,317.6 81.54,317.58 82.54,317.97 83.54,318.97 84.54,319.54 85.54,320.13 86.54,320.66 87.54,320.57 88.54,320.92 89.54,321.47 90.54,321.78 91.54,322.62 92.54,323.23 93.54,323.54 94.54,324.47 95.54,325.37 96.54,326.46 97.54,328.11 98.54,329.17 99.54,329.93 100.54,330.67 101.54,330.75 102.54,331.07 103.54,331.76 104.54,332.07 105.54,332.72 106.54,333.23 107.54,333.26 108.54,333.81 109.54,334.41 110.54,334.98 111.54,336.05 112.54,336.68 113.54,336.93 114.54,337.5 115.54,337.74 116.54,338.4 117.54,339.81 118.54,340.93 119.54,342.38 120.54,343.85 121.54,344.79 122.54,346.16 123.54,347.67 124.54,348.9 125.54,350.51 126.54,351.64 127.54,352.19 128.54,353.06 129.54,353.64 130.54,354.46 131.54,355.97 132.54,357.1 133.54,358.2 134.54,359.34 135.54,359.78 136.54,360.48 137.54,361.4 138.54,361.86 139.54,362.53 140.54,362.72 141.54,361.64 142.54,360.14 143.54,359.27 144.54,359.32 145.54,360.49 146.54,361.47 147.54,362.3 148.54,363.31 149.54,363.75 150.54,364.4 151.54,365.51 152.54,366.24 153.54,367.22 154.54,368.17 155.54,368.54 156.54,369.36 157.54,370.31 158.54,371.15 159.54,372.49 160.54,373.44 161.54,373.83 162.54,374.38 163.54,374.47 164.54,374.61 165.54,375.37 166.54,375.79 167.54,376.31 168.54,376.96 169.54,377 170.54,377.39 171.54,378.07 172.54,378.41 173.54,379.12 174.54,379.42 175.54,379.02 176.54,378.83 177.54,378.41 178.54,378.02 179.54,378.39 180.54,378.54 181.54,378.64 182.54,379.01 183.54,378.85 184.54,378.98 185.54,379.55 186.54,379.83 187.54,380.36 188.54,380.78 189.54,380.54 190.54,380.65 191.54,380.87 192.54,381.1 193.54,382.11 194.54,382.96 195.54,383.5 196.54,384.27 197.54,384.51 198.54,384.77 199.54,385.55 200.54,385.93 201.54,386.44 202.54,386.99 203.54,386.9 204.54,387.17 205.54,387.77 206.54,388.27 207.54,389.4 208.54,390.39 209.54,390.8 210.54,391.38 211.54,391.53 212.54,391.56 213.54,392.19 214.54,392.51 215.54,392.78 216.54,393.26 217.54,393.18 218.54,393.36 219.54,394.02 220.54,394.46 221.54,395.31 222.54,396.05 223.54,396.02 224.54,396.15 225.54,396.08 226.54,395.81 227.54,396.23 228.54,396.46 229.54,396.49 230.54,396.83 231.54,396.7 232.54,396.69 233.54,397.26 234.54,397.53 235.54,398 236.54,398.48 237.54,398.19 238.54,398.13 239.54,398.21 240.54,398.23 241.54,399.06 242.54,399.93 243.54,400.51 244.54,401.45 245.54,402.03 246.54,402.58 247.54,403.73" fill="none" stroke="#9a7a5a" stroke-width="1.2" stroke-linejoin="round" stroke-linecap="round"/>
<polyline points="59.09,312.92 60.09,313.43 61.09,313.53 62.09,313.79 63.09,314.78 64.09,315.56 65.09,316.5 66.09,317.44 67.09,317.58 68.09,317.9 69.09,318.33 70.09,318.51 71.09,319.22 72.09,319.69 73.09,319.68 74.09,320.03 75.09,320.16 76.09,320.5 77.09,321.51 78.09,322.12 79.09,322.62 80.09,323.08 81.09,322.83 82.09,322.9 83.09,323.27 84.09,323.37 85.09,323.89 86.09,324.18 87.09,324.01 88.09,324.38 89.09,324.72 90.09,325.18 91.09,326.19 92.09,326.61 93.09,326.75 94.09,326.98 95.09,326.71 96.09,326.89 97.09,327.5 98.09,327.75 99.09,328.39 100.09,329.02 101.09,329.5 102.09,331.01 103.09,332.92 104.09,334.64 105.09,336.33 106.09,337.04 107.09,337.28 108.09,337.76 109.09,337.88 110.09,338.4 111.09,339.3 112.09,339.67 113.09,340.26 114.09,340.89 115.09,341.27 116.09,342.34 117.09,343.43 118.09,344.2 119.09,345.21 120.09,345.64 121.09,345.92 122.09,346.86 123.09,347.75 124.09,349.07 125.09,350.77 126.09,351.89 127.09,353.2 128.09,354.66 129.09,355.84 130.09,357.64 131.09,359.35 132.09,360.48 133.09,361.73 134.09,362.5 135.09,363.14 136.09,364.45 137.09,365.54 138.09,366.71 139.09,368.07 140.09,368.77 141.09,369.68 142.09,370.94 143.09,371.94 144.09,373.4 145.09,374.68 146.09,375.27 147.09,376.07 148.09,376.66 149.09,377.23 150.09,378.51 151.09,379.54 152.09,380.46 153.09,381.57 154.09,382.08 155.09,382.8 156.09,383.87 157.09,384.48 158.09,385.24 159.09,385.69 160.09,385.44 161.09,385.58 162.09,385.77 163.09,386.02 164.09,386.92 165.09,387.45 166.09,387.69 167.09,388.2 168.09,388.27 169.09,388.61 170.09,389.36 171.09,389.54 172.09,389.77 173.09,389.83 174.09,389.37 175.09,389.52 176.09,389.92 177.09,390.25 178.09,391.08 179.09,391.45 180.09,391.45 181.09,391.85 182.09,391.96 183.09,392.25 184.09,392.89 185.09,392.84 186.09,392.78 187.09,392.79 188.09,392.49 189.09,392.93 190.09,393.66 191.09,394.11 192.09,394.87 193.09,395.18 194.09,395.15 195.09,395.67 196.09,395.98 197.09,396.33 198.09,396.94 199.09,396.84 200.09,396.78 201.09,397.04 202.09,397.14 203.09,397.9 204.09,398.85 205.09,399.26 206.09,399.91 207.09,400.21 208.09,400.25 209.09,400.92 210.09,401.35 211.09,401.61 212.09,402.04 213.09,401.84 214.09,401.7 215.09,402.11 216.09,402.28 217.09,402.89 218.09,403.45 219.09,403.26 220.09,403.19 221.09,402.96 222.09,402.48 223.09,402.64 224.09,402.51 225.09,402.07 226.09,401.9 227.09,401.28 228.09,400.93 229.09,401.25 230.09,401.31 231.09,401.57 232.09,401.73 233.09,401.13 234.09,400.81 235.09,400.57 236.09,400.16 237.09,400.3 238.09,400.13 239.09,399.58 240.09,399.44 241.09,399.08 242.09,399 243.09,399.56 244.09,399.65 245.09,399.68 246.09,399.61 247.09,398.87 248.09,398.53" fill="none" stroke="#3aa0a0" stroke-width="1.2" stroke-linejoin="round" stroke-linecap="round"/>
<polyline points="88.12,312.69 89.12,313.75 90.12,315.02 91.12,316 92.12,317.02 93.12,318.33 94.12,319.18 95.12,319.59 96.12,320.44 97.12,321.66 98.12,322.89 99.12,324.45 100.12,325.91 101.12,326.48 102.12,326.77 103.12,327.58 104.12,328.62 105.12,329.83 106.12,331.42 107.12,332.66 108.12,333.14 109.12,333.77 110.12,334.85 111.12,335.94 112.12,337.4 113.12,339.32 114.12,340.95 115.12,342.37 116.12,344.21 117.12,345.89 118.12,346.92 119.12,347.91 120.12,348.95 121.12,349.75 122.12,350.93 123.12,352.63 124.12,353.82 125.12,354.3 126.12,354.56 127.12,354.52 128.12,354.42 129.12,355.12 130.12,356.3 131.12,357.04 132.12,357.66 133.12,358.63 134.12,359.7 135.12,361.11 136.12,363.25 137.12,365.26 138.12,366.62 139.12,367.91 140.12,369.09 141.12,369.78 142.12,370.46 143.12,371.24 144.12,371.51 145.12,371.72 146.12,372.62 147.12,373.71 148.12,374.54 149.12,375.4 150.12,375.93 151.12,375.93 152.12,376.36 153.12,377.66 154.12,379.06 155.12,380.33 156.12,381.53 157.12,382.03 158.12,382 159.12,382.46 160.12,383.33 161.12,384 162.12,384.77 163.12,385.64 164.12,386.01 165.12,386.34 166.12,387.06 167.12,387.53 168.12,387.57 169.12,387.9 170.12,388.45 171.12,388.87 172.12,389.64 173.12,390.45 174.12,390.43 175.12,389.97 176.12,389.87 177.12,389.96 178.12,390.28 179.12,391.15 180.12,391.77 181.12,391.5 182.12,391.11 183.12,391.03 184.12,390.94 185.12,391.2 186.12,391.91 187.12,392.23 188.12,392.07 189.12,392.22 190.12,392.41 191.12,392.27 192.12,392.3 193.12,392.49 194.12,392.36 195.12,392.52 196.12,393.32 197.12,393.89 198.12,393.99 199.12,394.09 200.12,394.05 201.12,393.97 202.12,394.69 203.12,396.05 204.12,396.97 205.12,397.5 206.12,397.91 207.12,397.92 208.12,397.97 209.12,398.81 210.12,399.78 211.12,400.25 212.12,400.7 213.12,401.07 214.12,401.02 215.12,401.07 216.12,401.49 217.12,401.52 218.12,401.36 219.12,401.68 220.12,402.14 221.12,402.36 222.12,402.71 223.12,402.82 224.12,402.23 225.12,401.79 226.12,402.12 227.12,402.62 228.12,403.12 229.12,403.71 230.12,403.65 231.12,402.94 232.12,402.65 233.12,402.89 234.12,403.12 235.12,403.53 236.12,404.03 237.12,403.91 238.12,403.58 239.12,403.74 240.12,403.89 241.12,403.75 242.12,403.9 243.12,404.18 244.12,404.21 245.12,404.56 246.12,405.2 247.12,405.21 248.12,404.79" fill="none" stroke="#50c8e8" stroke-width="1.2" stroke-linejoin="round" stroke-linecap="round"/>
<polyline points="83.47,311.81 84.47,312.1 85.47,312.56 86.47,313.47 87.47,314.42 88.47,315.61 89.47,316.4 90.47,316.59 91.47,317.47 92.47,318.64 93.47,319.07 94.47,319.42 95.47,319.84 96.47,320.32 97.47,321.4 98.47,322.21 99.47,322.36 100.47,323.17 101.47,324.52 102.47,325.54 103.47,326.53 104.47,327.29 105.47,328 106.47,329.49 107.47,330.86 108.47,331.49 109.47,332.5 110.47,333.98 111.47,335.5 112.47,337.26 113.47,338.64 114.47,339.78 115.47,341.78 116.47,343.81 117.47,345.02 118.47,346.19 119.47,347.39 120.47,348.59 121.47,350.14 122.47,351.1 123.47,351.5 124.47,352.71 125.47,354.22 126.47,355.33 127.47,356.49 128.47,357.5 129.47,358.62 130.47,360.42 131.47,361.72 132.47,362.22 133.47,363.16 134.47,364.3 135.47,365.22 136.47,366.16 137.47,366.6 138.47,367.06 139.47,368.48 140.47,369.75 141.47,370.37 142.47,371.23 143.47,372.21 144.47,373.33 145.47,374.71 146.47,375.35 147.47,375.66 148.47,376.79 149.47,377.87 150.47,378.4 151.47,379 152.47,379.5 153.47,380.33 154.47,381.78 155.47,382.6 156.47,382.98 157.47,384.04 158.47,385.2 159.47,386 160.47,386.7 161.47,386.79 162.47,387 163.47,387.92 164.47,388.3 165.47,388.11 166.47,388.4 167.47,388.89 168.47,389.59 169.47,390.49 170.47,390.73 171.47,391.09 172.47,392.37 173.47,393.39 174.47,393.92 175.47,394.58 176.47,395.13 177.47,395.97 178.47,397.08 179.47,397.31 180.47,397.3 181.47,398.08 182.47,398.84 183.47,399.34 184.47,399.82 185.47,399.9 186.47,400.36 187.47,401.35 188.47,401.52 189.47,401.24 190.47,401.46 191.47,401.71 192.47,402.06 193.47,402.45 194.47,402.28 195.47,402.6 196.47,403.83 197.47,404.66 198.47,405.16 199.47,405.93 200.47,406.64 201.47,407.66 202.47,408.68 203.47,408.72 204.47,408.78 205.47,409.52 206.47,409.97 207.47,410.19 208.47,410.43 209.47,410.47 210.47,411.13 211.47,412.17 212.47,412.33 213.47,412.33 214.47,412.86 215.47,413.24 216.47,413.51 217.47,413.47 218.47,412.79 219.47,412.56 220.47,412.89 221.47,412.52 222.47,411.95 223.47,411.8 224.47,411.73 225.47,412.08 226.47,412.36 227.47,411.87 228.47,411.78 229.47,412.39 230.47,412.5 231.47,412.44 232.47,412.38 233.47,412.25 234.47,412.79 235.47,413.49 236.47,413.38 237.47,413.54 238.47,414.4 239.47,415.12 240.47,415.81 241.47,416.2 242.47,416.13 243.47,416.55 244.47,417.01 245.47,416.34 246.47,415.31 247.47,414.36 248.47,413.15" fill="none" stroke="#2c3658" stroke-width="1.2" stroke-linejoin="round" stroke-linecap="round"/>
<polyline points="76.9,340.38 77.9,340.22 78.9,339.72 79.9,339.97 80.9,340.21 81.9,339.48 82.9,339.06 83.9,339.02 84.9,338.95 85.9,338.97 86.9,338.22 87.9,337.47 88.9,336.92 89.9,333.71 90.9,327.88 91.9,324.54 92.9,322.85 93.9,322.08 94.9,320.95 95.9,319.41 96.9,318.93 97.9,318.69 98.9,318.19 99.9,317.86 100.9,317.39 101.9,317.66 102.9,318.23 103.9,317.82 104.9,317.79 105.9,318.42 106.9,318.9 107.9,319.53 108.9,319.73 109.9,320.09 110.9,321.48 111.9,322.34 112.9,322.72 113.9,323.51 114.9,324.12 115.9,324.66 116.9,324.36 117.9,322.75 118.9,321.77 119.9,321.42 120.9,320.83 121.9,320.66 122.9,320.78 123.9,321.46 124.9,322.67 125.9,323.1 126.9,323.68 127.9,325.13 128.9,326.28 129.9,327.28 130.9,327.94 131.9,328.43 132.9,329.68 133.9,330.43 134.9,330.33 135.9,330.78 136.9,331.38 137.9,332.06 138.9,332.66 139.9,332.63 140.9,333.26 141.9,334.32 142.9,334.44 143.9,334.41 144.9,334.39 145.9,334.23 146.9,334.1 147.9,332.91 148.9,331.49 149.9,331.12 150.9,330.74 151.9,330.36 152.9,330.34 153.9,330.51 154.9,331.79 155.9,332.96 156.9,333.3 157.9,334.29 158.9,335.54 159.9,336.58 160.9,337.56 161.9,338.02 162.9,339 163.9,340.71 164.9,341.58 165.9,342.38 166.9,343.61 167.9,344.82 168.9,346.21 169.9,346.88 170.9,347.12 171.9,348.23 172.9,349.09 173.9,349.3 174.9,349.71 175.9,350.1 176.9,351.16 177.9,352.34 178.9,352.76 179.9,353.86 180.9,355.65 181.9,357.25 182.9,358.86 183.9,360.28 184.9,361.96 185.9,364.37 186.9,365.98 187.9,367.22 188.9,369.14 189.9,371.03 190.9,373.02 191.9,374.58 192.9,375.7 193.9,377.5 194.9,379.13 195.9,379.74 196.9,380.23 197.9,380.59 198.9,380.98 199.9,381.25 200.9,380.48 201.9,379.99 202.9,380.29 203.9,380.13 204.9,379.97 205.9,379.86 206.9,379.89 207.9,380.54 208.9,380.5 209.9,379.79 210.9,379.8 211.9,379.77 212.9,379.54 213.9,379.16 214.9,378.47 215.9,378.68 216.9,379.27 217.9,379.16 218.9,379.42 219.9,380.16 220.9,381.02 221.9,382.06 222.9,382.33 223.9,382.66 224.9,383.82 225.9,384.35 226.9,384.45 227.9,384.67 228.9,384.89 229.9,385.65 230.9,386.02 231.9,385.7 232.9,386.23 233.9,386.97 234.9,387.25 235.9,387.43 236.9,387.2 237.9,387.4 238.9,387.89 239.9,387.29 240.9,386.72 241.9,386.73 242.9,386.61 243.9,386.57 244.9,386.05 245.9,385.51 246.9,385.97 247.9,386" fill="none" stroke="#e8b070" stroke-width="1.2" stroke-linejoin="round" stroke-linecap="round"/>
<polyline points="73.8,314.09 74.8,314.53 75.8,315.67 76.8,316.18 77.8,316.47 78.8,317.17 79.8,317.79 80.8,318.52 81.8,319.02 82.8,318.6 83.8,318.36 84.8,318.8 85.8,318.85 86.8,318.65 87.8,318.6 88.8,318.46 89.8,318.84 90.8,319.48 91.8,319.2 92.8,318.79 93.8,319 94.8,319.13 95.8,319.24 96.8,319.37 97.8,319.16 98.8,319.63 99.8,320.95 100.8,321.78 101.8,322.39 102.8,323.4 103.8,324.41 104.8,325.69 105.8,326.96 106.8,327.39 107.8,327.98 108.8,329.36 109.8,330.51 110.8,331.46 111.8,332.44 112.8,333.14 113.8,334.29 114.8,335.75 115.8,336.29 116.8,336.57 117.8,337.46 118.8,338.4 119.8,339.5 120.8,340.64 121.8,341.27 122.8,342.35 123.8,344.15 124.8,345.31 125.8,345.94 126.8,346.59 127.8,347 128.8,347.67 129.8,348.45 130.8,348.45 131.8,348.62 132.8,349.75 133.8,350.87 134.8,351.92 135.8,353.02 136.8,353.85 137.8,355.19 138.8,357.03 139.8,358.12 140.8,358.95 141.8,360.37 142.8,361.91 143.8,363.65 144.8,365.39 145.8,366.4 146.8,367.65 147.8,369.6 148.8,370.99 149.8,371.85 150.8,372.71 151.8,373.37 152.8,374.43 153.8,375.77 154.8,376.27 155.8,376.71 156.8,377.87 157.8,378.89 158.8,379.62 159.8,380.13 160.8,380.03 161.8,380.23 162.8,381.01 163.8,381.12 164.8,380.94 165.8,381.31 166.8,381.81 167.8,382.62 168.8,383.46 169.8,383.46 170.8,383.51 171.8,384.24 172.8,384.54 173.8,384.42 174.8,384.37 175.8,384.21 176.8,384.62 177.8,385.56 178.8,385.79 179.8,385.87 180.8,386.61 181.8,387.27 182.8,387.77 183.8,388.09 184.8,387.8 185.8,387.87 186.8,388.72 187.8,389.11 188.8,389.21 189.8,389.73 190.8,390.31 191.8,391.17 192.8,392.07 193.8,392.04 194.8,391.9 195.8,392.47 196.8,392.79 197.8,392.84 198.8,392.97 199.8,392.96 200.8,393.51 201.8,394.65 202.8,395.03 203.8,395.05 204.8,395.57 205.8,396 206.8,396.38 207.8,396.7 208.8,396.4 209.8,396.49 210.8,397.51 211.8,398.22 212.8,398.62 213.8,399.27 214.8,399.87 215.8,400.72 216.8,401.69 217.8,401.72 218.8,401.59 219.8,402.22 220.8,402.82 221.8,403.27 222.8,403.81 223.8,404.06 224.8,404.74 225.8,406.02 226.8,406.47 227.8,406.38 228.8,406.65 229.8,406.82 230.8,407.09 231.8,407.41 232.8,407.07 233.8,407.04 234.8,407.93 235.8,408.54 236.8,408.72 237.8,408.96 238.8,408.95 239.8,409.21 240.8,409.71 241.8,409.35 242.8,408.8 243.8,409.07 244.8,409.44 245.8,409.78 246.8,410.16 247.8,410.09" fill="none" stroke="#6a48b8" stroke-width="1.1" stroke-linejoin="round" stroke-linecap="round"/>
<polyline points="70.12,309.9 71.12,311.83 72.12,313.84 73.12,315.83 74.12,318.08 75.12,319.67 76.12,320.89 77.12,322.43 78.12,323.56 79.12,324.32 80.12,324.94 81.12,324.58 82.12,323.65 83.12,322.9 84.12,321.88 85.12,321.08 86.12,320.94 87.12,320.51 88.12,320.01 89.12,319.81 90.12,319.12 91.12,318.51 92.12,318.46 93.12,318.1 94.12,317.67 95.12,317.5 96.12,316.94 97.12,316.67 98.12,317.26 99.12,317.92 100.12,318.87 101.12,320.17 102.12,320.88 103.12,321.49 104.12,322.49 105.12,323.22 106.12,324.28 107.12,325.83 108.12,326.92 109.12,327.96 110.12,329.29 111.12,330.31 112.12,331.74 113.12,333.72 114.12,335.24 115.12,336.61 116.12,337.97 117.12,338.68 118.12,339.54 119.12,340.87 120.12,341.86 121.12,342.94 122.12,344.1 123.12,344.62 124.12,345.26 125.12,346.26 126.12,346.7 127.12,347.05 128.12,347.29 129.12,346.82 130.12,346.69 131.12,347.25 132.12,347.95 133.12,349.32 134.12,351.18 135.12,352.52 136.12,353.87 137.12,355.42 138.12,356.71 139.12,358.53 140.12,360.74 141.12,362.42 142.12,364.03 143.12,365.38 144.12,365.95 145.12,366.73 146.12,367.82 147.12,368.63 148.12,369.75 149.12,370.91 150.12,371.55 151.12,372.55 152.12,373.89 153.12,374.99 154.12,376.49 155.12,378.02 156.12,378.85 157.12,379.72 158.12,380.59 159.12,381.13 160.12,382.19 161.12,383.43 162.12,384.11 163.12,384.82 164.12,385.26 165.12,385.09 166.12,385.3 167.12,385.64 168.12,385.49 169.12,385.51 170.12,385.32 171.12,384.64 172.12,384.51 173.12,384.79 174.12,385.04 175.12,385.83 176.12,386.58 177.12,386.8 178.12,387.34 179.12,387.94 180.12,388.32 181.12,389.14 182.12,389.78 183.12,389.71 184.12,389.69 185.12,389.5 186.12,389.1 187.12,389.39 188.12,389.83 189.12,389.94 190.12,390.31 191.12,390.43 192.12,390.16 193.12,390.44 194.12,390.79 195.12,390.8 196.12,391.01 197.12,390.78 198.12,390.01 199.12,389.75 200.12,389.66 201.12,389.64 202.12,390.31 203.12,390.86 204.12,391.01 205.12,391.65 206.12,392.31 207.12,393.02 208.12,394.56 209.12,396.09 210.12,397.22 211.12,398.59 212.12,399.68 213.12,400.55 214.12,402.07 215.12,403.54 216.12,404.56 217.12,405.79 218.12,406.4 219.12,406.61 220.12,407.25 221.12,407.77 222.12,408.1 223.12,408.77 224.12,408.92 225.12,408.72 226.12,408.98 227.12,409.23 228.12,409.62 229.12,410.6 230.12,411.22 231.12,411.39 232.12,411.75 233.12,411.72 234.12,411.63 235.12,412.1 236.12,412.26 237.12,412.14 238.12,412.21 239.12,411.89 240.12,411.55 241.12,411.96 242.12,412.26 243.12,412.51 244.12,412.96 245.12,412.76 246.12,412.26 247.12,412.19 248.12,411.92" fill="none" stroke="#7b3ed8" stroke-width="1.8" stroke-linejoin="round" stroke-linecap="round"/>
<polyline points="55.45,327.41 56.45,326.87 57.45,326.24 58.45,325.41 59.45,324.87 60.45,323.89 61.45,322.97 62.45,322.73 63.45,322.27 64.45,321.79 65.45,321.33 66.45,320.08 67.45,318.87 68.45,318.14 69.45,317.27 70.45,316.88 71.45,316.73 72.45,316.05 73.45,315.73 74.45,315.73 75.45,315.62 76.45,316.16 77.45,316.68 78.45,316.54 79.45,316.52 80.45,316.3 81.45,315.87 82.45,316.14 83.45,316.32 84.45,316.16 85.45,316.27 86.45,316 87.45,315.75 88.45,316.26 89.45,316.63 90.45,316.96 91.45,317.44 92.45,317.23 93.45,317.02 94.45,317.38 95.45,317.6 96.45,318.22 97.45,319.17 98.45,319.58 99.45,320.26 100.45,321.3 101.45,322.14 102.45,323.42 103.45,324.58 104.45,324.92 105.45,325.29 106.45,325.47 107.45,325.32 108.45,325.77 109.45,326.12 110.45,325.98 111.45,326.04 112.45,325.79 113.45,325.47 114.45,325.92 115.45,326.24 116.45,326.36 117.45,326.57 118.45,326.07 119.45,325.43 120.45,325.28 121.45,324.89 122.45,324.63 123.45,324.58 124.45,323.94 125.45,323.53 126.45,323.69 127.45,323.93 128.45,324.93 129.45,326.23 130.45,326.97 131.45,327.91 132.45,328.85 133.45,329.48 134.45,330.59 135.45,331.52 136.45,331.78 137.45,332.16 138.45,332.27 139.45,332.25 140.45,333.02 141.45,333.81 142.45,334.43 143.45,335.33 144.45,335.72 145.45,336 146.45,336.89 147.45,337.55 148.45,338.21 149.45,339.03 150.45,339.11 151.45,339.18 152.45,339.71 153.45,340.08 154.45,340.89 155.45,341.94 156.45,342.35 157.45,342.87 158.45,343.55 159.45,343.98 160.45,344.99 161.45,346.06 162.45,346.55 163.45,347.26 164.45,347.89 165.45,348.47 166.45,349.94 167.45,351.57 168.45,353 169.45,354.73 170.45,356 171.45,357.05 172.45,358.7 173.45,360.14 174.45,361.45 175.45,362.9 176.45,363.61 177.45,364.21 178.45,365.32 179.45,366.28 180.45,367.62 181.45,369.28 182.45,370.35 183.45,371.58 184.45,373.18 185.45,374.67 186.45,376.77 187.45,378.96 188.45,380.41 189.45,381.81 190.45,382.91 191.45,383.56 192.45,384.73 193.45,385.79 194.45,386.3 195.45,387.01 196.45,387.35 197.45,387.48 198.45,388.35 199.45,389.17 200.45,389.87 201.45,390.86 202.45,391.27 203.45,391.59 204.45,392.66 205.45,393.66 206.45,394.96 207.45,396.67 208.45,397.81 209.45,399.05 210.45,400.71 211.45,402.2 212.45,404.15 213.45,406.26 214.45,407.56 215.45,408.88 216.45,410.23 217.45,411.33 218.45,413.04 219.45,414.75 220.45,415.8 221.45,416.86 222.45,417.5 223.45,417.78 224.45,418.68 225.45,419.57 226.45,420.15 227.45,420.92 228.45,421.02 229.45,420.8 230.45,421.06 231.45,421.13 232.45,421.2 233.45,421.56 234.45,421.18 235.45,420.79 236.45,420.78 237.45,420.62 238.45,420.77 239.45,421.14 240.45,420.6 241.45,419.88 242.45,419.06 243.45,417.66 244.45,416.71 245.45,415.79 246.45,414.18 247.45,412.71 248.45,411.06" fill="none" stroke="#38d038" stroke-width="1.8" stroke-linejoin="round" stroke-linecap="round"/>
<polyline points="70.12,310.34 71.12,311.05 72.12,312.67 73.12,314.7 74.12,316.14 75.12,317.25 76.12,318.45 77.12,319.44 78.12,320.37 79.12,321.3 80.12,321.7 81.12,321.31 82.12,321 83.12,321.22 84.12,321.04 85.12,320.52 86.12,319.95 87.12,319.07 88.12,318.09 89.12,317.59 90.12,317.05 91.12,315.78 92.12,314.49 93.12,313.88 94.12,313.76 95.12,313.85 96.12,314.51 97.12,315.21 98.12,315.78 99.12,317.07 100.12,318.92 101.12,320.22 102.12,321.01 103.12,321.85 104.12,322.57 105.12,323.16 106.12,323.97 107.12,324.23 108.12,323.69 109.12,323.13 110.12,323.05 111.12,322.78 112.12,322 113.12,321.14 114.12,320.19 115.12,319.25 116.12,319.08 117.12,319.7 118.12,320.27 119.12,321.1 120.12,322.95 121.12,325.42 122.12,327.95 123.12,330.55 124.12,332.68 125.12,333.94 126.12,334.94 127.12,336.07 128.12,336.6 129.12,336.41 130.12,336.3 131.12,336.37 132.12,336.5 133.12,337.06 134.12,337.79 135.12,338.03 136.12,338.34 137.12,339.44 138.12,340.78 139.12,341.83 140.12,342.95 141.12,344.17 142.12,345.31 143.12,346.92 144.12,348.92 145.12,350.39 146.12,351.37 147.12,352.66 148.12,354.07 149.12,355.01 150.12,355.6 151.12,355.61 152.12,354.61 153.12,353.36 154.12,352.66 155.12,351.89 156.12,350.63 157.12,349.6 158.12,349.21 159.12,349.37 160.12,350.42 161.12,352.2 162.12,353.66 163.12,354.75 164.12,356.21 165.12,357.64 166.12,358.37 167.12,358.8 168.12,359.14 169.12,359.14 170.12,359.29 171.12,359.89 172.12,360.11 173.12,359.67 174.12,359.57 175.12,360.1 176.12,360.7 177.12,361.47 178.12,362.42 179.12,363.02 180.12,363.63 181.12,364.98 182.12,366.5 183.12,367.4 184.12,368.16 185.12,369.24 186.12,370.45 187.12,372.06 188.12,374.25 189.12,376.31 190.12,378.27 191.12,381.36 192.12,385.84 193.12,390.19 194.12,393.61 195.12,396.65 196.12,399.51 197.12,402.35 198.12,405.56 199.12,408.37 200.12,410.04 201.12,411.24 202.12,412.44 203.12,413.25 204.12,413.67 205.12,413.87 206.12,413.44 207.12,412.56 208.12,412.19 209.12,412.23 210.12,411.84 211.12,411.23 212.12,410.9 213.12,410.68 214.12,410.6 215.12,410.9 216.12,410.9 217.12,410.21 218.12,409.71 219.12,409.81 220.12,409.8 221.12,409.51 222.12,409.35 223.12,409.16 224.12,409.05 225.12,409.62 226.12,410.38 227.12,410.38 228.12,410.05 229.12,410.07 230.12,409.97 231.12,409.56 232.12,409.12 233.12,408.33 234.12,407.1 235.12,406.32 236.12,406.1 237.12,405.45 238.12,404.25 239.12,403.1 240.12,401.84 241.12,400.36 242.12,399.04 243.12,397.44 244.12,395.08 245.12,392.73 246.12,391.12 247.12,389.64 248.12,387.89" fill="none" stroke="#2f88d8" stroke-width="1.8" stroke-linejoin="round" stroke-linecap="round"/>
<polyline points="79.22,312.37 80.22,312.37 81.22,312.48 82.22,313.55 83.22,314.41 84.22,314.86 85.22,315.5 86.22,316.26 87.22,317.21 88.22,317.77 89.22,317.53 90.22,317.5 91.22,317.8 92.22,317.07 93.22,315.69 94.22,315.14 95.22,314.64 96.22,313.62 97.22,312.74 98.22,312.06 99.22,311.7 100.22,311.43 101.22,310.54 102.22,309.78 103.22,310.19 104.22,310.21 105.22,309.77 106.22,310.48 107.22,311.77 108.22,312.83 109.22,314.06 110.22,315.49 111.22,317.21 112.22,319.06 113.22,320.01 114.22,320.38 115.22,321.15 116.22,321.01 117.22,319.1 118.22,317 119.22,315.25 120.22,313.44 121.22,312.54 122.22,312.97 123.22,314.86 124.22,318.16 125.22,321.33 126.22,323.61 127.22,326.01 128.22,327.81 129.22,327.88 130.22,327.59 131.22,327.81 132.22,327.7 133.22,327.3 134.22,326.92 135.22,326.65 136.22,326.92 137.22,326.99 138.22,326.32 139.22,326.38 140.22,327.19 141.22,327.27 142.22,327.25 143.22,328.1 144.22,329.12 145.22,329.99 146.22,330.91 147.22,331.84 148.22,333.25 149.22,334.57 150.22,334.68 151.22,334.43 152.22,334.01 153.22,333.38 154.22,332.95 155.22,333.42 156.22,334.3 157.22,335.07 158.22,335.84 159.22,336.55 160.22,337.7 161.22,339.17 162.22,339.71 163.22,339.93 164.22,341 165.22,341.72 166.22,341.53 167.22,341.72 168.22,342.35 169.22,342.86 170.22,343.33 171.22,343.65 172.22,344.32 173.22,345.63 174.22,346.31 175.22,346.38 176.22,347.22 177.22,348.01 178.22,347.68 179.22,347.22 180.22,347.06 181.22,346.71 182.22,346.26 183.22,345.64 184.22,345.21 185.22,345.68 186.22,346.06 187.22,345.93 188.22,346.78 189.22,348.41 190.22,349.4 191.22,350.28 192.22,351.68 193.22,353.05 194.22,354.06 195.22,354.65 196.22,355.14 197.22,356.74 198.22,359.05 199.22,362.07 200.22,368.27 201.22,377.62 202.22,384.94 203.22,389.87 204.22,394.74 205.22,399.23 206.22,403.16 207.22,406.38 208.22,409.07 209.22,411.95 210.22,414.55 211.22,415.65 212.22,416.19 213.22,417.3 214.22,417.85 215.22,417.56 216.22,417.46 217.22,417.51 218.22,417.65 219.22,417.72 220.22,417.34 221.22,417.37 222.22,418.09 223.22,417.96 224.22,417.19 225.22,417.16 226.22,416.99 227.22,415.9 228.22,414.82 229.22,414.03 230.22,413.41 231.22,412.99 232.22,412.21 233.22,411.68 234.22,412.25 235.22,412.43 236.22,411.86 237.22,412.01 238.22,412.54 239.22,412.34 240.22,412 241.22,411.95 242.22,412.1 243.22,412.48 244.22,412.51 245.22,412.41 246.22,413.27 247.22,414.09 248.22,413.88" fill="none" stroke="#1f4a7a" stroke-width="1.8" stroke-linejoin="round" stroke-linecap="round"/>
<polyline points="361.75,356.04 362.75,356.93 363.75,358 364.75,358.8 365.75,359.58 366.75,360.42 367.75,361.42 368.75,362.26 369.75,362.38 370.75,362.17 371.75,362.4 372.75,362.19 373.75,360.74 374.75,359.23 375.75,358.54 376.75,357.52 377.75,355.79 378.75,354.65 379.75,354.34 380.75,354.01 381.75,353.63 382.75,353.64 383.75,354 384.75,354.55 385.75,355.06 386.75,355.36 387.75,356.01 388.75,357.24 389.75,357.96 390.75,357.88 391.75,358.33 392.75,359.26 393.75,359.12 394.75,358.14 395.75,357.55 396.75,356.91 397.75,355.28 398.75,353.42 399.75,352.12 400.75,351.16 401.75,350.18 402.75,348.98 403.75,347.69 404.75,346.81 405.75,346.27 406.75,345.25 407.75,344.18 408.75,344.18 409.75,344.57 410.75,344.18 411.75,343.97 412.75,344.84 413.75,345.7 414.75,345.85 415.75,346.21 416.75,346.98 417.75,347.3 418.75,346.94 419.75,346.75 420.75,346.7 421.75,346.93 422.75,347.14 423.75,346.89 424.75,346.89 425.75,347.75 426.75,348.34 427.75,348.13 428.75,348.35 429.75,349.26 430.75,349.39 431.75,348.81 432.75,348.72 433.75,348.92 434.75,348.61 435.75,348.03 436.75,347.77 437.75,347.72 438.75,347.79 439.75,347.64 440.75,347.2 441.75,347.13 442.75,347.46 443.75,347.11 444.75,346.27 445.75,346.35 446.75,346.82 447.75,346.63 448.75,346.4 449.75,347.29 450.75,348.31 451.75,348.78 452.75,349.3 453.75,350.22 454.75,351.05 455.75,351.59 456.75,351.83 457.75,351.94 458.75,352.48 459.75,352.98 460.75,352.83 461.75,352.53 462.75,353.06 463.75,353.23 464.75,352.15 465.75,351.1 466.75,350.48 467.75,349.02 468.75,346.65 469.75,344.59 470.75,343.02 471.75,341.33 472.75,339.5 473.75,337.74 474.75,336.2 475.75,334.95 476.75,333.44 477.75,331.36 478.75,329.55 479.75,328.22 480.75,326.02 481.75,322.72 482.75,319.61 483.75,317.12 484.75,315.03 485.75,313.92 486.75,314.61 487.75,316.09 488.75,317.12 489.75,317.97 490.75,319.03 491.75,320.19 492.75,321.29 493.75,321.99 494.75,322.47 495.75,323.54 496.75,324.89 497.75,325.52 498.75,326.11 499.75,327.71 500.75,329.36 501.75,330.06 502.75,330.87 503.75,332.41 504.75,333.58 505.75,334.06 506.75,334.71 507.75,335.69 508.75,336.61 509.75,337.42 510.75,338.12 511.75,339.07 512.75,340.67 513.75,342.32 514.75,343.58 515.75,345.54" fill="none" stroke="#c8e490" stroke-width="1.2" stroke-linejoin="round" stroke-linecap="round"/>
<polyline points="340.44,360.01 341.44,358.67 342.44,358.21 343.44,358.37 344.44,357.76 345.44,356.58 346.44,355.57 347.44,354.66 348.44,353.8 349.44,352.94 350.44,351.96 351.44,351.33 352.44,350.87 353.44,349.33 354.44,346.91 355.44,345.14 356.44,343.81 357.44,341.91 358.44,340.23 359.44,339.49 360.44,338.93 361.44,338.25 362.44,337.72 363.44,337.56 364.44,338.2 365.44,339.56 366.44,340.72 367.44,341.84 368.44,343.72 369.44,345.32 370.44,345.6 371.44,345.7 372.44,346.57 373.44,347.29 374.44,347.62 375.44,348.15 376.44,348.76 377.44,349.16 378.44,349.19 379.44,348.69 380.44,348.34 381.44,348.84 382.44,349.21 383.44,348.68 384.44,348.3 385.44,348.19 386.44,347.05 387.44,345.19 388.44,343.96 389.44,343.35 390.44,342.89 391.44,342.59 392.44,342.31 393.44,342.22 394.44,342.54 395.44,342.46 396.44,341.96 397.44,342.42 398.44,343.65 399.44,344.11 400.44,344.07 401.44,344.5 402.44,344.75 403.44,344.23 404.44,343.58 405.44,343.23 406.44,343.16 407.44,343.21 408.44,342.68 409.44,341.63 410.44,341.08 411.44,340.73 412.44,339.68 413.44,339.04 414.44,340 415.44,341.59 416.44,342.39 417.44,341.8 418.44,340.32 419.44,339.77 420.44,339.91 421.44,340.17 422.44,340.8 423.44,342.3 424.44,343.95 425.44,344.9 426.44,346.3 427.44,348.97 428.44,351.65 429.44,354.04 430.44,357.31 431.44,361.26 432.44,364.74 433.44,367.75 434.44,370.56 435.44,373.25 436.44,376.22 437.44,379.23 438.44,381.89 439.44,384.98 440.44,388.45 441.44,390.68 442.44,391.74 443.44,393.18 444.44,394.77 445.44,395.6 446.44,396.29 447.44,397.37 448.44,398.38 449.44,399.04 450.44,399.13 451.44,398.78 452.44,398.94 453.44,399.63 454.44,399.74 455.44,399.67 456.44,400.48 457.44,401.17 458.44,400.77 459.44,400.36 460.44,400.68 461.44,401.09 462.44,401.4 463.44,401.81 464.44,402.2 465.44,402.73 466.44,403.1 467.44,402.69 468.44,402.39 469.44,403.22 470.44,404.05 471.44,404.1 472.44,404.48 473.44,405.37 474.44,405.59 475.44,405.26 476.44,405.28 477.44,405.72 478.44,406.45 479.44,407.18 480.44,407.43 481.44,407.74 482.44,408.53 483.44,408.76 484.44,408.35 485.44,408.85 486.44,410.15 487.44,410.81 488.44,410.99 489.44,411.48 490.44,411.83 491.44,411.69 492.44,411.35 493.44,411.05 494.44,411.21 495.44,411.76 496.44,411.62 497.44,410.81 498.44,410.58 499.44,410.54 500.44,409.66 501.44,408.9 502.44,409.24 503.44,409.69 504.44,409.55 505.44,409.26 506.44,408.94 507.44,408.64 508.44,408.45 509.44,407.99 510.44,407.66 511.44,408.24 512.44,408.76 513.44,408.15 514.44,407.5 515.44,407.6 516.44,407.39" fill="none" stroke="#a066b8" stroke-width="1.2" stroke-linejoin="round" stroke-linecap="round"/>
<polyline points="362.87,346.77 363.87,346.1 364.87,345.4 365.87,345.21 366.87,344.83 367.87,344.28 368.87,343.89 369.87,343 370.87,341.85 371.87,341.41 372.87,341.33 373.87,341.13 374.87,341.22 375.87,341.09 376.87,340.33 377.87,339.85 378.87,339.83 379.87,339.67 380.87,339.76 381.87,340.24 382.87,340.41 383.87,340.8 384.87,341.98 385.87,343.17 386.87,344.15 387.87,345.19 388.87,345.6 389.87,345.44 390.87,345.73 391.87,346.18 392.87,346.32 393.87,346.67 394.87,346.89 395.87,346.45 396.87,346.23 397.87,346.36 398.87,346.09 399.87,345.68 400.87,345.3 401.87,344.41 402.87,343.63 403.87,343.68 404.87,343.86 405.87,343.9 406.87,344.12 407.87,343.88 408.87,343.11 409.87,342.79 410.87,342.66 411.87,342.23 412.87,342 413.87,341.87 414.87,341.69 415.87,341.96 416.87,342.86 417.87,343.47 418.87,343.87 419.87,344.22 420.87,343.9 421.87,343.46 422.87,343.69 423.87,343.99 424.87,344.14 425.87,344.46 426.87,344.47 427.87,343.98 428.87,343.82 429.87,343.8 430.87,343.2 431.87,342.56 432.87,341.83 433.87,340.71 434.87,340.02 435.87,340.16 436.87,340.22 437.87,340.26 438.87,340.5 439.87,340.25 440.87,340.04 441.87,340.49 442.87,341.09 443.87,341.49 444.87,342.21 445.87,342.93 446.87,343.44 447.87,344.59 448.87,346.08 449.87,347.06 450.87,347.81 451.87,348.39 452.87,348.29 453.87,348.39 454.87,349.12 455.87,349.66 456.87,350.08 457.87,350.67 458.87,350.89 459.87,350.92 460.87,351.52 461.87,352.02 462.87,352.04 463.87,352.14 464.87,352.19 465.87,352.07 466.87,352.69 467.87,353.87 468.87,354.66 469.87,355.32 470.87,355.94 471.87,356.05 472.87,356.3 473.87,357.25 474.87,358.12 475.87,358.93 476.87,360.22 477.87,361.67 478.87,363.53 479.87,366.48 480.87,369.82 481.87,372.87 482.87,376.09 483.87,379.24 484.87,382.02 485.87,385.19 486.87,388.54 487.87,391.35 488.87,394.22 489.87,397.11 490.87,399.17 491.87,400.7 492.87,402.3 493.87,403.24 494.87,403.45 495.87,403.67 496.87,403.68 497.87,403.59 498.87,404.26 499.87,405.05 500.87,405.27 501.87,405.41 502.87,405.37 503.87,404.87 504.87,404.72 505.87,404.99 506.87,404.84 507.87,404.59 508.87,404.61 509.87,404.35 510.87,404.28 511.87,404.77 512.87,404.85 513.87,404.32 514.87,403.82 515.87,403.09" fill="none" stroke="#e8a0b8" stroke-width="1.2" stroke-linejoin="round" stroke-linecap="round"/>
<polyline points="365.12,346.43 366.12,345.41 367.12,344.19 368.12,343.67 369.12,343.54 370.12,342.55 371.12,341.29 372.12,340.87 373.12,340.42 374.12,339.16 375.12,337.97 376.12,337.39 377.12,336.98 378.12,336.59 379.12,336.19 380.12,335.82 381.12,335.98 382.12,336.38 383.12,335.97 384.12,335.32 385.12,335.53 386.12,335.76 387.12,335.15 388.12,334.85 389.12,335.52 390.12,336.42 391.12,337.25 392.12,338.18 393.12,339.09 394.12,340.05 395.12,340.71 396.12,340.26 397.12,339.32 398.12,339.01 399.12,338.49 400.12,336.99 401.12,335.73 402.12,335.27 403.12,334.57 404.12,333.36 405.12,332.2 406.12,331.1 407.12,329.97 408.12,328.59 409.12,326.32 410.12,323.49 411.12,321.04 412.12,318.79 413.12,316.91 414.12,317.26 415.12,320.1 416.12,322.22 417.12,321.88 418.12,320.24 419.12,318.31 420.12,316.57 421.12,315.4 422.12,314.97 423.12,315.38 424.12,316.98 425.12,318.81 426.12,320.02 427.12,321.57 428.12,323.87 429.12,325.47 430.12,326.01 431.12,326.51 432.12,326.99 433.12,326.86 434.12,326.35 435.12,325.72 436.12,325.2 437.12,325.18 438.12,325.1 439.12,324.39 440.12,324.07 441.12,324.53 442.12,324.36 443.12,323.36 444.12,322.86 445.12,322.87 446.12,322.46 447.12,321.89 448.12,321.61 449.12,321.54 450.12,321.6 451.12,321.32 452.12,320.37 453.12,319.66 454.12,319.67 455.12,319.26 456.12,318.39 457.12,318.59 458.12,319.85 459.12,320.98 460.12,322.2 461.12,324.17 462.12,326.56 463.12,329.13 464.12,331.71 465.12,334.16 466.12,337.22 467.12,341.49 468.12,346.63 469.12,353.38 470.12,362.67 471.12,371.85 472.12,379.34 473.12,387.1 474.12,394.01 475.12,398.89 476.12,401.58 477.12,403.02 478.12,403.6 479.12,403.97 480.12,404.49 481.12,404.44 482.12,403.88 483.12,404.15 484.12,405.07 485.12,405.23 486.12,405.05 487.12,405.47 488.12,405.9 489.12,405.7 490.12,405.29 491.12,404.96 492.12,404.82 493.12,404.97 494.12,404.84 495.12,404.4 496.12,404.73 497.12,405.52 498.12,405.42 499.12,404.95 500.12,405.23 501.12,405.53 502.12,405.09 503.12,404.61 504.12,404.53 505.12,404.62 506.12,404.85 507.12,404.89 508.12,404.72 509.12,405.12 510.12,405.78 511.12,405.49 512.12,404.81 513.12,404.92 514.12,405.02 515.12,404.28 516.12,403.61" fill="none" stroke="#f08a80" stroke-width="1.2" stroke-linejoin="round" stroke-linecap="round"/>
<polyline points="385.31,324.11 386.31,322.83 387.31,321.99 388.31,321.2 389.31,320.87 390.31,320.7 391.31,319.7 392.31,318.7 393.31,318.28 394.31,317.69 395.31,317.1 396.31,316.38 397.31,315.13 398.31,314.49 399.31,314.7 400.31,314.68 401.31,314.73 402.31,315.02 403.31,315.27 404.31,316.35 405.31,317.89 406.31,318.74 407.31,319.61 408.31,321 409.31,322.54 410.31,324.68 411.31,326.96 412.31,328.7 413.31,335.06 414.31,334.93 415.31,334.2 416.31,333.31 417.31,332.11 418.31,330.39 419.31,329.41 420.31,329.12 421.31,328.6 422.31,328.44 423.31,328.83 424.31,329.47 425.31,331.01 426.31,332.7 427.31,333.45 428.31,334.05 429.31,334.68 430.31,334.94 431.31,335.3 432.31,335.23 433.31,334.32 434.31,333.87 435.31,333.91 436.31,333.62 437.31,333.32 438.31,332.69 439.31,331.62 440.31,331.32 441.31,331.35 442.31,330.87 443.31,330.65 444.31,330.66 445.31,330.83 446.31,331.83 447.31,332.84 448.31,333.08 449.31,333.53 450.31,334.2 451.31,334.66 452.31,335.33 453.31,335.53 454.31,335.15 455.31,335.5 456.31,336.32 457.31,336.91 458.31,337.63 459.31,338.05 460.31,338.22 461.31,339.07 462.31,339.83 463.31,339.8 464.31,339.76 465.31,339.62 466.31,339.49 467.31,339.97 468.31,340.16 469.31,339.75 470.31,339.82 471.31,340.2 472.31,340.55 473.31,341.17 474.31,341.38 475.31,341.41 476.31,342.46 477.31,344.05 478.31,345.67 479.31,347.78 480.31,349.96 481.31,352.38 482.31,355.78 483.31,359 484.31,361.47 485.31,364.07 486.31,366.75 487.31,369.74 488.31,373.42 489.31,376.66 490.31,379.35 491.31,382.52 492.31,385.63 493.31,388.32 494.31,390.72 495.31,392.03 496.31,392.68 497.31,393.75 498.31,394.51 499.31,394.67 500.31,394.85 501.31,394.76 502.31,394.99 503.31,396.12 504.31,396.93 505.31,397.16 506.31,397.57 507.31,397.81 508.31,398.09 509.31,398.63 510.31,398.38 511.31,397.69 512.31,397.61 513.31,397.55 514.31,397.44 515.31,397.43 516.31,396.77" fill="none" stroke="#50c4e4" stroke-width="1.2" stroke-linejoin="round" stroke-linecap="round"/>
<polyline points="380.82,330.87 381.82,330.25 382.82,330.19 383.82,330.03 384.82,329.86 385.82,329.79 386.82,329.45 387.82,329.29 388.82,329.76 389.82,329.95 390.82,329.3 391.82,328.64 392.82,328.29 393.82,327.91 394.82,327.69 395.82,327.59 396.82,327.04 397.82,326.54 398.82,326.87 399.82,327.28 400.82,327.06 401.82,326.72 402.82,326.51 403.82,326.29 404.82,326.54 405.82,327.2 406.82,327.38 407.82,327.45 408.82,328.31 409.82,329.5 410.82,330.33 411.82,330.99 412.82,331.27 413.82,329.32 414.82,328.29 415.82,328.06 416.82,327.28 417.82,326.14 418.82,325.58 419.82,325.39 420.82,325.27 421.82,325.32 422.82,325.12 423.82,324.41 424.82,324.02 425.82,324.4 426.82,324.5 427.82,324.3 428.82,324.53 429.82,325.02 430.82,325.82 431.82,327.14 432.82,328.35 433.82,328.82 434.82,329.36 435.82,330.46 436.82,331.34 437.82,331.8 438.82,332.25 439.82,332.54 440.82,332.87 441.82,333.94 442.82,335.11 443.82,335.52 444.82,335.8 445.82,336.5 446.82,337.09 447.82,337.52 448.82,337.95 449.82,337.95 450.82,337.82 451.82,338.51 452.82,339.62 453.82,340.21 454.82,340.63 455.82,341.29 456.82,341.87 457.82,342.51 458.82,343.3 459.82,343.5 460.82,343.22 461.82,343.57 462.82,344.47 463.82,345.11 464.82,345.64 465.82,346.24 466.82,346.6 467.82,347.08 468.82,347.94 469.82,348.19 470.82,347.68 471.82,347.46 472.82,347.72 473.82,347.96 474.82,348.36 475.82,348.83 476.82,348.96 477.82,349.39 478.82,350.53 479.82,351.57 480.82,351.94 481.82,352.43 482.82,353.29 483.82,354.25 484.82,355.68 485.82,357.35 486.82,358.58 487.82,359.94 488.82,362.13 489.82,364.4 490.82,366.12 491.82,367.77 492.82,369.42 493.82,371.14 494.82,373.47 495.82,376.19 496.82,378.37 497.82,380.4 498.82,383.1 499.82,385.91 500.82,388.32 501.82,390.49 502.82,392.05 503.82,392.87 504.82,393.97 505.82,395.36 506.82,396.06 507.82,396.3 508.82,396.85 509.82,397.49 510.82,398.08 511.82,398.78 512.82,398.79 513.82,397.77 514.82,396.79 515.82,396.14" fill="none" stroke="#2e9090" stroke-width="1.2" stroke-linejoin="round" stroke-linecap="round"/>
<polyline points="362.87,344.52 363.87,344.06 364.87,343.75 365.87,343.38 366.87,342.76 367.87,341.82 368.87,341.06 369.87,340.86 370.87,340.48 371.87,339.65 372.87,339.46 373.87,340.11 374.87,340.27 375.87,339.95 376.87,340.51 377.87,341.51 378.87,341.57 379.87,341.35 380.87,341.92 381.87,342.51 382.87,342.44 383.87,342.42 384.87,342.8 385.87,343.14 386.87,343.19 387.87,343 388.87,342.8 389.87,342.8 390.87,342.56 391.87,341.65 392.87,340.85 393.87,340.76 394.87,340.4 395.87,339.39 396.87,339.06 397.87,339.59 398.87,339.46 399.87,338.79 400.87,338.89 401.87,339.3 402.87,338.86 403.87,338.13 404.87,337.99 405.87,337.91 406.87,337.49 407.87,337.13 408.87,337.22 409.87,337.81 410.87,338.66 411.87,339.32 412.87,339.77 413.87,340.56 414.87,341.08 415.87,340.37 416.87,339.64 417.87,339.64 418.87,339.21 419.87,337.95 420.87,337.35 421.87,337.55 422.87,337.14 423.87,336.29 424.87,336.13 425.87,336.25 426.87,335.71 427.87,334.88 428.87,334.27 429.87,333.72 430.87,332.99 431.87,332.07 432.87,331.19 433.87,330.83 434.87,330.7 435.87,330.08 436.87,329.42 437.87,329.62 438.87,329.77 439.87,328.97 440.87,328.46 441.87,328.88 442.87,328.98 443.87,328.43 444.87,328.6 445.87,329.54 446.87,330.01 447.87,330.12 448.87,330.71 449.87,331.51 450.87,331.97 451.87,332.16 452.87,332.32 453.87,332.62 454.87,332.99 455.87,332.97 456.87,332.74 457.87,333.21 458.87,334.03 459.87,334.17 460.87,334.25 461.87,335.33 462.87,336.35 463.87,336.37 464.87,336.58 465.87,337.58 466.87,338.14 467.87,337.96 468.87,338.26 469.87,339.09 470.87,339.64 471.87,339.96 472.87,340.55 473.87,341.37 474.87,342.13 475.87,342.58 476.87,342.61 477.87,342.85 478.87,343.3 479.87,343.08 480.87,342.44 481.87,342.59 482.87,343.13 483.87,342.86 484.87,342.59 485.87,343.38 486.87,344.2 487.87,344.11 488.87,344.27 489.87,345.15 490.87,345.68 491.87,345.66 492.87,345.91 493.87,346.58 494.87,347.22 495.87,347.78 496.87,348.37 497.87,349.27 498.87,350.55 499.87,351.52 500.87,351.97 501.87,352.84 502.87,354.13 503.87,354.64 504.87,354.65 505.87,355.56 506.87,356.87 507.87,357.38 508.87,357.96 509.87,359.65 510.87,361.46 511.87,362.69 512.87,364.3 513.87,366.65 514.87,368.95 515.87,370.96" fill="none" stroke="#8e5070" stroke-width="1.2" stroke-linejoin="round" stroke-linecap="round"/>
<polyline points="371.85,342.1 372.85,342.18 373.85,342.46 374.85,342.16 375.85,342.44 376.85,343.22 377.85,343.68 378.85,344.33 379.85,344.33 380.85,344.12 381.85,344.54 382.85,344.58 383.85,344.72 384.85,344.51 385.85,343.66 386.85,343.52 387.85,343.42 388.85,343.42 389.85,343.56 390.85,342.89 391.85,342.5 392.85,342.43 393.85,342.12 394.85,342.14 395.85,341.39 396.85,340.37 397.85,339.93 398.85,339.37 399.85,339.32 400.85,339.1 401.85,338.23 402.85,337.93 403.85,337.65 404.85,337.7 405.85,338.14 406.85,337.85 407.85,337.95 408.85,338.71 409.85,340.04 410.85,342.55 411.85,344.67 412.85,345.93 413.85,346.83 414.85,346.81 415.85,346.9 416.85,346.89 417.85,346.02 418.85,345.24 419.85,344.1 420.85,343.25 421.85,342.84 422.85,341.68 423.85,340.66 424.85,339.79 425.85,339.16 426.85,339.74 427.85,340.33 428.85,341.02 429.85,342.13 430.85,343.05 431.85,344.78 432.85,346.56 433.85,347.68 434.85,348.75 435.85,349.07 436.85,349.57 437.85,350.6 438.85,351.06 439.85,351.66 440.85,352.05 441.85,352.41 442.85,353.75 443.85,354.88 444.85,355.89 445.85,356.78 446.85,357.01 447.85,357.84 448.85,358.77 449.85,359.32 450.85,360.01 451.85,359.93 452.85,360.01 453.85,360.67 454.85,361.04 455.85,361.73 456.85,362.05 457.85,362.19 458.85,363.3 459.85,364.59 460.85,366.48 461.85,368.85 462.85,371.01 463.85,374.17 464.85,377.74 465.85,381.24 466.85,384.78 467.85,387.48 468.85,390.47 469.85,393.95 470.85,397.05 471.85,400.15 472.85,402.19 473.85,403.17 474.85,404.19 475.85,404.7 476.85,405.36 477.85,405.91 478.85,405.62 479.85,405.75 480.85,406.05 481.85,406.62 482.85,407.77 483.85,408.18 484.85,408.48 485.85,408.94 486.85,409.17 487.85,410 488.85,410.37 489.85,410.2 490.85,410.37 491.85,410.32 492.85,410.91 493.85,411.76 494.85,411.88 495.85,412.23 496.85,412.37 497.85,412.63 498.85,413.48 499.85,413.57 500.85,413.47 501.85,413.28 502.85,412.86 503.85,413.29 504.85,413.55 505.85,413.49 506.85,413.64 507.85,413.4 508.85,413.8 509.85,414.5 510.85,414.57 511.85,414.71 512.85,414.3 513.85,413.91 514.85,414.21 515.85,414.04" fill="none" stroke="#3a3a3a" stroke-width="1.2" stroke-linejoin="round" stroke-linecap="round"/>
<polyline points="374.09,328.58 375.09,327.64 376.09,327.03 377.09,326.32 378.09,325.87 379.09,325.82 380.09,324.72 381.09,323.28 382.09,322.26 383.09,321.32 384.09,320.88 385.09,319.98 386.09,318.32 387.09,317.29 388.09,316.39 389.09,315.58 390.09,315.28 391.09,314.9 392.09,315.56 393.09,317.34 394.09,318.82 395.09,320.28 396.09,321.51 397.09,322.69 398.09,324.96 399.09,327.17 400.09,329.06 401.09,331.44 402.09,333.58 403.09,335.61 404.09,337.09 405.09,337.27 406.09,337.62 407.09,338.37 408.09,338.96 409.09,339.79 410.09,340.04 411.09,340.07 412.09,340.44 413.09,326.77 414.09,324.27 415.09,322.09 416.09,319.99 417.09,319.03 418.09,318.48 419.09,317.33 420.09,316.51 421.09,315.77 422.09,315.29 423.09,315.49 424.09,315.33 425.09,315.59 426.09,316.94 427.09,318.36 428.09,319.93 429.09,320.93 430.09,321.12 431.09,321.83 432.09,322.37 433.09,322.42 434.09,322.67 435.09,322.71 436.09,323.38 437.09,324.6 438.09,324.99 439.09,325.35 440.09,326.06 441.09,326.98 442.09,328.71 443.09,330.04 444.09,330.83 445.09,332.12 446.09,333.08 447.09,333.78 448.09,334.24 449.09,334.02 450.09,334.56 451.09,335.77 452.09,336.52 453.09,337.17 454.09,337.25 455.09,337.17 456.09,337.68 457.09,337.55 458.09,337.13 459.09,337.14 460.09,337.17 461.09,337.73 462.09,337.93 463.09,337.03 464.09,336.38 465.09,335.95 466.09,335.53 467.09,335.46 468.09,334.81 469.09,334.27 470.09,334.4 471.09,333.86 472.09,332.84 473.09,331.41 474.09,329.62 475.09,328.71 476.09,327.78 477.09,326.2 478.09,324.87 479.09,323.42 480.09,322.35 481.09,321.55 482.09,319.82 483.09,318.33 484.09,317.63 485.09,317.08 486.09,316.97 487.09,316.46 488.09,315.72 489.09,316.19 490.09,317.17 491.09,318.6 492.09,320.92 493.09,323.63 494.09,327.6 495.09,332.28 496.09,336.26 497.09,340.75 498.09,345.96 499.09,351.83 500.09,358.67 501.09,364.83 502.09,370.13 503.09,375.26 504.09,379.78 505.09,384.05 506.09,387.57 507.09,389.86 508.09,392.47 509.09,395.09 510.09,396.84 511.09,398.09 512.09,398.33 513.09,398.36 514.09,398.8 515.09,398.44 516.09,397.9" fill="none" stroke="#4a6a50" stroke-width="1.2" stroke-linejoin="round" stroke-linecap="round"/>
<polyline points="374.09,324.52 375.09,325.18 376.09,325.67 377.09,326.23 378.09,326.49 379.09,327.14 380.09,328.51 381.09,329.54 382.09,330.17 383.09,331.02 384.09,331.78 385.09,332.62 386.09,333.96 387.09,334.89 388.09,335.08 389.09,335.49 390.09,336.09 391.09,336.59 392.09,337.46 393.09,338.12 394.09,338.09 395.09,338.32 396.09,339.08 397.09,339.66 398.09,340.24 399.09,340.77 400.09,340.68 401.09,340.71 402.09,341.48 403.09,342.2 404.09,342.86 405.09,343.85 406.09,344.76 407.09,345.9 408.09,347.95 409.09,349.97 410.09,351.38 411.09,352.69 412.09,353.48 413.09,342.3 414.09,345.46 415.09,349.45 416.09,351.54 417.09,351.27 418.09,348.68 419.09,343.65 420.09,337.82 421.09,331.97 422.09,325.86 423.09,320.66 424.09,317.72 425.09,316.84 426.09,317.66 427.09,319.69 428.09,321.7 429.09,323.44 430.09,325.32 431.09,326.58 432.09,327.03 433.09,327.49 434.09,327.71 435.09,327.67 436.09,328.26 437.09,329.08 438.09,329.21 439.09,329.1 440.09,328.91 441.09,328.21 442.09,327.56 443.09,327 444.09,325.65 445.09,324.02 446.09,322.93 447.09,322.06 448.09,321.66 449.09,321.95 450.09,321.98 451.09,321.77 452.09,322.21 453.09,322.88 454.09,323.45 455.09,324.19 456.09,324.55 457.09,324.4 458.09,324.8 459.09,325.66 460.09,326.23 461.09,326.96 462.09,327.88 463.09,328.6 464.09,329.92 465.09,331.88 466.09,333.34 467.09,334.32 468.09,335.2 469.09,335.53 470.09,335.63 471.09,335.98 472.09,335.69 473.09,334.75 474.09,334.1 475.09,333.65 476.09,333.4 477.09,333.9 478.09,334.54 479.09,334.76 480.09,335.35 481.09,336.51 482.09,337.85 483.09,339.9 484.09,342.61 485.09,345.64 486.09,350.22 487.09,356.61 488.09,363.49 489.09,370.4 490.09,376.98 491.09,382.2 492.09,386.41 493.09,390.56 494.09,393.84 495.09,396.02 496.09,397.81 497.09,399.09 498.09,400.1 499.09,401.51 500.09,402.55 501.09,402.7 502.09,402.83 503.09,403.16 504.09,403.43 505.09,404.15 506.09,404.98 507.09,405.09 508.09,405.18 509.09,405.72 510.09,406.07 511.09,406.39 512.09,406.74 513.09,406.41 514.09,405.94 515.09,406.21 516.09,406.56" fill="none" stroke="#f09022" stroke-width="1.8" stroke-linejoin="round" stroke-linecap="round"/>
<polyline points="358.39,336.06 359.39,334.97 360.39,334.14 361.39,333.32 362.39,332.82 363.39,332.9 364.39,332.24 365.39,331.62 366.39,331.33 367.39,330.96 368.39,331.12 369.39,330.63 370.39,329.58 371.39,328.99 372.39,328.26 373.39,327.95 374.39,327.55 375.39,326.4 376.39,325.82 377.39,325.34 378.39,324.86 379.39,324.53 380.39,323.24 381.39,322.09 382.39,321.42 383.39,320.63 384.39,320.32 385.39,319.62 386.39,319.1 387.39,319.8 388.39,320.68 389.39,321.93 390.39,323.02 391.39,323.39 392.39,324.25 393.39,324.82 394.39,324.62 395.39,323.7 396.39,321.33 397.39,318.9 398.39,316.83 399.39,314.47 400.39,312.67 401.39,311 402.39,310.13 403.39,310.87 404.39,311.71 405.39,312.76 406.39,313.76 407.39,314.39 408.39,315.84 409.39,317.09 410.39,317.54 411.39,317.6 412.39,316.66 413.39,316.98 414.39,318.11 415.39,318.78 416.39,319.72 417.39,320.87 418.39,322.96 419.39,324.6 420.39,324.59 421.39,323.73 422.39,322.72 423.39,321.62 424.39,321.59 425.39,321.69 426.39,321.68 427.39,322.39 428.39,323.14 429.39,324.62 430.39,326.32 431.39,327.14 432.39,328.06 433.39,328.82 434.39,329.66 435.39,330.94 436.39,331.38 437.39,331.75 438.39,332.47 439.39,333.13 440.39,334.41 441.39,335.13 442.39,335.14 443.39,335.46 444.39,335.48 445.39,335.65 446.39,335.55 447.39,334.46 448.39,333.78 449.39,333.32 450.39,333.11 451.39,333.42 452.39,333.08 453.39,333.05 454.39,333.8 455.39,334.57 456.39,335.81 457.39,336.47 458.39,336.72 459.39,337.65 460.39,338.41 461.39,339.27 462.39,339.81 463.39,339.35 464.39,339.33 465.39,339.36 466.39,339.11 467.39,338.89 468.39,337.87 469.39,337.22 470.39,337.4 471.39,337.67 472.39,338.67 473.39,339.66 474.39,341.03 475.39,343.75 476.39,346.58 477.39,349.54 478.39,352.39 479.39,354.88 480.39,358.35 481.39,362 482.39,365.3 483.39,368.7 484.39,371.55 485.39,375.11 486.39,379.82 487.39,384.39 488.39,388.91 489.39,392.56 490.39,395.49 491.39,398.42 492.39,400.14 493.39,401.17 494.39,401.89 495.39,402.08 496.39,402.92 497.39,403.57 498.39,403.63 499.39,403.9 500.39,403.92 501.39,404.51 502.39,405.39 503.39,405.32 504.39,405.14 505.39,404.59 506.39,403.92 507.39,403.69 508.39,402.65 509.39,401.41 510.39,400.57 511.39,399.87 512.39,400.17 513.39,400.35 514.39,400.06 515.39,400.27 516.39,400.38" fill="none" stroke="#8040e0" stroke-width="1.8" stroke-linejoin="round" stroke-linecap="round"/>
<polyline points="338.19,342.22 339.19,340.75 340.19,339.29 341.19,337.59 342.19,336.52 343.19,335.98 344.19,334.82 345.19,333.15 346.19,331.14 347.19,328.57 348.19,326.4 349.19,325.12 350.19,323.74 351.19,322.19 352.19,321.08 353.19,320.1 354.19,319.61 355.19,320.36 356.19,321.55 357.19,322.85 358.19,324.94 359.19,327.34 360.19,329.39 361.19,331.24 362.19,332.15 363.19,331.61 364.19,330.79 365.19,330.13 366.19,329.08 367.19,327.97 368.19,326.66 369.19,324.64 370.19,322.86 371.19,322.11 372.19,321.73 373.19,321.78 374.19,322.43 375.19,323.04 376.19,323.85 377.19,325.3 378.19,326.46 379.19,327 380.19,327.69 381.19,328.48 382.19,329.52 383.19,331.43 384.19,333.33 385.19,334.34 386.19,335.18 387.19,336.05 388.19,336.76 389.19,337.91 390.19,339.2 391.19,339.72 392.19,340.08 393.19,340.68 394.19,340.87 395.19,340.92 396.19,341.06 397.19,340.67 398.19,340.33 399.19,340.77 400.19,341.11 401.19,340.9 402.19,340.47 403.19,339.42 404.19,338.15 405.19,337.8 406.19,337.92 407.19,337.86 408.19,338.09 409.19,338.36 410.19,338.45 411.19,339.23 412.19,340.39 413.19,340.94 414.19,341.59 415.19,342.4 416.19,343.18 417.19,344.1 418.19,344.98 419.19,344.72 420.19,343.77 421.19,343.04 422.19,342.32 423.19,341.8 424.19,341.69 425.19,341.07 426.19,340.04 427.19,339.75 428.19,340.02 429.19,340.47 430.19,341.36 431.19,342.03 432.19,342.05 433.19,342.19 434.19,342.15 435.19,341.27 436.19,340.13 437.19,338.94 438.19,337.55 439.19,336.83 440.19,336.83 441.19,336.45 442.19,335.84 443.19,335.43 444.19,334.88 445.19,335.43 446.19,338.23 447.19,342.28 448.19,348.08 449.19,355.21 450.19,361.78 451.19,367.08 452.19,372.14 453.19,376.91 454.19,380.97 455.19,385.13 456.19,389.18 457.19,392.38 458.19,394.9 459.19,396.42 460.19,396.67 461.19,396.89 462.19,397.61 463.19,398.11 464.19,398.58 465.19,398.94 466.19,398.53 467.19,397.99 468.19,397.88 469.19,397.39 470.19,396.53 471.19,395.88 472.19,395.03 473.19,394.14 474.19,393.73 475.19,392.88 476.19,391.14 477.19,389.34 478.19,387.54 479.19,385.77 480.19,384.68 481.19,383.64 482.19,381.81 483.19,379.99 484.19,378.59 485.19,377.35 486.19,376.79 487.19,376.77 488.19,376.41 489.19,376.2 490.19,376.55 491.19,376.63 492.19,376.4 493.19,376.11 494.19,375.21 495.19,374.31 496.19,374.3 497.19,374.35 498.19,373.85 499.19,373.09 500.19,371.74 501.19,369.95 502.19,368.76 503.19,367.83 504.19,366.47 505.19,365.19 506.19,363.94 507.19,362.4 508.19,361.25 509.19,360.26 510.19,358.68 511.19,357.2 512.19,356.4 513.19,355.83 514.19,355.84 515.19,356.58 516.19,357.09" fill="none" stroke="#7e1818" stroke-width="1.8" stroke-linejoin="round" stroke-linecap="round"/>
<polyline points="54.81,526.27 55.81,526.03 56.81,525.27 57.81,524.31 58.81,523.59 59.81,523.01 60.81,522.92 61.81,523.88 62.81,525.6 63.81,527.86 64.81,530.92 65.81,534.51 66.81,537.74 67.81,540.93 68.81,544.51 69.81,547.69 70.81,550.43 71.81,553.25 72.81,555.87 73.81,558.12 74.81,560.51 75.81,563 76.81,565.38 77.81,568.07 78.81,571.2 79.81,574.03 80.81,576.43 81.81,578.84 82.81,581.23 83.81,583.81 84.81,587.35 85.81,591.51 86.81,594.82 87.81,597.14 88.81,599.08 89.81,600.79 90.81,602.62 91.81,604.78 92.81,606.68 93.81,608.07 94.81,609.51 95.81,610.93 96.81,611.89 97.81,612.58 98.81,613.14 99.81,613.38 100.81,613.65 101.81,614.45 102.81,615.12 103.81,615.19 104.81,615.08 105.81,614.8 106.81,614.45 107.81,614.58 108.81,615.17 109.81,615.42 110.81,615.32 111.81,615.32 112.81,615.22 113.81,615.04 114.81,615.2 115.81,615.34 116.81,615.17 117.81,615.19 118.81,615.57 119.81,615.71 120.81,615.59 121.81,615.45 122.81,615.06 123.81,614.69 124.81,614.99 125.81,615.56 126.81,615.69 127.81,615.56 128.81,615.33" fill="none" stroke="#806050" stroke-width="1.15" stroke-linejoin="round" stroke-linecap="round"/>
<polyline points="54.81,524 55.81,523.28 56.81,522.47 57.81,521.87 58.81,521.86 59.81,521.44 60.81,520.89 61.81,520.58 62.81,520.16 63.81,520.11 64.81,519.95 65.81,519.18 66.81,518.81 67.81,518.72 68.81,518.98 69.81,519.79 70.81,520.26 71.81,520.99 72.81,522.35 73.81,523.75 74.81,525.58 75.81,527.5 76.81,529.4 77.81,532.26 78.81,535.46 79.81,539.05 80.81,543.22 81.81,547.13 82.81,551.37 83.81,555.92 84.81,560.12 85.81,564.38 86.81,568.16 87.81,571.56 88.81,575.43 89.81,579.14 90.81,582.66 91.81,586.17 92.81,589.25 93.81,592.83 94.81,597.11 95.81,600.67 96.81,603.43 97.81,605.19 98.81,606.51 99.81,608.29 100.81,609.66 101.81,610.67 102.81,611.69 103.81,612.42 104.81,613.59 105.81,614.74 106.81,615.14 107.81,615.52 108.81,615.57 109.81,615.71 110.81,616.19 111.81,616.18 112.81,616.03 113.81,616.2 114.81,616.35 115.81,616.96 116.81,617.41 117.81,617.22 118.81,617.23 119.81,617.18 120.81,617.2 121.81,617.44 122.81,617.09 123.81,616.84 124.81,617.07 125.81,617.3 126.81,617.87" fill="none" stroke="#308060" stroke-width="1.15" stroke-linejoin="round" stroke-linecap="round"/>
<polyline points="59.62,514.23 60.62,513.23 61.62,512.26 62.62,511.47 63.62,510.55 64.62,510.26 65.62,510.02 66.62,509.79 67.62,510.05 68.62,510.05 69.62,510.4 70.62,511.3 71.62,512.3 72.62,514.03 73.62,516.03 74.62,518.49 75.62,525.52 76.62,532.02 77.62,536.65 78.62,541.39 79.62,545.65 80.62,550.04 81.62,554.19 82.62,558.03 83.62,562.25 84.62,566.24 85.62,570.24 86.62,574.41 87.62,578 88.62,581.55 89.62,584.82 90.62,587.67 91.62,590.88 92.62,593.84 93.62,596.63 94.62,599.62 95.62,602.04 96.62,604.38 97.62,606.5 98.62,608.06 99.62,609.75 100.62,610.94 101.62,611.59 102.62,612.2 103.62,612.28 104.62,612.57 105.62,613.15 106.62,613.56 107.62,614.35 108.62,614.81 109.62,614.88 110.62,615.15 111.62,615.05 112.62,615.13 113.62,615.45 114.62,615.35 115.62,615.44 116.62,615.36 117.62,615.06 118.62,615.31 119.62,615.43 120.62,615.69 121.62,616.06 122.62,615.81 123.62,615.59 124.62,615.26 125.62,614.76 126.62,614.88" fill="none" stroke="#6060d0" stroke-width="1.15" stroke-linejoin="round" stroke-linecap="round"/>
<polyline points="54.81,524.06 55.81,523.02 56.81,522 57.81,521.49 58.81,520.6 59.81,519.07 60.81,517.98 61.81,517.63 62.81,517.17 63.81,516.54 64.81,516.59 65.81,517.16 66.81,517.48 67.81,517.67 68.81,518.06 69.81,518.66 70.81,519.36 71.81,520.01 72.81,520.58 73.81,521.31 74.81,522.11 75.81,522.3 76.81,521.92 77.81,521.89 78.81,522.17 79.81,521.95 80.81,521.69 81.81,522.4 82.81,523.55 83.81,524.3 84.81,525.24 85.81,526.95 86.81,528.81 87.81,530.43 88.81,532.42 89.81,535.07 90.81,538.03 91.81,541.33 92.81,545.13 93.81,549.49 94.81,554.13 95.81,558.37 96.81,562.11 97.81,566.07 98.81,570.49 99.81,574.55 100.81,577.6 101.81,580.63 102.81,584.05 103.81,586.87 104.81,588.87 105.81,591.12 106.81,593.8 107.81,596.11 108.81,598.15 109.81,600.62 110.81,603.27 111.81,605.51 112.81,607.29 113.81,608.81 114.81,610.18 115.81,611.54 116.81,612.71 117.81,613.31 118.81,614.02 119.81,614.94 120.81,615.29 121.81,615.14 122.81,615.39 123.81,615.83 124.81,615.57 125.81,615.17 126.81,615.59 127.81,616.22 128.81,616.26 129.81,616.26 130.81,616.66 131.81,616.87 132.81,616.61 133.81,616.34 134.81,616.35 135.81,616.57 136.81,616.83 137.81,616.95 138.81,617.07 139.81,617.45 140.81,617.68 141.81,617.26 142.81,616.9 143.81,617.22 144.81,617.48 145.81,617.23" fill="none" stroke="#40a0e0" stroke-width="1.15" stroke-linejoin="round" stroke-linecap="round"/>
<polyline points="59.62,521.41 60.62,520.83 61.62,520.1 62.62,518.77 63.62,517.87 64.62,517.32 65.62,516.16 66.62,515 67.62,513.96 68.62,513.17 69.62,512.88 70.62,512.07 71.62,511.38 72.62,511.59 73.62,511.73 74.62,511.9 75.62,511.93 76.62,511.94 77.62,512.68 78.62,513.15 79.62,513.14 80.62,513.56 81.62,514.1 82.62,514.91 83.62,515.73 84.62,516.16 85.62,517.36 86.62,519.03 87.62,520.37 88.62,522.02 89.62,523.9 90.62,526.46 91.62,529.87 92.62,533.14 93.62,537.01 94.62,542.21 95.62,547.92 96.62,553.94 97.62,559.54 98.62,564.8 99.62,570.76 100.62,576.22 101.62,580.93 102.62,585.41 103.62,589.28 104.62,592.87 105.62,595.71 106.62,597.69 107.62,600.19 108.62,602.98 109.62,605.49 110.62,607.98 111.62,610.09 112.62,612.28 113.62,614.31 114.62,615.16 115.62,615.8 116.62,616.56 117.62,616.95 118.62,617.2 119.62,616.88 120.62,616.63 121.62,617.1 122.62,617.16 123.62,617.02 124.62,617.17 125.62,617.39 126.62,617.97 127.62,618.17 128.62,617.84 129.62,618.11 130.62,618.39 131.62,618.31 132.62,618.21 133.62,617.91 134.62,618.18 135.62,618.67 136.62,618.47 137.62,618.56 138.62,618.96 139.62,619.31 140.62,619.68 141.62,619.45 142.62,619.34 143.62,619.81 144.62,619.74 145.62,619.46 146.62,619.34 147.62,619.32 148.62,619.78 149.62,619.84 150.62,619.57 151.62,619.98 152.62,620.36 153.62,620.51 154.62,620.49 155.62,620.14 156.62,620.36 157.62,620.55 158.62,620.03 159.62,619.8 160.62,619.79 161.62,619.91 162.62,620.15 163.62,619.83 164.62,619.85 165.62,620.42 166.62,620.46 167.62,620.35 168.62,620.17 169.62,620.05" fill="none" stroke="#9050c0" stroke-width="1.15" stroke-linejoin="round" stroke-linecap="round"/>
<polyline points="57.21,521.96 58.21,521.69 59.21,521.17 60.21,520.93 61.21,520.61 62.21,520.56 63.21,520.07 64.21,519.39 65.21,519.51 66.21,519.59 67.21,519.59 68.21,519.49 69.21,519.16 70.21,519.46 71.21,519.62 72.21,519.2 73.21,519.04 74.21,518.95 75.21,519.31 76.21,519.77 77.21,519.68 78.21,520.1 79.21,520.86 80.21,521.42 81.21,521.91 82.21,521.77 83.21,521.88 84.21,522.39 85.21,522.29 86.21,522.18 87.21,522.14 88.21,522.36 89.21,523.2 90.21,523.55 91.21,523.84 92.21,524.68 93.21,525.42 94.21,526.3 95.21,526.74 96.21,526.92 97.21,527.87 98.21,528.75 99.21,529.5 100.21,530.44 101.21,531.4 102.21,533.15 103.21,534.91 104.21,536.18 105.21,537.9 106.21,539.85 107.21,542.22 108.21,544.97 109.21,548.04 110.21,552.5 111.21,557.4 112.21,561.16 113.21,564.21 114.21,566.47 115.21,568.86 116.21,571.61 117.21,573.65 118.21,575.63 119.21,577.89 120.21,580.55 121.21,584.09 122.21,587.48 123.21,590.89 124.21,594.65 125.21,597.93 126.21,601.19 127.21,603.87 128.21,605.87 129.21,608.14 130.21,609.87 131.21,610.99 132.21,611.99 133.21,612.66 134.21,613.68 135.21,614.5 136.21,614.62 137.21,615.13 138.21,615.74 139.21,616.29 140.21,616.76 141.21,616.5 142.21,616.62 143.21,617.01 144.21,616.92 145.21,616.84 146.21,616.58 147.21,616.68 148.21,617.33 149.21,617.37 150.21,617.4" fill="none" stroke="#905070" stroke-width="1.15" stroke-linejoin="round" stroke-linecap="round"/>
<polyline points="62.02,519.09 63.02,519.03 64.02,519.02 65.02,519.08 66.02,519.86 67.02,520.44 68.02,520.57 69.02,520.71 70.02,520.47 71.02,520.59 72.02,520.97 73.02,520.86 74.02,520.99 75.02,521.11 76.02,521.31 77.02,521.97 78.02,521.96 79.02,521.56 80.02,521.13 81.02,520.48 82.02,520.37 83.02,520.22 84.02,519.6 85.02,519.19 86.02,518.62 87.02,518.17 88.02,517.98 89.02,517.2 90.02,516.51 91.02,516.19 92.02,516.08 93.02,516.62 94.02,516.92 95.02,516.82 96.02,516.97 97.02,516.93 98.02,517.17 99.02,517.54 100.02,517.4 101.02,517.66 102.02,518.29 103.02,519.08 104.02,520.3 105.02,520.95 106.02,521.37 107.02,522.29 108.02,523.47 109.02,525.58 110.02,528.42 111.02,532.33 112.02,538.99 113.02,548.38 114.02,558.83 115.02,573.55 116.02,585.62 117.02,593.14 118.02,599.11 119.02,603.13 120.02,606.45 121.02,609.18 122.02,610.99 123.02,612.67 124.02,613.75 125.02,614.47 126.02,614.98 127.02,614.82 128.02,614.93 129.02,615.45 130.02,615.8 131.02,616.33 132.02,616.24 133.02,615.89 134.02,615.93 135.02,615.76 136.02,615.69 137.02,615.58 138.02,615.13 139.02,615.32 140.02,615.68 141.02,615.79 142.02,615.89 143.02,615.35 144.02,614.9 145.02,615.02 146.02,614.96 147.02,615.14 148.02,615.19 149.02,615 150.02,615.4 151.02,615.62 152.02,615.51 153.02,615.35 154.02,614.75 155.02,614.65 156.02,615.05 157.02,615.2 158.02,615.47 159.02,615.39 160.02,615.17 161.02,615.45 162.02,615.37 163.02,615.13 164.02,614.95 165.02,614.6 166.02,614.95 167.02,615.48 168.02,615.55 169.02,615.62 170.02,615.24" fill="none" stroke="#f0a040" stroke-width="1.15" stroke-linejoin="round" stroke-linecap="round"/>
<polyline points="57.21,514.46 58.21,514.87 59.21,515.21 60.21,514.95 61.21,514.84 62.21,515.07 63.21,515.23 64.21,515.71 65.21,516.13 66.21,516.07 67.21,516.27 68.21,516.65 69.21,516.85 70.21,517.19 71.21,517.21 72.21,516.65 73.21,516.4 74.21,516.28 75.21,516.16 76.21,516.44 77.21,516.45 78.21,516.15 79.21,516.29 80.21,516.46 81.21,516.64 82.21,517.06 83.21,517.01 84.21,516.68 85.21,516.76 86.21,516.87 87.21,517.16 88.21,517.82 89.21,518.04 90.21,518.22 91.21,518.8 92.21,519.29 93.21,519.94 94.21,520.67 95.21,520.75 96.21,520.74 97.21,520.99 98.21,521.12 99.21,521.57 100.21,522.13 101.21,522.19 102.21,522.4 103.21,522.88 104.21,523.25 105.21,523.93 106.21,524.48 107.21,524.41 108.21,524.49 109.21,524.67 110.21,524.85 111.21,525.5 112.21,526.1 113.21,526.38 114.21,527.08 115.21,527.98 116.21,529.03 117.21,530.62 118.21,531.98 119.21,532.98 120.21,534.22 121.21,535.39 122.21,536.83 123.21,539.21 124.21,541.99 125.21,545.45 126.21,550.23 127.21,555.54 128.21,561.24 129.21,567.06 130.21,572.31 131.21,577.6 132.21,582.87 133.21,587.27 134.21,591.23 135.21,595.1 136.21,598.37 137.21,601.37 138.21,604.22 139.21,606.52 140.21,608.8 141.21,610.74 142.21,611.73 143.21,612.43 144.21,612.99 145.21,613.21 146.21,613.72 147.21,614.18 148.21,614.12 149.21,614.2 150.21,614.37 151.21,614.52 152.21,615.18 153.21,615.69 154.21,615.64 155.21,615.69 156.21,615.53 157.21,615.34 158.21,615.6 159.21,615.6 160.21,615.27 161.21,615.2 162.21,615.07 163.21,615.13 164.21,615.67 165.21,615.84 166.21,615.66 167.21,615.6 168.21,615.27 169.21,615.12" fill="none" stroke="#f08080" stroke-width="1.15" stroke-linejoin="round" stroke-linecap="round"/>
<polyline points="59.62,516.37 60.62,516.81 61.62,516.68 62.62,516.92 63.62,517.37 64.62,517.79 65.62,518.19 66.62,517.9 67.62,517.69 68.62,518.09 69.62,518.16 70.62,518.17 71.62,518.29 72.62,518.47 73.62,519.25 74.62,519.71 75.62,519.52 76.62,519.74 77.62,519.99 78.62,520.23 79.62,520.47 80.62,520.27 81.62,520.58 82.62,521.38 83.62,521.63 84.62,521.73 85.62,521.63 86.62,521.39 87.62,521.44 88.62,520.74 89.62,519.66 90.62,519.2 91.62,518.79 92.62,518.47 93.62,518.06 94.62,517.33 95.62,517.2 96.62,517.25 97.62,516.84 98.62,516.62 99.62,516.58 100.62,517.01 101.62,517.93 102.62,518.38 103.62,518.89 104.62,520.01 105.62,520.95 106.62,521.75 107.62,522.24 108.62,522.46 109.62,523.32 110.62,524.14 111.62,524.46 112.62,525.08 113.62,525.81 114.62,526.78 115.62,527.84 116.62,528.22 117.62,528.89 118.62,530.25 119.62,531.63 120.62,533.23 121.62,534.71 122.62,536.04 123.62,537.7 124.62,538.97 125.62,540.12 126.62,542.39 127.62,545.75 128.62,550.45 129.62,555.73 130.62,560.68 131.62,566 132.62,571.82 133.62,577.72 134.62,583.37 135.62,587.85 136.62,591.47 137.62,594.75 138.62,596.98 139.62,598.62 140.62,600.45 141.62,602.16 142.62,604.01 143.62,605.52 144.62,606.52 145.62,608.03 146.62,609.48 147.62,610.24 148.62,610.81 149.62,611.04 150.62,611.53 151.62,612.33 152.62,612.42 153.62,612.52 154.62,612.93 155.62,613.19 156.62,613.4 157.62,613.09 158.62,612.4 159.62,612.42 160.62,612.32 161.62,611.9 162.62,611.69 163.62,611.45 164.62,611.67 165.62,611.94 166.62,611.38 167.62,610.95 168.62,610.78 169.62,610.48" fill="none" stroke="#a080e0" stroke-width="1.15" stroke-linejoin="round" stroke-linecap="round"/>
<polyline points="54.81,523.72 55.81,524.33 56.81,524.31 57.81,524.74 58.81,525.21 59.81,525.4 60.81,525.41 61.81,525.09 62.81,525.49 63.81,526.16 64.81,526.2 65.81,526.56 66.81,527.11 67.81,527.55 68.81,527.83 69.81,527.46 70.81,527.55 71.81,528.15 72.81,528.19 73.81,528.35 74.81,528.74 75.81,529.17 76.81,529.61 77.81,529.23 78.81,528.93 79.81,529.28 80.81,529.21 81.81,529.16 82.81,529.37 83.81,529.83 84.81,530.7 85.81,530.9 86.81,530.85 87.81,531.44 88.81,531.76 89.81,531.93 90.81,532.16 91.81,532.53 92.81,533.52 93.81,534.03 94.81,533.98 95.81,534.45 96.81,534.77 97.81,534.85 98.81,534.82 99.81,534.7 100.81,535.39 101.81,535.96 102.81,535.86 103.81,536.12 104.81,536.35 105.81,536.37 106.81,536.17 107.81,535.56 108.81,535.68 109.81,536.08 110.81,535.86 111.81,535.89 112.81,536.05 113.81,536.14 114.81,536.04 115.81,535.22 116.81,534.86 117.81,535.05 118.81,534.76 119.81,534.61 120.81,534.68 121.81,534.92 122.81,535.23 123.81,534.65 124.81,534.08 125.81,534.14 126.81,533.88 127.81,533.7 128.81,533.77 129.81,534.23 130.81,535.42 131.81,536.4 132.81,537.95 133.81,541.25 134.81,545.84 135.81,551.14 136.81,556.05 137.81,561.25 138.81,567.62 139.81,573.6 140.81,578.81 141.81,584.02 142.81,588.95 143.81,593.56 144.81,597.7 145.81,601.28 146.81,605.43 147.81,609.56 148.81,612.16 149.81,614.03 150.81,615.3 151.81,616.03 152.81,616.31 153.81,616.03 154.81,616.39 155.81,617.02 156.81,617.05 157.81,617.24 158.81,617.48 159.81,617.74 160.81,617.87 161.81,617.28" fill="none" stroke="#40b090" stroke-width="1.15" stroke-linejoin="round" stroke-linecap="round"/>
<polyline points="54.61,531.49 55.61,531.24 56.61,531.13 57.61,530.39 58.61,529.45 59.61,528.89 60.61,528.45 61.61,528.38 62.61,528.81 63.61,529.07 64.61,529.35 65.61,530.19 66.61,531.04 67.61,531.68 68.61,532.34 69.61,532.54 70.61,532.52 71.61,533 72.61,533.52 73.61,533.72 74.61,533.87 75.61,533.63 76.61,533.01 77.61,532.75 78.61,532.55 79.61,531.84 80.61,531.04 81.61,530.23 82.61,529.4 83.61,529.18 84.61,529.29 85.61,529.08 86.61,529.1 87.61,529.66 88.61,530.45 89.61,531.8 90.61,533.4 91.61,534.43 92.61,535.18 93.61,536.04 94.61,536.62 95.61,537.12 96.61,537.56 97.61,537.33 98.61,536.9 99.61,536.97 100.61,537.12 101.61,537.23 102.61,537.41 103.61,537.05 104.61,536.28 105.61,535.79 106.61,535.13 107.61,534.09 108.61,533.15 109.61,532.16 110.61,531.27 111.61,531.19 112.61,531.42 113.61,531.41 114.61,531.53 115.61,531.64 116.61,531.62 117.61,532.1 118.61,532.77 119.61,532.95 120.61,533.11 121.61,533.37 122.61,533.31 123.61,533.22 124.61,532.91 125.61,531.75 126.61,530.44 127.61,529.54 128.61,528.78 129.61,528.43 130.61,528.61 131.61,528.78 132.61,529.39 133.61,530.96 134.61,532.91 135.61,535.11 136.61,537.6 137.61,539.75 138.61,541.7 139.61,544.07 140.61,546.4 141.61,548.41 142.61,550.41 143.61,552.13 144.61,553.75 145.61,556.06 146.61,558.75 147.61,561.37 148.61,564.57 149.61,568.35 150.61,572.55 151.61,577.63 152.61,583.31 153.61,588.61 154.61,594.02 155.61,599.61" fill="none" stroke="#48c048" stroke-width="1.15" stroke-linejoin="round" stroke-linecap="round"/>
<polyline points="66.83,515.6 67.83,515.63 68.83,516.17 69.83,516.94 70.83,517.49 71.83,518.04 72.83,518.64 73.83,518.91 74.83,518.96 75.83,519.15 76.83,519.12 77.83,518.56 78.83,517.87 79.83,517.44 80.83,516.92 81.83,516.41 82.83,516.14 83.83,515.58 84.83,514.52 85.83,513.53 86.83,513 87.83,512.77 88.83,512.91 89.83,513.55 90.83,514.1 91.83,514.22 92.83,514.46 93.83,515.02 94.83,515.63 95.83,516.41 96.83,517.42 97.83,518.05 98.83,518.18 99.83,518.38 100.83,518.71 101.83,518.79 102.83,518.82 103.83,519.02 104.83,519.04 105.83,518.88 106.83,519.05 107.83,519.36 108.83,519.18 109.83,518.68 110.83,518.16 111.83,517.43 112.83,516.72 113.83,516.58 114.83,516.75 115.83,516.58 116.83,516.16 117.83,515.79 118.83,515.26 119.83,514.88 120.83,515.26 121.83,516.05 122.83,516.64 123.83,517.21 124.83,517.91 125.83,518.44 126.83,518.96 127.83,519.92 128.83,520.99 129.83,521.81 130.83,522.79 131.83,524.15 132.83,525.49 133.83,526.84 134.83,528.48 135.83,530.04 136.83,531.4 137.83,533.38 138.83,536.43 139.83,539.58 140.83,542.25 141.83,544.4 142.83,545.79 143.83,546.47 144.83,547.25 145.83,548.49 146.83,549.89 147.83,551.53 148.83,553.63 149.83,555.69 150.83,557.6 151.83,560 152.83,562.94 153.83,565.99 154.83,569.45 155.83,573.4 156.83,577.18 157.83,580.43 158.83,583.55 159.83,586.66 160.83,589.14 161.83,591.15 162.83,593.06 163.83,594.72 164.83,596.21 165.83,598 166.83,599.8 167.83,600.99 168.83,601.79 169.83,602.62" fill="none" stroke="#222222" stroke-width="1.15" stroke-linejoin="round" stroke-linecap="round"/>
<polyline points="171.29,523.98 172.29,524.7 173.29,525.15 174.29,525.24 175.29,525.78 176.29,526.75 177.29,527.31 178.29,527.66 179.29,528.43 180.29,529.58 181.29,531.21 182.29,533.34 183.29,535.4 184.29,537.36 185.29,539.91 186.29,542.65 187.29,544.79 188.29,546.75 189.29,548.91 190.29,551 191.29,553.09 192.29,555.09 193.29,556.48 194.29,557.58 195.29,559.21 196.29,560.97 197.29,562.22 198.29,563.38 199.29,564.71 200.29,566.02 201.29,567.44 202.29,568.78 203.29,569.55 204.29,570.22 205.29,571.45 206.29,572.63 207.29,573.33 208.29,574.07 209.29,575.06 210.29,576.13 211.29,577.45 212.29,578.72 213.29,579.48 214.29,580.37 215.29,581.85 216.29,583.14 217.29,583.9 218.29,584.69 219.29,585.58 220.29,586.47 221.29,587.56 222.29,588.41 223.29,588.75 224.29,589.33 225.29,590.35 226.29,591.03 227.29,591.23 228.29,591.45 229.29,591.7 230.29,591.96 231.29,592.4 232.29,592.58 233.29,592.42 234.29,592.8 235.29,593.8 236.29,594.63 237.29,595.37 238.29,596.39 239.29,597.32 240.29,598.07 241.29,598.71 242.29,598.78 243.29,598.39 244.29,598.42 245.29,598.78 246.29,598.69 247.29,598.45 248.29,598.45 249.29,598.54 250.29,598.79 251.29,599.16 252.29,599.02 253.29,598.61 254.29,598.71 255.29,598.91 256.29,598.57 257.29,598.07 258.29,597.75 259.29,597.46 260.29,597.39 261.29,597.41 262.29,596.97 263.29,596.47 264.29,596.58 265.29,596.69" fill="none" stroke="#906040" stroke-width="1.15" stroke-linejoin="round" stroke-linecap="round"/>
<polyline points="179.42,518.81 180.42,521.21 181.42,523.24 182.42,525.21 183.42,527.68 184.42,530.19 185.42,532.4 186.42,534.51 187.42,536.17 188.42,537.34 189.42,538.65 190.42,540 191.42,540.72 192.42,541.02 193.42,541.4 194.42,541.73 195.42,542.13 196.42,542.81 197.42,543.2 198.42,543.1 199.42,543.2 200.42,543.56 201.42,543.59 202.42,543.47 203.42,543.27 204.42,542.75 205.42,542.37 206.42,542.6 207.42,542.79 208.42,542.61 209.42,542.54 210.42,542.71 211.42,542.84 212.42,543.31 213.42,543.82 214.42,543.8 215.42,543.69 216.42,544.09 217.42,544.63 218.42,545.07 219.42,545.66 220.42,546.2 221.42,546.67 222.42,547.69 223.42,549.09 224.42,550.09 225.42,550.9 226.42,551.95 227.42,553.09 228.42,554.39 229.42,556.05 230.42,557.48 231.42,558.6 232.42,560.18 233.42,562.21 234.42,564.13 235.42,566.11 236.42,568.25 237.42,570.22 238.42,572.38 239.42,574.94 240.42,577.08 241.42,578.48 242.42,579.73 243.42,581.01 244.42,582.23 245.42,583.74 246.42,585.26 247.42,586.2 248.42,587.04 249.42,588.29 250.42,589.45 251.42,590.28 252.42,590.92 253.42,591.18 254.42,591.14 255.42,591.48 256.42,592.06 257.42,592.15 258.42,592.12 259.42,592.34 260.42,592.58 261.42,592.99 262.42,593.68 263.42,594.01" fill="none" stroke="#8090b0" stroke-width="1.15" stroke-linejoin="round" stroke-linecap="round"/>
<polyline points="172.21,513.8 173.21,514.97 174.21,515.93 175.21,516.87 176.21,517.79 177.21,518.17 178.21,518.52 179.21,519.29 180.21,519.96 181.21,520.73 182.21,521.76 183.21,522.42 184.21,523.08 185.21,524.19 186.21,525.22 187.21,526.25 188.21,527.45 189.21,528.12 190.21,528.44 191.21,529.05 192.21,529.61 193.21,530.2 194.21,531.18 195.21,531.85 196.21,532.14 197.21,532.68 198.21,533.12 199.21,533.46 200.21,534.16 201.21,534.56 202.21,534.51 203.21,534.64 204.21,534.77 205.21,534.96 206.21,535.74 207.21,536.58 208.21,537.06 209.21,537.68 210.21,538.19 211.21,538.5 212.21,539.22 213.21,540.01 214.21,540.41 215.21,540.9 216.21,541.43 217.21,541.86 218.21,542.94 219.21,544.52 220.21,546.07 221.21,547.92 222.21,549.87 223.21,551.51 224.21,553.43 225.21,555.5 226.21,557.27 227.21,559.18 228.21,561.17 229.21,562.81 230.21,564.74 231.21,567.1 232.21,569.45 233.21,572.02 234.21,574.56 235.21,576.33 236.21,577.8 237.21,579.31 238.21,580.48 239.21,581.68 240.21,583 241.21,583.84 242.21,584.6 243.21,585.72 244.21,586.74 245.21,587.78 246.21,588.96 247.21,589.55 248.21,589.7 249.21,589.98 250.21,590.04 251.21,590.12 252.21,590.58 253.21,590.76 254.21,590.67 255.21,590.87 256.21,591.01 257.21,591.15 258.21,591.68 259.21,591.91 260.21,591.65 261.21,591.48 262.21,591.13 263.21,590.73 264.21,590.89 265.21,591.09" fill="none" stroke="#e0a060" stroke-width="1.15" stroke-linejoin="round" stroke-linecap="round"/>
<polyline points="171.29,507.11 172.29,506.66 173.29,506.28 174.29,506.04 175.29,506.08 176.29,506.01 177.29,505.75 178.29,506.05 179.29,507.15 180.29,508.25 181.29,509.13 182.29,510.53 183.29,512.55 184.29,514.56 185.29,516.38 186.29,518.19 187.29,520 188.29,522.1 189.29,524.65 190.29,527.1 191.29,529.22 192.29,531.71 193.29,534.78 194.29,537.61 195.29,539.99 196.29,542.61 197.29,545.6 198.29,548.48 199.29,551.13 200.29,553.61 201.29,555.97 202.29,558.55 203.29,561.47 204.29,564.08 205.29,565.94 206.29,567.82 207.29,570.1 208.29,572.03 209.29,573.28 210.29,574.42 211.29,575.69 212.29,576.88 213.29,577.99 214.29,578.97 215.29,579.67 216.29,580.51 217.29,581.8 218.29,582.88 219.29,583.29 220.29,583.73 221.29,584.62 222.29,585.35 223.29,585.58 224.29,585.77 225.29,586.12 226.29,586.54 227.29,587.14 228.29,587.69 229.29,587.89 230.29,588.21 231.29,589.06 232.29,589.78 233.29,589.81 234.29,589.79 235.29,590.22 236.29,590.62 237.29,590.66 238.29,590.67 239.29,590.78 240.29,591.02 241.29,591.56 242.29,592.1 243.29,592.17 244.29,592.25 245.29,592.89 246.29,593.47 247.29,593.39 248.29,593.21 249.29,593.46 250.29,593.8 251.29,593.98 252.29,594.17 253.29,594.34 254.29,594.62 255.29,595.3 256.29,596 257.29,596.12 258.29,596.12 259.29,596.65 260.29,597.22 261.29,597.2 262.29,597.04 263.29,597.25 264.29,597.61 265.29,597.96" fill="none" stroke="#4060c0" stroke-width="1.15" stroke-linejoin="round" stroke-linecap="round"/>
<polyline points="171.29,510.06 172.29,510.55 173.29,511.56 174.29,512.28 175.29,513 176.29,514.01 177.29,515.04 178.29,516.08 179.29,516.77 180.29,517.07 181.29,517.99 182.29,519.5 183.29,520.55 184.29,521.48 185.29,522.92 186.29,524.17 187.29,524.96 188.29,525.63 189.29,526.27 190.29,527.34 191.29,528.7 192.29,529.43 193.29,529.92 194.29,530.9 195.29,531.54 196.29,531.49 197.29,531.7 198.29,532.38 199.29,533.18 200.29,534.02 201.29,534.58 202.29,535.03 203.29,535.97 204.29,536.71 205.29,536.88 206.29,537.63 207.29,539.07 208.29,540.19 209.29,541.04 210.29,541.96 211.29,542.83 212.29,543.89 213.29,544.93 214.29,545.76 215.29,547.3 216.29,549.56 217.29,551.3 218.29,552.75 219.29,554.75 220.29,556.88 221.29,558.85 222.29,560.96 223.29,563.14 224.29,565.56 225.29,568.04 226.29,569.71 227.29,571.02 228.29,572.93 229.29,574.8 230.29,576.08 231.29,577.52 232.29,579.19 233.29,580.62 234.29,581.74 235.29,582.34 236.29,582.75 237.29,583.76 238.29,584.81 239.29,585.3 240.29,586.16 241.29,587.49 242.29,588.3 243.29,588.68 244.29,589.14 245.29,589.74 246.29,590.65 247.29,591.56 248.29,591.99 249.29,592.64 250.29,593.62 251.29,593.79 252.29,593.44 253.29,593.66 254.29,594.11 255.29,594.46 256.29,594.78 257.29,594.95 258.29,595.17 259.29,595.53 260.29,595.27 261.29,594.78 262.29,595.14 263.29,595.76 264.29,595.85 265.29,595.97" fill="none" stroke="#c080c0" stroke-width="1.15" stroke-linejoin="round" stroke-linecap="round"/>
<polyline points="171.29,509.03 172.29,508.81 173.29,508.8 174.29,509.09 175.29,509.39 176.29,509.39 177.29,509.57 178.29,510.29 179.29,510.7 180.29,510.5 181.29,510.74 182.29,511.57 183.29,511.99 184.29,512.13 185.29,512.89 186.29,514.04 187.29,514.91 188.29,515.71 189.29,516.73 190.29,517.85 191.29,518.98 192.29,519.86 193.29,520.51 194.29,521.53 195.29,522.85 196.29,523.67 197.29,524.25 198.29,525.53 199.29,526.97 200.29,527.69 201.29,528.39 202.29,529.69 203.29,530.89 204.29,531.65 205.29,532.59 206.29,533.95 207.29,535.53 208.29,537.26 209.29,539.05 210.29,541.1 211.29,543.73 212.29,546.4 213.29,548.53 214.29,550.96 215.29,554.17 216.29,557.1 217.29,559.36 218.29,561.94 219.29,564.81 220.29,567 221.29,568.64 222.29,570.52 223.29,572.46 224.29,574.11 225.29,575.5 226.29,576.67 227.29,577.9 228.29,579.27 229.29,580.21 230.29,580.71 231.29,581.65 232.29,582.92 233.29,583.55 234.29,583.94 235.29,584.99 236.29,586.13 237.29,586.61 238.29,586.97 239.29,587.68 240.29,588.25 241.29,588.44 242.29,588.52 243.29,588.64 244.29,588.99 245.29,589.39 246.29,589.47 247.29,589.58 248.29,590.32 249.29,591 250.29,590.97 251.29,591.08 252.29,591.77 253.29,592.05 254.29,591.69 255.29,591.67 256.29,592.02 257.29,592.14 258.29,592.09 259.29,592.24 260.29,592.59 261.29,593.05 262.29,593.35 263.29,593.3 264.29,593.44 265.29,593.94" fill="none" stroke="#e05070" stroke-width="1.15" stroke-linejoin="round" stroke-linecap="round"/>
<polyline points="171.29,519.93 172.29,519.17 173.29,518.33 174.29,516.94 175.29,515.95 176.29,514.93 177.29,513.99 178.29,513.13 179.29,511.71 180.29,510.69 181.29,509.96 182.29,509.37 183.29,509.19 184.29,508.45 185.29,507.79 186.29,507.49 187.29,507.15 188.29,507.29 189.29,507.21 190.29,507.23 191.29,508.12 192.29,509.36 193.29,511.33 194.29,513.34 195.29,514.93 196.29,516.89 197.29,518.77 198.29,520.95 199.29,523.24 200.29,525.01 201.29,527.28 202.29,529.85 203.29,532.76 204.29,536.25 205.29,539.46 206.29,543.04 207.29,546.88 208.29,550.45 209.29,554.44 210.29,558.09 211.29,561.38 212.29,564.59 213.29,567.19 214.29,569.9 215.29,572.1 216.29,573.63 217.29,575.28 218.29,576.6 219.29,578.07 220.29,579.38 221.29,580.02 222.29,580.98 223.29,581.98 224.29,583.21 225.29,584.66 226.29,585.36 227.29,586.06 228.29,586.7 229.29,587.22 230.29,588.04 231.29,588.23 232.29,588.32 233.29,588.74 234.29,589.13 235.29,590.05 236.29,590.54 237.29,590.57 238.29,590.82 239.29,590.78 240.29,591.09 241.29,591.25 242.29,590.87 243.29,590.87 244.29,590.89 245.29,591.27 246.29,591.87 247.29,591.76 248.29,591.73 249.29,591.62 250.29,591.51 251.29,591.77 252.29,591.43 253.29,591.11 254.29,591.07 255.29,591.08 256.29,591.67 257.29,591.81 258.29,591.58 259.29,591.5 260.29,591.16 261.29,591.25 262.29,591.13 263.29,590.5 264.29,590.19 265.29,589.77 266.29,589.71 267.29,589.72 268.29,589.09" fill="none" stroke="#40c060" stroke-width="1.15" stroke-linejoin="round" stroke-linecap="round"/>
<polyline points="174.62,514.45 175.62,515.66 176.62,516.87 177.62,517.93 178.62,519.42 179.62,520.61 180.62,521.3 181.62,522.05 182.62,522.49 183.62,522.9 184.62,523.78 185.62,524.25 186.62,524.45 187.62,524.7 188.62,524.47 189.62,524.49 190.62,524.78 191.62,524.63 192.62,524.42 193.62,524.11 194.62,523.48 195.62,523.4 196.62,523.62 197.62,523.64 198.62,523.91 199.62,524.06 200.62,524.08 201.62,524.72 202.62,525.37 203.62,525.83 204.62,526.32 205.62,526.23 206.62,525.96 207.62,526.04 208.62,525.82 209.62,525.5 210.62,525.08 211.62,524.02 212.62,523.11 213.62,522.52 214.62,521.72 215.62,521.13 216.62,520.4 217.62,519.27 218.62,518.57 219.62,518.08 220.62,517.59 221.62,517.5 222.62,517.17 223.62,516.63 224.62,516.59 225.62,516.61 226.62,516.76 227.62,517.21 228.62,517.1 229.62,516.77 230.62,516.72 231.62,516.55 232.62,516.71 233.62,517.13 234.62,517.18 235.62,517.5 236.62,518.27 237.62,519.26 238.62,521.07 239.62,523.15 240.62,524.97 241.62,527.15 242.62,529.38 243.62,531.63 244.62,534.36 245.62,537.03 246.62,539.81 247.62,542.99 248.62,545.86 249.62,548.76 250.62,552.15 251.62,555.16 252.62,557.98 253.62,560.75 254.62,563.06 255.62,565.53 256.62,568.04 257.62,569.91 258.62,571.66 259.62,573.19 260.62,574.39 261.62,576.08 262.62,577.83 263.62,579.22 264.62,580.65 265.62,581.66 266.62,582.49 267.62,583.79 268.62,584.88 269.62,585.72 270.62,586.62 271.62,587.06 272.62,587.66" fill="none" stroke="#f0b050" stroke-width="1.15" stroke-linejoin="round" stroke-linecap="round"/>
<polyline points="181.83,542.72 182.83,542.57 183.83,542.49 184.83,541.97 185.83,541.57 186.83,541.3 187.83,540.87 188.83,540.79 189.83,540.88 190.83,540.5 191.83,540.04 192.83,539.6 193.83,538.85 194.83,538.31 195.83,538.03 196.83,537.25 197.83,536.31 198.83,535.44 199.83,534.18 200.83,533.06 201.83,532.32 202.83,531.2 203.83,529.85 204.83,528.53 205.83,526.86 206.83,525.25 207.83,524.13 208.83,522.95 209.83,521.63 210.83,520.62 211.83,519.52 212.83,518.59 213.83,518.58 214.83,518.76 215.83,519.08 216.83,519.66 217.83,520.08 218.83,520.38 219.83,521.14 220.83,522.02 221.83,522.61 222.83,523.27 223.83,523.62 224.83,523.29 225.83,523.06 226.83,522.73 227.83,521.81 228.83,520.68 229.83,519.41 230.83,517.92 231.83,517.02 232.83,516.63 233.83,516.14 234.83,515.82 235.83,515.53 236.83,514.76 237.83,514.16 238.83,514.01 239.83,513.83 240.83,513.95 241.83,514.27 242.83,514.19 243.83,514.15 244.83,514.59 245.83,515.15 246.83,516.09 247.83,517.52 248.83,518.64 249.83,519.54 250.83,520.53 251.83,521.09 252.83,521.29 253.83,521.53 254.83,521.37 255.83,521 256.83,521.25 257.83,522.11 258.83,524.19 259.83,528.86 260.83,535.76 261.83,543.64 262.83,550.88 263.83,556.22 264.83,561.01 265.83,566.21 266.83,571.14 267.83,575.18 268.83,578.79 269.83,581.76 270.83,583.86 271.83,585.62 272.83,586.88 273.83,587.31 274.83,587.45 275.83,587.37 276.83,586.84 277.83,586.6 278.83,586.63 279.83,586.33 280.83,586.01 281.83,585.56 282.83,584.45 283.83,583.25 284.83,582.26" fill="none" stroke="#a0a0e0" stroke-width="1.15" stroke-linejoin="round" stroke-linecap="round"/>
<polyline points="171.29,521.57 172.29,521.69 173.29,521.31 174.29,520.94 175.29,520.38 176.29,519.74 177.29,519.66 178.29,519.74 179.29,519.35 180.29,518.72 181.29,517.69 182.29,516.07 183.29,514.61 184.29,513.46 185.29,512.15 186.29,511.05 187.29,510.33 188.29,509.62 189.29,509.46 190.29,510.21 191.29,511.21 192.29,512.42 193.29,514.08 194.29,515.64 195.29,517.11 196.29,518.87 197.29,520.48 198.29,521.77 199.29,523.02 200.29,523.84 201.29,524.19 202.29,524.87 203.29,525.82 204.29,526.57 205.29,527.43 206.29,528.18 207.29,528.36 208.29,528.58 209.29,529.05 210.29,529.35 211.29,529.78 212.29,530.52 213.29,531.08 214.29,531.91 215.29,533.49 216.29,535.07 217.29,536.52 218.29,537.99 219.29,538.93 220.29,539.4 221.29,539.96 222.29,540.35 223.29,540.22 224.29,539.82 225.29,538.71 226.29,536.63 227.29,534.37 228.29,532.26 229.29,530.14 230.29,528.56 231.29,527.48 232.29,526.38 233.29,525.76 234.29,525.63 235.29,525.47 236.29,525.5 237.29,525.85 238.29,525.9 239.29,525.8 240.29,526.05 241.29,526.2 242.29,526.17 243.29,526.24 244.29,525.79 245.29,524.7 246.29,523.75 247.29,522.92 248.29,522.18 249.29,522.05 250.29,522.13 251.29,521.87 252.29,521.7 253.29,521.68 254.29,521.5 255.29,521.72 256.29,522.35 257.29,522.71 258.29,523.04 259.29,523.56 260.29,523.77 261.29,523.89 262.29,524.13 263.29,523.86 264.29,523.19 265.29,522.73 266.29,522.28 267.29,521.95 268.29,522.3 269.29,522.74 270.29,522.9 271.29,523.29 272.29,523.78 273.29,524.3 274.29,525.59 275.29,527.55 276.29,529.56 277.29,531.95 278.29,534.77 279.29,537.82 280.29,541.81 281.29,546.83 282.29,552.2 283.29,558.03 284.29,565.97" fill="none" stroke="#40a0a0" stroke-width="1.15" stroke-linejoin="round" stroke-linecap="round"/>
<polyline points="171.29,544.14 172.29,542.52 173.29,541.35 174.29,540.31 175.29,539.42 176.29,538.77 177.29,538.36 178.29,538.36 179.29,538.51 180.29,538.31 181.29,538.12 182.29,538.65 183.29,539.41 184.29,539.48 185.29,539.06 186.29,538.71 187.29,537.77 188.29,535.59 189.29,532.75 190.29,529.91 191.29,527.25 192.29,524.88 193.29,522.85 194.29,520.95 195.29,519.3 196.29,518.06 197.29,516.81 198.29,515.29 199.29,514.3 200.29,514.11 201.29,513.73 202.29,512.7 203.29,511.83 204.29,511.44 205.29,510.98 206.29,510.41 207.29,510.13 208.29,510.13 209.29,510.27 210.29,510.38 211.29,510.09 212.29,509.6 213.29,509.6 214.29,510.14 215.29,510.52 216.29,510.99 217.29,512.47 218.29,514.68 219.29,516.62 220.29,518.15 221.29,519.65 222.29,520.88 223.29,521.47 224.29,521.6 225.29,521.42 226.29,521.01 227.29,520.58 228.29,519.99 229.29,519 230.29,518.27 231.29,518.54 232.29,519.34 233.29,519.94 234.29,520.75 235.29,522.35 236.29,524.13 237.29,525.69 238.29,527.6 239.29,530.15 240.29,533.17 241.29,536.58 242.29,540.11 243.29,543.48 244.29,546.93 245.29,550.55 246.29,553.68 247.29,556.15 248.29,558.89 249.29,562.03 250.29,564.57 251.29,566.34 252.29,568.23 253.29,570.46 254.29,572.56 255.29,574.55 256.29,576.78 257.29,579.15 258.29,581.49 259.29,583.58 260.29,585.08 261.29,586.14 262.29,587.37 263.29,588.62 264.29,589.16 265.29,589.41" fill="none" stroke="#222222" stroke-width="1.15" stroke-linejoin="round" stroke-linecap="round"/>
<polyline points="344.7,578.33 345.7,578.72 346.7,579.2 347.7,579.74 348.7,579.91 349.7,580.02 350.7,580.49 351.7,580.9 352.7,581.01 353.7,580.95 354.7,580.31 355.7,578.8 356.7,577.03 357.7,575.05 358.7,572.57 359.7,569.87 360.7,567.15 361.7,564.21 362.7,561.27 363.7,558.41 364.7,555.23 365.7,551.77 366.7,548.54 367.7,545.53 368.7,542.8 369.7,540.95 370.7,539.93 371.7,539.19 372.7,538.74 373.7,538.53 374.7,538.12 375.7,537.64 376.7,537.39 377.7,536.91 378.7,535.88 379.7,534.71 380.7,533.3 381.7,531.58 382.7,530.14 383.7,529.03 384.7,527.83 385.7,526.72 386.7,525.8 387.7,524.83 388.7,524.11 389.7,523.95 390.7,524 391.7,524.07 392.7,524.38 393.7,524.78 394.7,525.17 395.7,526 396.7,527.22 397.7,528.21 398.7,529.02 399.7,529.85 400.7,530.5 401.7,531.2 402.7,532.25 403.7,533.18 404.7,533.71 405.7,534.11 406.7,534.23 407.7,533.77 408.7,533.08 409.7,532.26 410.7,531.11 411.7,530.04 412.7,529.39 413.7,528.65 414.7,527.89 415.7,527.51 416.7,527.11 417.7,526.5 418.7,526.05 419.7,525.79 420.7,525.56 421.7,525.78 422.7,526.44 423.7,527.06 424.7,527.74 425.7,528.7 426.7,529.63 427.7,530.64 428.7,531.97 429.7,533.08 430.7,533.68 431.7,534.22 432.7,534.7 433.7,534.96 434.7,535.38 435.7,535.94 436.7,536.07 437.7,535.88 438.7,535.75 439.7,535.54 440.7,535.44 441.7,535.8 442.7,536.26 443.7,536.62 444.7,537.48 445.7,538.81 446.7,540.22 447.7,541.74 448.7,543.02 449.7,543.22 450.7,542.65 451.7,541.88 452.7,540.83 453.7,539.79 454.7,539.17 455.7,538.65 456.7,537.8 457.7,537 458.7,536.27 459.7,535.42 460.7,534.79 461.7,534.34 462.7,533.49 463.7,532.8 464.7,532.95 465.7,533.64 466.7,534.78 467.7,536.36 468.7,537.86 469.7,538.89 470.7,539.81 471.7,540.65 472.7,541.26 473.7,541.98 474.7,542.81 475.7,543.33" fill="none" stroke="#d4a4ac" stroke-width="1.15" stroke-linejoin="round" stroke-linecap="round"/>
<polyline points="344.7,585.64 345.7,586.39 346.7,586.74 347.7,587.07 348.7,587.45 349.7,587.72 350.7,588.49 351.7,589.43 352.7,590.08 353.7,590.75 354.7,591.12 355.7,591.37 356.7,592.1 357.7,592.85 358.7,593.66 359.7,594.69 360.7,595.46 361.7,596.39 362.7,597.6 363.7,598.49 364.7,599.28 365.7,599.88 366.7,599.99 367.7,600.4 368.7,601.03 369.7,601.55 370.7,602.2 371.7,602.51 372.7,602.45 373.7,602.62 374.7,602.65 375.7,602.62 376.7,602.73 377.7,602.44 378.7,602.13 379.7,602.07 380.7,601.78 381.7,601.48 382.7,600.96 383.7,599.82 384.7,598.77 385.7,597.88 386.7,596.95 387.7,596.36 388.7,595.58 389.7,594.45 390.7,593.52 391.7,592.46 392.7,591.39 393.7,590.55 394.7,589.35 395.7,588.05 396.7,587.03 397.7,585.98 398.7,585.31 399.7,584.85 400.7,583.99 401.7,583.29 402.7,582.91 403.7,582.57 404.7,582.57 405.7,582.26 406.7,581.28 407.7,579.98 408.7,578.12 409.7,576.07 410.7,574.29 411.7,572.24 412.7,570.16 413.7,568.45 414.7,566.91 415.7,566.07 416.7,565.84 417.7,565.5 418.7,565.25 419.7,564.91 420.7,564.31 421.7,564.06 422.7,563.82 423.7,563.31 424.7,562.95 425.7,562.41 426.7,561.92 427.7,561.9 428.7,561.72 429.7,561.35 430.7,560.92 431.7,560.03 432.7,559.27 433.7,558.86 434.7,558.21 435.7,557.48 436.7,556.42 437.7,555 438.7,554.18 439.7,553.84 440.7,553.73 441.7,554.06 442.7,554.28 443.7,554.49 444.7,555.22 445.7,555.97 446.7,556.7 447.7,557.38 448.7,557.41 449.7,557.32 450.7,557.41 451.7,557.4 452.7,557.69 453.7,558.05 454.7,558.09 455.7,558.41 456.7,558.83 457.7,559.17 458.7,559.74 459.7,559.98 460.7,559.88 461.7,560.05 462.7,560.2 463.7,560.52 464.7,561.06 465.7,561.13 466.7,561.02 467.7,560.98 468.7,560.78 469.7,560.97 470.7,561.43 471.7,561.74 472.7,562.41 473.7,563.27 474.7,564.18 475.7,565.49 476.7,566.55 477.7,567.13 478.7,567.64 479.7,567.85 480.7,568.18 481.7,568.94 482.7,569.49 483.7,569.95 484.7,570.41 485.7,570.53 486.7,570.85 487.7,571.28 488.7,571.36 489.7,571.49 490.7,571.53 491.7,571.46 492.7,571.87 493.7,572.26 494.7,572.36 495.7,572.4 496.7,571.98 497.7,571.46 498.7,571.33 499.7,571.08 500.7,570.9 501.7,570.8 502.7,570.3 503.7,569.91 504.7,569.66 505.7,569.12 506.7,568.66 507.7,568.05 508.7,567.27 509.7,567.1 510.7,567.33 511.7,567.72 512.7,568.42 513.7,568.78 514.7,568.94 515.7,569.38" fill="none" stroke="#eec080" stroke-width="1.15" stroke-linejoin="round" stroke-linecap="round"/>
<polyline points="344.7,591.67 345.7,592.57 346.7,593.41 347.7,594.3 348.7,595.06 349.7,595.36 350.7,595.7 351.7,596.45 352.7,597.15 353.7,597.76 354.7,598.5 355.7,599.15 356.7,599.85 357.7,600.93 358.7,601.87 359.7,602.32 360.7,602.73 361.7,603.21 362.7,603.66 363.7,604.36 364.7,605.17 365.7,605.6 366.7,606.06 367.7,606.83 368.7,607.5 369.7,607.98 370.7,608.41 371.7,608.51 372.7,608.44 373.7,608.8 374.7,609.18 375.7,609.08 376.7,608.63 377.7,607.69 378.7,605.94 379.7,603.76 380.7,601.12 381.7,597.98 382.7,594.39 383.7,590.59 384.7,586.6 385.7,582.82 386.7,579.55 387.7,576.46 388.7,573.42 389.7,570.86 390.7,568.53 391.7,566.14 392.7,563.94 393.7,561.81 394.7,559.69 395.7,558.07 396.7,556.85 397.7,555.45 398.7,554 399.7,552.8 400.7,551.68 401.7,550.95 402.7,550.8 403.7,550.63 404.7,550.38 405.7,550.53 406.7,550.82 407.7,550.91 408.7,550.86 409.7,550.29 410.7,549.11 411.7,548.05 412.7,547.29 413.7,546.44 414.7,545.72 415.7,545.3 416.7,544.99 417.7,545.04 418.7,545.58 419.7,545.91 420.7,545.9 421.7,546.01 422.7,546.22 423.7,546.46 424.7,546.96 425.7,547.31 426.7,547.15 427.7,547.02 428.7,547.02 429.7,546.76 430.7,546.34 431.7,545.87 432.7,545.14 433.7,544.68 434.7,544.94 435.7,545.46 436.7,545.92 437.7,546.39 438.7,546.52 439.7,546.24 440.7,545.82 441.7,544.99 442.7,543.56 443.7,542.2 444.7,541.22 445.7,540.45 446.7,540.11 447.7,540.17 448.7,540.2 449.7,540.44 450.7,541.23 451.7,542.08 452.7,542.79 453.7,543.52 454.7,544.01 455.7,544.33 456.7,545.02 457.7,545.75 458.7,546 459.7,546.09 460.7,546.15 461.7,546.02 462.7,546.06 463.7,546.15 464.7,545.74 465.7,545.15 466.7,544.91 467.7,544.78 468.7,544.68 469.7,544.79 470.7,544.83 471.7,544.97 472.7,545.81 473.7,547.1 474.7,548.31 475.7,549.6 476.7,550.86 477.7,551.8 478.7,552.72 479.7,553.54 480.7,553.74 481.7,553.51 482.7,553.38 483.7,553.25 484.7,553.25 485.7,553.58 486.7,553.79 487.7,553.75 488.7,554 489.7,554.4 490.7,554.56 491.7,554.66 492.7,554.61 493.7,554.31 494.7,554.29 495.7,554.67 496.7,554.84 497.7,554.83 498.7,554.92 499.7,554.9 500.7,554.96 501.7,555.36 502.7,555.6 503.7,555.56 504.7,555.83 505.7,556.42 506.7,557.08 507.7,557.97 508.7,558.78 509.7,559.18 510.7,559.7 511.7,560.58 512.7,561.33 513.7,561.99 514.7,562.75 515.7,563.39" fill="none" stroke="#40c8e8" stroke-width="1.15" stroke-linejoin="round" stroke-linecap="round"/>
<polyline points="344.7,591.73 345.7,593.11 346.7,594.71 347.7,595.76 348.7,596.46 349.7,597.52 350.7,598.76 351.7,599.77 352.7,600.75 353.7,601.91 354.7,603.16 355.7,604.42 356.7,605.51 357.7,606.15 358.7,606.76 359.7,607.81 360.7,608.82 361.7,609.4 362.7,610.13 363.7,611.3 364.7,612.3 365.7,612.84 366.7,613.21 367.7,613.52 368.7,613.82 369.7,614.17 370.7,614.34 371.7,614.35 372.7,614.68 373.7,615.28 374.7,615.41 375.7,615.11 376.7,615.14 377.7,615.44 378.7,615.57 379.7,615.68 380.7,616.06 381.7,616.59 382.7,617.17 383.7,617.62 384.7,617.61 385.7,617.39 386.7,617.49 387.7,617.54 388.7,617.09 389.7,616.67 390.7,616.75 391.7,616.78 392.7,616.34 393.7,615.78 394.7,615.25 395.7,614.71 396.7,614.25 397.7,613.74 398.7,613.1 399.7,612.83 400.7,613.01 401.7,612.89 402.7,612.28 403.7,611.79 404.7,611.37 405.7,610.37 406.7,608.84 407.7,607.11 408.7,605.11 409.7,602.82 410.7,600.29 411.7,597.35 412.7,594.3 413.7,591.77 414.7,589.6 415.7,587.19 416.7,584.86 417.7,583.17 418.7,581.64 419.7,579.74 420.7,577.76 421.7,575.92 422.7,574.11 423.7,572.39 424.7,570.72 425.7,568.99 426.7,567.59 427.7,566.7 428.7,565.6 429.7,564.01 430.7,562.62 431.7,561.59 432.7,560.34 433.7,558.9 434.7,557.74 435.7,556.9 436.7,556.19 437.7,555.54 438.7,554.69 439.7,553.69 440.7,553.04 441.7,552.63 442.7,551.89 443.7,551.15 444.7,551.03 445.7,551.17 446.7,550.93 447.7,550.53 448.7,550.2 449.7,549.81 450.7,549.39 451.7,548.97 452.7,548.48 453.7,548.27 454.7,548.62 455.7,548.97 456.7,548.97 457.7,549.3 458.7,550.26 459.7,551.19 460.7,551.93 461.7,552.92 462.7,554.19 463.7,555.44 464.7,556.48 465.7,557 466.7,556.86 467.7,556.52 468.7,556.02 469.7,554.9 470.7,553.52 471.7,552.74 472.7,552.51 473.7,552.27 474.7,552.14 475.7,552.31 476.7,552.61 477.7,552.94 478.7,553.32 479.7,553.65 480.7,554.2 481.7,555.29 482.7,556.57 483.7,557.53 484.7,558.6 485.7,560.06 486.7,561.28 487.7,561.88 488.7,562.27 489.7,562.5 490.7,562.14 491.7,561.24 492.7,560.07 493.7,558.94 494.7,558.41 495.7,558.47 496.7,558.39 497.7,558.17 498.7,558.52 499.7,559.35 500.7,559.92 501.7,560.26 502.7,560.75 503.7,561.26 504.7,561.6 505.7,561.85 506.7,562 507.7,562.24 508.7,562.95 509.7,563.76 510.7,564.1 511.7,564.36 512.7,565.02 513.7,565.58 514.7,565.66 515.7,565.77" fill="none" stroke="#a888e0" stroke-width="1.15" stroke-linejoin="round" stroke-linecap="round"/>
<polyline points="344.7,592.94 345.7,593.25 346.7,593.97 347.7,594.94 348.7,595.59 349.7,596.33 350.7,596.9 351.7,597.51 352.7,598.52 353.7,599.18 354.7,599.69 355.7,600.15 356.7,600.42 357.7,601.2 358.7,602.03 359.7,602.62 360.7,603.36 361.7,603.9 362.7,604.71 363.7,605.81 364.7,606.48 365.7,607.09 366.7,607.48 367.7,607.71 368.7,608.35 369.7,608.74 370.7,608.92 371.7,609.14 372.7,609.16 373.7,609.63 374.7,610.22 375.7,610.47 376.7,610.79 377.7,610.85 378.7,610.99 379.7,611.5 380.7,611.64 381.7,611.7 382.7,611.71 383.7,611.59 384.7,612.01 385.7,612.39 386.7,612.56 387.7,612.83 388.7,612.83 389.7,613.12 390.7,613.59 391.7,613.62 392.7,613.57 393.7,613.27 394.7,612.91 395.7,612.97 396.7,612.75 397.7,612.4 398.7,612.05 399.7,611.46 400.7,611.28 401.7,611.09 402.7,610.47 403.7,609.83 404.7,608.77 405.7,607.75 406.7,606.93 407.7,605.63 408.7,604.23 409.7,602.68 410.7,601.01 411.7,599.79 412.7,598.35 413.7,596.62 414.7,594.87 415.7,592.8 416.7,591.05 417.7,589.45 418.7,587.46 419.7,585.48 420.7,583.23 421.7,581.04 422.7,579.35 423.7,577.43 424.7,575.53 425.7,573.68 426.7,571.75 427.7,570.4 428.7,569.09 429.7,567.53 430.7,566.06 431.7,564.33 432.7,562.89 433.7,561.8 434.7,560.4 435.7,559.13 436.7,557.8 437.7,556.53 438.7,555.87 439.7,555.12 440.7,554.29 441.7,553.54 442.7,552.54 443.7,551.93 444.7,551.4 445.7,550.47 446.7,549.56 447.7,548.37 448.7,547.37 449.7,546.88 450.7,546.22 451.7,545.71 452.7,545.32 453.7,545.01 454.7,545.4 455.7,545.85 456.7,546.16 457.7,546.6 458.7,546.78 459.7,547.3 460.7,548.06 461.7,548.5 462.7,549.12 463.7,549.66 464.7,550.28 465.7,551.37 466.7,552.11 467.7,552.59 468.7,552.82 469.7,552.53 470.7,552.41 471.7,552.11 472.7,551.45 473.7,550.92 474.7,550.29 475.7,550.07 476.7,550.43 477.7,550.65 478.7,550.98 479.7,551.2 480.7,551.33 481.7,551.93 482.7,552.35 483.7,552.54 484.7,552.73 485.7,552.64 486.7,552.94 487.7,553.42 488.7,553.59 489.7,553.83 490.7,553.83 491.7,553.88 492.7,554.34 493.7,554.47 494.7,554.48 495.7,554.4 496.7,554.09 497.7,554.29 498.7,554.51 499.7,554.54 500.7,554.73 501.7,554.71 502.7,555.03 503.7,555.69 504.7,556.03 505.7,556.38 506.7,556.52 507.7,556.56 508.7,557.05 509.7,557.32 510.7,557.43 511.7,557.57 512.7,557.49 513.7,557.89 514.7,558.47 515.7,558.77" fill="none" stroke="#7060c8" stroke-width="1.15" stroke-linejoin="round" stroke-linecap="round"/>
<polyline points="344.7,588.19 345.7,587.85 346.7,587.56 347.7,587.74 348.7,587.73 349.7,587.72 350.7,587.8 351.7,587.97 352.7,588.62 353.7,589.02 354.7,588.98 355.7,589.39 356.7,590 357.7,590.62 358.7,591.33 359.7,591.84 360.7,592.77 361.7,594.02 362.7,594.66 363.7,595.09 364.7,595.57 365.7,595.96 366.7,596.49 367.7,596.67 368.7,596.75 369.7,597.47 370.7,598.15 371.7,598.53 372.7,598.88 373.7,599.04 374.7,599.4 375.7,599.69 376.7,599.34 377.7,599.23 378.7,599.48 379.7,599.54 380.7,599.55 381.7,599.2 382.7,598.76 383.7,598.64 384.7,597.98 385.7,596.86 386.7,595.97 387.7,595.09 388.7,594.38 389.7,593.58 390.7,592.39 391.7,591.65 392.7,591.05 393.7,589.94 394.7,588.77 395.7,587.55 396.7,586.48 397.7,585.7 398.7,584.42 399.7,582.98 400.7,581.85 401.7,580.23 402.7,577.91 403.7,574.81 404.7,571.2 405.7,568.19 406.7,565.58 407.7,562.78 408.7,560.28 409.7,558.03 410.7,555.89 411.7,553.86 412.7,551.52 413.7,549.52 414.7,548.22 415.7,546.81 416.7,545.53 417.7,544.63 418.7,543.94 419.7,543.68 420.7,543.18 421.7,542.28 422.7,541.8 423.7,541.34 424.7,540.63 425.7,540 426.7,539.34 427.7,539.16 428.7,539.33 429.7,538.98 430.7,538.62 431.7,538.52 432.7,538.24 433.7,537.93 434.7,537.28 435.7,536.57 436.7,536.52 437.7,536.39 438.7,535.94 439.7,535.64 440.7,535.17 441.7,534.68 442.7,534.12 443.7,533.25 444.7,533.08 445.7,533.8 446.7,534.61 447.7,535.6 448.7,536.48 449.7,537.28 450.7,538.12 451.7,538.1 452.7,537.52 453.7,537.21 454.7,536.89 455.7,536.68 456.7,536.55 457.7,536.36 458.7,536.81 459.7,537.44 460.7,537.51 461.7,537.55 462.7,537.6 463.7,537.62 464.7,537.7 465.7,537.15 466.7,536.38 467.7,536 468.7,535.33 469.7,534.49 470.7,533.81 471.7,533.35 472.7,533.71 473.7,534.38 474.7,534.94 475.7,536.15 476.7,537.72 477.7,539.13 478.7,540.35 479.7,540.95 480.7,541.47 481.7,542.25 482.7,542.46 483.7,542.51 484.7,542.87 485.7,543.3 486.7,543.95 487.7,544.33 488.7,544.36 489.7,544.85 490.7,545.26 491.7,545.22 492.7,545.16 493.7,544.99 494.7,545.08 495.7,545.29 496.7,544.83 497.7,544.24 498.7,543.85 499.7,543.14 500.7,542.33 501.7,541.37 502.7,540.59 503.7,540.74 504.7,541.17 505.7,541.7 506.7,542.89 507.7,544.35 508.7,545.92 509.7,547.28 510.7,548.04 511.7,549.17 512.7,550.7 513.7,551.93 514.7,553.23 515.7,554.66" fill="none" stroke="#4a5fc4" stroke-width="1.15" stroke-linejoin="round" stroke-linecap="round"/>
<polyline points="344.7,593.93 345.7,594.77 346.7,595.68 347.7,596.55 348.7,597.69 349.7,598.46 350.7,598.95 351.7,599.54 352.7,599.92 353.7,600.62 354.7,601.61 355.7,602.28 356.7,603.02 357.7,603.53 358.7,603.73 359.7,604.24 360.7,604.63 361.7,604.86 362.7,605.23 363.7,605.23 364.7,605.34 365.7,605.81 366.7,606.19 367.7,606.79 368.7,607.27 369.7,607.25 370.7,607.35 371.7,607.37 372.7,607.4 373.7,607.83 374.7,608.04 375.7,608.17 376.7,608.45 377.7,608.49 378.7,608.79 379.7,609.19 380.7,609.2 381.7,609.25 382.7,609.07 383.7,608.75 384.7,608.93 385.7,609.13 386.7,609.37 387.7,609.74 388.7,609.64 389.7,609.51 390.7,609.51 391.7,609.28 392.7,609.29 393.7,609.15 394.7,608.68 395.7,608.47 396.7,608.23 397.7,608.07 398.7,608.24 399.7,607.99 400.7,607.49 401.7,606.92 402.7,605.98 403.7,605.3 404.7,604.72 405.7,603.82 406.7,602.97 407.7,601.74 408.7,600.2 409.7,598.88 410.7,597.34 411.7,595.75 412.7,594.25 413.7,592.36 414.7,590.64 415.7,589.18 416.7,587.67 417.7,586.47 418.7,585.06 419.7,583.15 420.7,581.19 421.7,578.82 422.7,576.23 423.7,573.74 424.7,570.77 425.7,567.7 426.7,564.65 427.7,561.4 428.7,558.59 429.7,555.99 430.7,553.17 431.7,550.37 432.7,547.14 433.7,543.76 434.7,540.86 435.7,538.06 436.7,535.67 437.7,533.79 438.7,532 439.7,530.87 440.7,530.24 441.7,529.74 442.7,529.7 443.7,529.37 444.7,528.89 445.7,529.09 446.7,528.98 447.7,528.68 448.7,528.51 449.7,527.93 450.7,527.25 451.7,526.46 452.7,525.34 453.7,524.6 454.7,524.05 455.7,523.57 456.7,523.57 457.7,523.65 458.7,523.95 459.7,524.68 460.7,525.24 461.7,526.01 462.7,526.8 463.7,527.06 464.7,527.35 465.7,527.61 466.7,527.7 467.7,528.06 468.7,528.17 469.7,528 470.7,527.99 471.7,527.78 472.7,527.81 473.7,528.27 474.7,528.6 475.7,529.18 476.7,529.85 477.7,530.45 478.7,531.59 479.7,532.85 480.7,533.96 481.7,535.13 482.7,535.86 483.7,536.51 484.7,537.42 485.7,538.11 486.7,538.9 487.7,539.59 488.7,539.72 489.7,539.89 490.7,539.95 491.7,539.84 492.7,539.97 493.7,539.75 494.7,539.23 495.7,538.82 496.7,538.16 497.7,537.76 498.7,537.68 499.7,537.38 500.7,537.18 501.7,536.85 502.7,536.24 503.7,535.99 504.7,535.76 505.7,535.56 506.7,535.72 507.7,535.74 508.7,536.02 509.7,536.87 510.7,537.82 511.7,539.08 512.7,540.46 513.7,541.53 514.7,542.81 515.7,544.05" fill="none" stroke="#8c7088" stroke-width="1.15" stroke-linejoin="round" stroke-linecap="round"/>
<polyline points="344.7,577.85 345.7,578.36 346.7,578.65 347.7,579.07 348.7,579.25 349.7,579.68 350.7,580.55 351.7,581.17 352.7,581.9 353.7,582.67 354.7,583.41 355.7,584.73 356.7,586.06 357.7,587.13 358.7,588.22 359.7,588.96 360.7,589.87 361.7,591.1 362.7,591.99 363.7,592.85 364.7,593.56 365.7,594.07 366.7,595.01 367.7,595.83 368.7,596.36 369.7,596.94 370.7,597.26 371.7,597.87 372.7,598.86 373.7,599.55 374.7,600.29 375.7,600.96 376.7,601.53 377.7,602.57 378.7,603.44 379.7,604 380.7,604.56 381.7,604.8 382.7,605.25 383.7,605.96 384.7,606.27 385.7,606.63 386.7,606.9 387.7,607.14 388.7,607.91 389.7,608.54 390.7,608.95 391.7,609.42 392.7,609.63 393.7,610.11 394.7,610.79 395.7,611.04 396.7,611.28 397.7,611.42 398.7,611.53 399.7,612.13 400.7,612.57 401.7,612.82 402.7,613.15 403.7,613.29 404.7,613.76 405.7,614.42 406.7,614.62 407.7,614.79 408.7,614.75 409.7,614.59 410.7,614.78 411.7,614.62 412.7,614.15 413.7,613.74 414.7,613.15 415.7,612.9 416.7,612.75 417.7,612.06 418.7,611.23 419.7,610.02 420.7,608.45 421.7,606.79 422.7,604.17 423.7,600.62 424.7,596.55 425.7,591.88 426.7,587.39 427.7,583.14 428.7,578.62 429.7,573.88 430.7,568.79 431.7,563.81 432.7,559.68 433.7,555.95 434.7,552.84 435.7,550.57 436.7,548.59 437.7,547.34 438.7,546.39 439.7,545.07 440.7,544.18 441.7,543.7 442.7,543.54 443.7,543.71 444.7,543.18 445.7,541.8 446.7,539.62 447.7,536.63 448.7,533.63 449.7,530.68 450.7,527.65 451.7,525.37 452.7,523.36 453.7,521.68 454.7,520.61 455.7,519.42 456.7,518.34 457.7,517.62 458.7,517.06 459.7,517.18 460.7,517.53 461.7,517.63 462.7,517.91 463.7,518.11 464.7,518.33 465.7,518.88 466.7,519.16 467.7,519.44 468.7,519.88 469.7,520.16 470.7,520.68 471.7,520.92 472.7,520.42 473.7,519.74 474.7,518.74 475.7,517.7 476.7,516.87 477.7,515.59 478.7,514.3 479.7,513.38 480.7,512.8 481.7,513.16 482.7,513.96 483.7,514.82 484.7,516.01 485.7,516.91 486.7,517.57 487.7,518.24 488.7,518.31 489.7,518.2 490.7,518.19 491.7,518.08 492.7,518.4 493.7,518.67 494.7,518.68 495.7,519.03 496.7,519.41 497.7,520.01 498.7,520.88 499.7,521.24 500.7,521.51 501.7,521.79 502.7,521.84 503.7,522.12 504.7,522.09 505.7,521.59 506.7,521.26 507.7,520.85 508.7,520.62 509.7,520.6 510.7,520.1 511.7,519.59 512.7,519.22 513.7,518.77 514.7,518.63 515.7,518.23" fill="none" stroke="#5cc85c" stroke-width="1.15" stroke-linejoin="round" stroke-linecap="round"/>
<polyline points="344.7,591.96 345.7,592.76 346.7,593.75 347.7,594.58 348.7,595.24 349.7,596.38 350.7,597.56 351.7,598.56 352.7,599.57 353.7,600.12 354.7,600.58 355.7,601.44 356.7,602.19 357.7,602.93 358.7,603.72 359.7,604.19 360.7,604.89 361.7,605.89 362.7,606.55 363.7,607.1 364.7,607.39 365.7,607.29 366.7,607.49 367.7,607.8 368.7,607.89 369.7,608.11 370.7,608.16 371.7,608.16 372.7,608.64 373.7,609.03 374.7,609.18 375.7,609.34 376.7,609.21 377.7,609.22 378.7,609.68 379.7,609.97 380.7,610.25 381.7,610.58 382.7,610.65 383.7,610.99 384.7,611.47 385.7,611.49 386.7,611.39 387.7,611.07 388.7,610.55 389.7,610.46 390.7,610.43 391.7,610.14 392.7,609.99 393.7,609.71 394.7,609.46 395.7,609.63 396.7,609.53 397.7,609.18 398.7,608.94 399.7,608.55 400.7,608.42 401.7,608.61 402.7,608.34 403.7,607.79 404.7,607 405.7,605.72 406.7,604.5 407.7,603.07 408.7,600.94 409.7,598.64 410.7,596.19 411.7,593.65 412.7,591.56 413.7,589.35 414.7,586.74 415.7,584.23 416.7,581.56 417.7,578.92 418.7,576.56 419.7,573.8 420.7,570.8 421.7,567.99 422.7,565.11 423.7,562.55 424.7,560.28 425.7,557.64 426.7,555.01 427.7,552.5 428.7,549.83 429.7,547.43 430.7,544.85 431.7,541.64 432.7,538.45 433.7,535.3 434.7,532.28 435.7,529.84 436.7,527.45 437.7,525.1 438.7,523.31 439.7,521.66 440.7,520.27 441.7,519.22 442.7,517.84 443.7,516.49 444.7,515.58 445.7,514.88 446.7,514.96 447.7,515.79 448.7,516.73 449.7,517.87 450.7,518.83 451.7,519.62 452.7,520.68 453.7,521.4 454.7,521.45 455.7,521.32 456.7,520.88 457.7,520.22 458.7,519.74 459.7,518.97 460.7,518.09 461.7,517.41 462.7,516.63 463.7,516 464.7,515.7 465.7,515.19 466.7,514.97 467.7,515.25 468.7,515.58 469.7,516.13 470.7,516.6 471.7,516.59 472.7,516.76 473.7,517.07 474.7,517.2 475.7,517.45 476.7,517.4 477.7,517.04 478.7,517.06 479.7,517.16 480.7,517.27 481.7,517.52 482.7,517.35 483.7,517.01 484.7,516.95 485.7,516.7 486.7,516.38 487.7,515.98 488.7,515.09 489.7,514.33 490.7,513.91 491.7,513.38 492.7,512.91 493.7,512.12 494.7,510.83 495.7,509.82 496.7,509.02 497.7,508.24 498.7,507.97 499.7,508.17 500.7,509.27 501.7,511.58 502.7,513.83 503.7,515.33 504.7,516.27 505.7,516.56 506.7,516.71 507.7,517.11 508.7,517.25 509.7,517.32 510.7,517.39 511.7,517.14 512.7,517.18 513.7,517.53 514.7,517.64 515.7,517.77" fill="none" stroke="#9058a8" stroke-width="1.15" stroke-linejoin="round" stroke-linecap="round"/>
<polyline points="344.7,590.22 345.7,590.71 346.7,591.43 347.7,592.04 348.7,593.06 349.7,594.32 350.7,595.26 351.7,596.31 352.7,597.04 353.7,597.71 354.7,598.71 355.7,599.5 356.7,600.48 357.7,601.42 358.7,602.16 359.7,603.33 360.7,604.4 361.7,605.45 362.7,606.44 363.7,606.76 364.7,607.1 365.7,607.42 366.7,607.77 367.7,608.57 368.7,609.11 369.7,609.55 370.7,609.93 371.7,609.96 372.7,610.31 373.7,610.6 374.7,610.77 375.7,611.12 376.7,611.16 377.7,611.45 378.7,611.99 379.7,612.36 380.7,612.89 381.7,612.97 382.7,612.78 383.7,612.8 384.7,612.72 385.7,613.09 386.7,613.56 387.7,613.71 388.7,613.99 389.7,613.93 390.7,613.93 391.7,614.17 392.7,614.1 393.7,614.17 394.7,614.11 395.7,613.95 396.7,614.25 397.7,614.44 398.7,614.71 399.7,614.89 400.7,614.5 401.7,614.23 402.7,613.85 403.7,613.48 404.7,613.37 405.7,612.81 406.7,612.19 407.7,611.4 408.7,610.2 409.7,609.21 410.7,607.86 411.7,606.22 412.7,604.5 413.7,602.23 414.7,600.07 415.7,597.93 416.7,595.55 417.7,593.27 418.7,590.47 419.7,587.6 420.7,585.07 421.7,582.69 422.7,581.01 423.7,579.46 424.7,577.83 425.7,576.47 426.7,574.87 427.7,573.45 428.7,572.15 429.7,570.5 430.7,569.05 431.7,567.43 432.7,565.93 433.7,564.99 434.7,563.99 435.7,563.25 436.7,562.55 437.7,561.74 438.7,561.44 439.7,561.22 440.7,561.13 441.7,561.14 442.7,560.47 443.7,559.69 444.7,558.73 445.7,557.66 446.7,557.07 447.7,556.4 448.7,556 449.7,556.11 450.7,556.46 451.7,557.66 452.7,559.22 453.7,560.87 454.7,562.69 455.7,563.97 456.7,565.16 457.7,566.43 458.7,567.73 459.7,569.6 460.7,571.25 461.7,572.48 462.7,573.56 463.7,574.05 464.7,574.56 465.7,574.93 466.7,574.85 467.7,574.89 468.7,574.69 469.7,574.71 470.7,575.22 471.7,575.56 472.7,576 473.7,576.11 474.7,575.84 475.7,575.87 476.7,575.83 477.7,576.09 478.7,576.58 479.7,576.74 480.7,577.19 481.7,577.64 482.7,578.13 483.7,578.9 484.7,579.13 485.7,579.15 486.7,578.99 487.7,578.6 488.7,578.69 489.7,578.69 490.7,578.55 491.7,578.31 492.7,577.41 493.7,576.47 494.7,575.43 495.7,574.16 496.7,573.15 497.7,571.8 498.7,570.45 499.7,569.42 500.7,568.34 501.7,567.63 502.7,566.92 503.7,566.14 504.7,565.91 505.7,565.94 506.7,566.83 507.7,568.43 508.7,569.87 509.7,571.22 510.7,572.04 511.7,572.59 512.7,573.4 513.7,573.95 514.7,574.38 515.7,573.84" fill="none" stroke="#252525" stroke-width="1.15" stroke-linejoin="round" stroke-linecap="round"/></svg></body></html>
